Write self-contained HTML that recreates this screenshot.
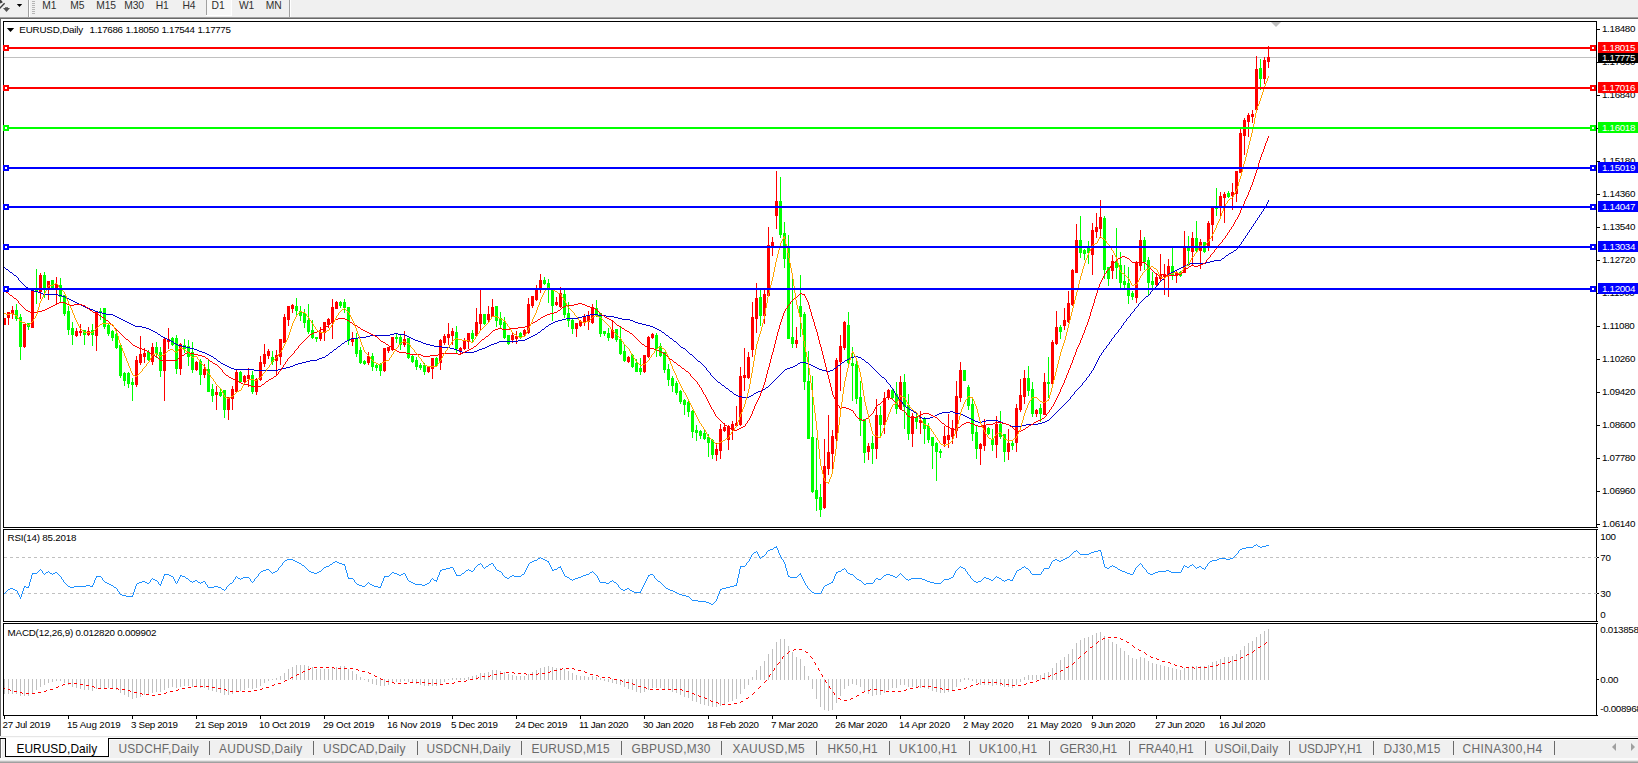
<!DOCTYPE html><html><head><meta charset="utf-8"><title>EURUSD,Daily</title><style>html,body{margin:0;padding:0;background:#f0f0f0;width:1638px;height:763px;overflow:hidden}</style></head><body><svg width="1638" height="763" viewBox="0 0 1638 763" style="position:absolute;left:0;top:0" shape-rendering="crispEdges" font-family="'Liberation Sans',sans-serif">
<rect x="0" y="0" width="1638" height="763" fill="#f0f0f0"/>
<rect x="0" y="17" width="1638" height="1" fill="#a0a0a0"/>
<rect x="0" y="18" width="1638" height="1" fill="#696969"/>
<rect x="0" y="19" width="1638" height="717" fill="#ffffff"/>
<rect x="0" y="19" width="1" height="717" fill="#696969"/>
<rect x="28" y="0" width="1" height="17" fill="#a0a0a0"/>
<rect x="29" y="0" width="1" height="17" fill="#ffffff"/>
<rect x="289" y="0" width="1" height="17" fill="#a0a0a0"/>
<rect x="290" y="0" width="1" height="17" fill="#ffffff"/>
<rect x="32" y="1" width="3" height="1" fill="#b4b4b4"/>
<rect x="32" y="3" width="3" height="1" fill="#b4b4b4"/>
<rect x="32" y="5" width="3" height="1" fill="#b4b4b4"/>
<rect x="32" y="7" width="3" height="1" fill="#b4b4b4"/>
<rect x="32" y="9" width="3" height="1" fill="#b4b4b4"/>
<rect x="32" y="11" width="3" height="1" fill="#b4b4b4"/>
<rect x="32" y="13" width="3" height="1" fill="#b4b4b4"/>
<rect x="206" y="0" width="1" height="15" fill="#a0a0a0"/>
<rect x="207" y="0" width="24" height="15" fill="#f8f8f8"/>
<rect x="206" y="15" width="26" height="1" fill="#ffffff"/>
<rect x="231" y="0" width="1" height="15" fill="#ffffff"/>
<path d="M-1 9 L4.6 3.2" stroke="#404040" stroke-width="1.4" fill="none" shape-rendering="auto"/><path d="M0 0 L1 0 L2.8 2.2 L1.5 3 L0 3.5 Z" fill="#404040" shape-rendering="auto"/>
<path d="M3 8 L5 8 L5 7.3 L8 7.3 L8 8 L10 8 L6.5 12 Z" fill="#505050" shape-rendering="auto"/>
<path d="M16.8 4 L22.2 4 L19.5 7 Z" fill="#000" shape-rendering="auto"/>
<text x="42.3" y="9" font-size="10.3" letter-spacing="-0.15" fill="#303030">M1</text>
<text x="70.3" y="9" font-size="10.3" letter-spacing="-0.15" fill="#303030">M5</text>
<text x="96.3" y="9" font-size="10.3" letter-spacing="-0.15" fill="#303030">M15</text>
<text x="124.3" y="9" font-size="10.3" letter-spacing="-0.15" fill="#303030">M30</text>
<text x="155.70000000000002" y="9" font-size="10.3" letter-spacing="-0.15" fill="#303030">H1</text>
<text x="182.5" y="9" font-size="10.3" letter-spacing="-0.15" fill="#303030">H4</text>
<text x="211.60000000000002" y="9" font-size="10.3" letter-spacing="-0.15" fill="#303030">D1</text>
<text x="239.0" y="9" font-size="10.3" letter-spacing="-0.15" fill="#303030">W1</text>
<text x="265.8" y="9" font-size="10.3" letter-spacing="-0.15" fill="#303030">MN</text>
<rect x="4" y="57" width="1592" height="1" fill="#c0c0c0"/>
<rect x="4" y="318" width="1" height="7" fill="#ff0000"/>
<rect x="3" y="318" width="3" height="7" fill="#ff0000"/>
<rect x="8" y="312" width="1" height="13" fill="#ff0000"/>
<rect x="7" y="312" width="3" height="6" fill="#ff0000"/>
<rect x="12" y="306" width="1" height="13" fill="#ff0000"/>
<rect x="11" y="310" width="3" height="4" fill="#ff0000"/>
<rect x="16" y="304" width="1" height="17" fill="#00ff00"/>
<rect x="15" y="310" width="3" height="9" fill="#00ff00"/>
<rect x="20" y="314" width="1" height="46" fill="#00ff00"/>
<rect x="19" y="317" width="3" height="30" fill="#00ff00"/>
<rect x="24" y="324" width="1" height="24" fill="#ff0000"/>
<rect x="23" y="324" width="3" height="23" fill="#ff0000"/>
<rect x="28" y="323" width="1" height="7" fill="#00ff00"/>
<rect x="27" y="323" width="3" height="4" fill="#00ff00"/>
<rect x="32" y="290" width="1" height="38" fill="#ff0000"/>
<rect x="31" y="290" width="3" height="38" fill="#ff0000"/>
<rect x="36" y="269" width="1" height="35" fill="#00ff00"/>
<rect x="35" y="288" width="3" height="3" fill="#00ff00"/>
<rect x="40" y="273" width="1" height="26" fill="#ff0000"/>
<rect x="39" y="275" width="3" height="17" fill="#ff0000"/>
<rect x="44" y="272" width="1" height="26" fill="#00ff00"/>
<rect x="43" y="275" width="3" height="15" fill="#00ff00"/>
<rect x="48" y="281" width="1" height="19" fill="#ff0000"/>
<rect x="47" y="281" width="3" height="9" fill="#ff0000"/>
<rect x="52" y="280" width="1" height="9" fill="#00ff00"/>
<rect x="51" y="280" width="3" height="9" fill="#00ff00"/>
<rect x="56" y="277" width="1" height="27" fill="#ff0000"/>
<rect x="55" y="284" width="3" height="5" fill="#ff0000"/>
<rect x="60" y="278" width="1" height="24" fill="#00ff00"/>
<rect x="59" y="285" width="3" height="12" fill="#00ff00"/>
<rect x="64" y="295" width="1" height="21" fill="#00ff00"/>
<rect x="63" y="295" width="3" height="19" fill="#00ff00"/>
<rect x="68" y="306" width="1" height="29" fill="#00ff00"/>
<rect x="67" y="311" width="3" height="19" fill="#00ff00"/>
<rect x="72" y="322" width="1" height="23" fill="#00ff00"/>
<rect x="71" y="328" width="3" height="7" fill="#00ff00"/>
<rect x="76" y="328" width="1" height="9" fill="#ff0000"/>
<rect x="75" y="331" width="3" height="5" fill="#ff0000"/>
<rect x="80" y="324" width="1" height="12" fill="#ff0000"/>
<rect x="79" y="331" width="3" height="2" fill="#ff0000"/>
<rect x="84" y="330" width="1" height="15" fill="#00ff00"/>
<rect x="83" y="330" width="3" height="5" fill="#00ff00"/>
<rect x="88" y="327" width="1" height="9" fill="#ff0000"/>
<rect x="87" y="331" width="3" height="4" fill="#ff0000"/>
<rect x="92" y="324" width="1" height="22" fill="#00ff00"/>
<rect x="91" y="330" width="3" height="5" fill="#00ff00"/>
<rect x="96" y="311" width="1" height="40" fill="#ff0000"/>
<rect x="95" y="311" width="3" height="25" fill="#ff0000"/>
<rect x="100" y="308" width="1" height="12" fill="#00ff00"/>
<rect x="99" y="311" width="3" height="2" fill="#00ff00"/>
<rect x="104" y="308" width="1" height="21" fill="#00ff00"/>
<rect x="103" y="308" width="3" height="19" fill="#00ff00"/>
<rect x="108" y="323" width="1" height="13" fill="#00ff00"/>
<rect x="107" y="325" width="3" height="9" fill="#00ff00"/>
<rect x="112" y="330" width="1" height="11" fill="#00ff00"/>
<rect x="111" y="331" width="3" height="7" fill="#00ff00"/>
<rect x="116" y="330" width="1" height="19" fill="#00ff00"/>
<rect x="115" y="334" width="3" height="14" fill="#00ff00"/>
<rect x="120" y="345" width="1" height="33" fill="#00ff00"/>
<rect x="119" y="345" width="3" height="31" fill="#00ff00"/>
<rect x="124" y="372" width="1" height="14" fill="#00ff00"/>
<rect x="123" y="373" width="3" height="8" fill="#00ff00"/>
<rect x="128" y="372" width="1" height="16" fill="#00ff00"/>
<rect x="127" y="373" width="3" height="11" fill="#00ff00"/>
<rect x="132" y="378" width="1" height="23" fill="#00ff00"/>
<rect x="131" y="382" width="3" height="3" fill="#00ff00"/>
<rect x="136" y="356" width="1" height="31" fill="#ff0000"/>
<rect x="135" y="360" width="3" height="25" fill="#ff0000"/>
<rect x="140" y="336" width="1" height="29" fill="#ff0000"/>
<rect x="139" y="354" width="3" height="9" fill="#ff0000"/>
<rect x="144" y="348" width="1" height="15" fill="#ff0000"/>
<rect x="143" y="353" width="3" height="4" fill="#ff0000"/>
<rect x="148" y="350" width="1" height="11" fill="#00ff00"/>
<rect x="147" y="352" width="3" height="8" fill="#00ff00"/>
<rect x="152" y="343" width="1" height="22" fill="#ff0000"/>
<rect x="151" y="347" width="3" height="15" fill="#ff0000"/>
<rect x="156" y="342" width="1" height="16" fill="#00ff00"/>
<rect x="155" y="347" width="3" height="7" fill="#00ff00"/>
<rect x="160" y="347" width="1" height="30" fill="#00ff00"/>
<rect x="159" y="352" width="3" height="19" fill="#00ff00"/>
<rect x="164" y="338" width="1" height="63" fill="#ff0000"/>
<rect x="163" y="339" width="3" height="32" fill="#ff0000"/>
<rect x="168" y="328" width="1" height="21" fill="#ff0000"/>
<rect x="167" y="339" width="3" height="3" fill="#ff0000"/>
<rect x="172" y="337" width="1" height="9" fill="#00ff00"/>
<rect x="171" y="338" width="3" height="7" fill="#00ff00"/>
<rect x="176" y="335" width="1" height="39" fill="#00ff00"/>
<rect x="175" y="338" width="3" height="31" fill="#00ff00"/>
<rect x="180" y="343" width="1" height="32" fill="#ff0000"/>
<rect x="179" y="344" width="3" height="25" fill="#ff0000"/>
<rect x="184" y="339" width="1" height="14" fill="#00ff00"/>
<rect x="183" y="345" width="3" height="4" fill="#00ff00"/>
<rect x="188" y="340" width="1" height="26" fill="#00ff00"/>
<rect x="187" y="346" width="3" height="11" fill="#00ff00"/>
<rect x="192" y="342" width="1" height="31" fill="#00ff00"/>
<rect x="191" y="352" width="3" height="18" fill="#00ff00"/>
<rect x="196" y="361" width="1" height="10" fill="#ff0000"/>
<rect x="195" y="362" width="3" height="8" fill="#ff0000"/>
<rect x="200" y="359" width="1" height="26" fill="#00ff00"/>
<rect x="199" y="361" width="3" height="14" fill="#00ff00"/>
<rect x="204" y="364" width="1" height="14" fill="#ff0000"/>
<rect x="203" y="369" width="3" height="6" fill="#ff0000"/>
<rect x="208" y="360" width="1" height="32" fill="#00ff00"/>
<rect x="207" y="369" width="3" height="23" fill="#00ff00"/>
<rect x="212" y="384" width="1" height="18" fill="#00ff00"/>
<rect x="211" y="389" width="3" height="7" fill="#00ff00"/>
<rect x="216" y="386" width="1" height="24" fill="#ff0000"/>
<rect x="215" y="392" width="3" height="3" fill="#ff0000"/>
<rect x="220" y="389" width="1" height="8" fill="#00ff00"/>
<rect x="219" y="392" width="3" height="4" fill="#00ff00"/>
<rect x="224" y="390" width="1" height="28" fill="#00ff00"/>
<rect x="223" y="390" width="3" height="20" fill="#00ff00"/>
<rect x="228" y="397" width="1" height="23" fill="#ff0000"/>
<rect x="227" y="397" width="3" height="13" fill="#ff0000"/>
<rect x="232" y="386" width="1" height="24" fill="#ff0000"/>
<rect x="231" y="389" width="3" height="10" fill="#ff0000"/>
<rect x="236" y="370" width="1" height="23" fill="#ff0000"/>
<rect x="235" y="372" width="3" height="20" fill="#ff0000"/>
<rect x="240" y="371" width="1" height="12" fill="#00ff00"/>
<rect x="239" y="372" width="3" height="10" fill="#00ff00"/>
<rect x="244" y="375" width="1" height="8" fill="#ff0000"/>
<rect x="243" y="376" width="3" height="6" fill="#ff0000"/>
<rect x="248" y="368" width="1" height="19" fill="#ff0000"/>
<rect x="247" y="375" width="3" height="4" fill="#ff0000"/>
<rect x="252" y="371" width="1" height="23" fill="#00ff00"/>
<rect x="251" y="375" width="3" height="17" fill="#00ff00"/>
<rect x="256" y="378" width="1" height="17" fill="#ff0000"/>
<rect x="255" y="379" width="3" height="13" fill="#ff0000"/>
<rect x="260" y="356" width="1" height="25" fill="#ff0000"/>
<rect x="259" y="362" width="3" height="18" fill="#ff0000"/>
<rect x="264" y="344" width="1" height="23" fill="#ff0000"/>
<rect x="263" y="354" width="3" height="10" fill="#ff0000"/>
<rect x="268" y="349" width="1" height="10" fill="#ff0000"/>
<rect x="267" y="351" width="3" height="5" fill="#ff0000"/>
<rect x="272" y="351" width="1" height="14" fill="#00ff00"/>
<rect x="271" y="357" width="3" height="5" fill="#00ff00"/>
<rect x="276" y="350" width="1" height="25" fill="#ff0000"/>
<rect x="275" y="355" width="3" height="6" fill="#ff0000"/>
<rect x="280" y="339" width="1" height="26" fill="#ff0000"/>
<rect x="279" y="339" width="3" height="18" fill="#ff0000"/>
<rect x="284" y="314" width="1" height="29" fill="#ff0000"/>
<rect x="283" y="317" width="3" height="26" fill="#ff0000"/>
<rect x="288" y="306" width="1" height="20" fill="#ff0000"/>
<rect x="287" y="306" width="3" height="14" fill="#ff0000"/>
<rect x="292" y="304" width="1" height="9" fill="#ff0000"/>
<rect x="291" y="305" width="3" height="4" fill="#ff0000"/>
<rect x="296" y="298" width="1" height="17" fill="#00ff00"/>
<rect x="295" y="306" width="3" height="5" fill="#00ff00"/>
<rect x="300" y="306" width="1" height="15" fill="#00ff00"/>
<rect x="299" y="311" width="3" height="5" fill="#00ff00"/>
<rect x="304" y="309" width="1" height="19" fill="#00ff00"/>
<rect x="303" y="313" width="3" height="10" fill="#00ff00"/>
<rect x="308" y="304" width="1" height="30" fill="#00ff00"/>
<rect x="307" y="320" width="3" height="12" fill="#00ff00"/>
<rect x="312" y="320" width="1" height="19" fill="#00ff00"/>
<rect x="311" y="330" width="3" height="8" fill="#00ff00"/>
<rect x="316" y="337" width="1" height="5" fill="#00ff00"/>
<rect x="315" y="337" width="3" height="2" fill="#00ff00"/>
<rect x="320" y="327" width="1" height="14" fill="#ff0000"/>
<rect x="319" y="332" width="3" height="7" fill="#ff0000"/>
<rect x="324" y="322" width="1" height="19" fill="#ff0000"/>
<rect x="323" y="322" width="3" height="11" fill="#ff0000"/>
<rect x="328" y="318" width="1" height="10" fill="#ff0000"/>
<rect x="327" y="319" width="3" height="6" fill="#ff0000"/>
<rect x="332" y="299" width="1" height="40" fill="#ff0000"/>
<rect x="331" y="307" width="3" height="15" fill="#ff0000"/>
<rect x="336" y="301" width="1" height="8" fill="#ff0000"/>
<rect x="335" y="302" width="3" height="7" fill="#ff0000"/>
<rect x="340" y="301" width="1" height="7" fill="#00ff00"/>
<rect x="339" y="302" width="3" height="4" fill="#00ff00"/>
<rect x="344" y="299" width="1" height="14" fill="#00ff00"/>
<rect x="343" y="302" width="3" height="6" fill="#00ff00"/>
<rect x="348" y="307" width="1" height="38" fill="#00ff00"/>
<rect x="347" y="307" width="3" height="34" fill="#00ff00"/>
<rect x="352" y="332" width="1" height="14" fill="#ff0000"/>
<rect x="351" y="339" width="3" height="3" fill="#ff0000"/>
<rect x="356" y="333" width="1" height="24" fill="#00ff00"/>
<rect x="355" y="339" width="3" height="15" fill="#00ff00"/>
<rect x="360" y="347" width="1" height="17" fill="#00ff00"/>
<rect x="359" y="350" width="3" height="13" fill="#00ff00"/>
<rect x="364" y="360" width="1" height="5" fill="#00ff00"/>
<rect x="363" y="361" width="3" height="3" fill="#00ff00"/>
<rect x="368" y="352" width="1" height="13" fill="#ff0000"/>
<rect x="367" y="356" width="3" height="7" fill="#ff0000"/>
<rect x="372" y="353" width="1" height="18" fill="#00ff00"/>
<rect x="371" y="356" width="3" height="11" fill="#00ff00"/>
<rect x="376" y="363" width="1" height="8" fill="#00ff00"/>
<rect x="375" y="365" width="3" height="3" fill="#00ff00"/>
<rect x="380" y="363" width="1" height="13" fill="#00ff00"/>
<rect x="379" y="364" width="3" height="7" fill="#00ff00"/>
<rect x="384" y="348" width="1" height="24" fill="#ff0000"/>
<rect x="383" y="348" width="3" height="23" fill="#ff0000"/>
<rect x="388" y="347" width="1" height="6" fill="#ff0000"/>
<rect x="387" y="347" width="3" height="4" fill="#ff0000"/>
<rect x="392" y="337" width="1" height="14" fill="#ff0000"/>
<rect x="391" y="337" width="3" height="13" fill="#ff0000"/>
<rect x="396" y="333" width="1" height="10" fill="#00ff00"/>
<rect x="395" y="337" width="3" height="2" fill="#00ff00"/>
<rect x="400" y="335" width="1" height="15" fill="#00ff00"/>
<rect x="399" y="337" width="3" height="8" fill="#00ff00"/>
<rect x="404" y="331" width="1" height="16" fill="#ff0000"/>
<rect x="403" y="339" width="3" height="6" fill="#ff0000"/>
<rect x="408" y="338" width="1" height="21" fill="#00ff00"/>
<rect x="407" y="338" width="3" height="20" fill="#00ff00"/>
<rect x="412" y="355" width="1" height="8" fill="#00ff00"/>
<rect x="411" y="356" width="3" height="6" fill="#00ff00"/>
<rect x="416" y="357" width="1" height="13" fill="#00ff00"/>
<rect x="415" y="360" width="3" height="7" fill="#00ff00"/>
<rect x="420" y="363" width="1" height="7" fill="#00ff00"/>
<rect x="419" y="365" width="3" height="3" fill="#00ff00"/>
<rect x="424" y="363" width="1" height="12" fill="#00ff00"/>
<rect x="423" y="365" width="3" height="7" fill="#00ff00"/>
<rect x="428" y="366" width="1" height="7" fill="#ff0000"/>
<rect x="427" y="367" width="3" height="5" fill="#ff0000"/>
<rect x="432" y="358" width="1" height="21" fill="#ff0000"/>
<rect x="431" y="358" width="3" height="11" fill="#ff0000"/>
<rect x="436" y="357" width="1" height="10" fill="#00ff00"/>
<rect x="435" y="358" width="3" height="8" fill="#00ff00"/>
<rect x="440" y="339" width="1" height="31" fill="#ff0000"/>
<rect x="439" y="340" width="3" height="23" fill="#ff0000"/>
<rect x="444" y="334" width="1" height="11" fill="#ff0000"/>
<rect x="443" y="336" width="3" height="7" fill="#ff0000"/>
<rect x="448" y="323" width="1" height="22" fill="#ff0000"/>
<rect x="447" y="334" width="3" height="4" fill="#ff0000"/>
<rect x="452" y="328" width="1" height="17" fill="#ff0000"/>
<rect x="451" y="331" width="3" height="5" fill="#ff0000"/>
<rect x="456" y="326" width="1" height="28" fill="#00ff00"/>
<rect x="455" y="332" width="3" height="17" fill="#00ff00"/>
<rect x="460" y="347" width="1" height="7" fill="#ff0000"/>
<rect x="459" y="348" width="3" height="4" fill="#ff0000"/>
<rect x="464" y="338" width="1" height="12" fill="#ff0000"/>
<rect x="463" y="341" width="3" height="8" fill="#ff0000"/>
<rect x="468" y="333" width="1" height="16" fill="#ff0000"/>
<rect x="467" y="333" width="3" height="9" fill="#ff0000"/>
<rect x="472" y="330" width="1" height="13" fill="#00ff00"/>
<rect x="471" y="333" width="3" height="6" fill="#00ff00"/>
<rect x="476" y="308" width="1" height="29" fill="#ff0000"/>
<rect x="475" y="322" width="3" height="14" fill="#ff0000"/>
<rect x="480" y="290" width="1" height="40" fill="#ff0000"/>
<rect x="479" y="314" width="3" height="10" fill="#ff0000"/>
<rect x="484" y="314" width="1" height="11" fill="#00ff00"/>
<rect x="483" y="314" width="3" height="10" fill="#00ff00"/>
<rect x="488" y="306" width="1" height="16" fill="#ff0000"/>
<rect x="487" y="314" width="3" height="6" fill="#ff0000"/>
<rect x="492" y="299" width="1" height="18" fill="#ff0000"/>
<rect x="491" y="307" width="3" height="10" fill="#ff0000"/>
<rect x="496" y="306" width="1" height="21" fill="#00ff00"/>
<rect x="495" y="306" width="3" height="15" fill="#00ff00"/>
<rect x="500" y="312" width="1" height="16" fill="#00ff00"/>
<rect x="499" y="318" width="3" height="7" fill="#00ff00"/>
<rect x="504" y="317" width="1" height="22" fill="#00ff00"/>
<rect x="503" y="322" width="3" height="16" fill="#00ff00"/>
<rect x="508" y="335" width="1" height="10" fill="#00ff00"/>
<rect x="507" y="335" width="3" height="9" fill="#00ff00"/>
<rect x="512" y="332" width="1" height="11" fill="#ff0000"/>
<rect x="511" y="335" width="3" height="5" fill="#ff0000"/>
<rect x="516" y="331" width="1" height="13" fill="#ff0000"/>
<rect x="515" y="336" width="3" height="3" fill="#ff0000"/>
<rect x="520" y="332" width="1" height="7" fill="#00ff00"/>
<rect x="519" y="333" width="3" height="4" fill="#00ff00"/>
<rect x="524" y="329" width="1" height="7" fill="#ff0000"/>
<rect x="523" y="330" width="3" height="5" fill="#ff0000"/>
<rect x="528" y="298" width="1" height="36" fill="#ff0000"/>
<rect x="527" y="304" width="3" height="29" fill="#ff0000"/>
<rect x="532" y="296" width="1" height="12" fill="#ff0000"/>
<rect x="531" y="296" width="3" height="10" fill="#ff0000"/>
<rect x="536" y="285" width="1" height="16" fill="#ff0000"/>
<rect x="535" y="290" width="3" height="10" fill="#ff0000"/>
<rect x="540" y="274" width="1" height="19" fill="#ff0000"/>
<rect x="539" y="280" width="3" height="9" fill="#ff0000"/>
<rect x="544" y="277" width="1" height="8" fill="#00ff00"/>
<rect x="543" y="280" width="3" height="4" fill="#00ff00"/>
<rect x="548" y="279" width="1" height="24" fill="#00ff00"/>
<rect x="547" y="283" width="3" height="5" fill="#00ff00"/>
<rect x="552" y="290" width="1" height="31" fill="#00ff00"/>
<rect x="551" y="290" width="3" height="16" fill="#00ff00"/>
<rect x="556" y="297" width="1" height="9" fill="#ff0000"/>
<rect x="555" y="302" width="3" height="3" fill="#ff0000"/>
<rect x="560" y="287" width="1" height="21" fill="#ff0000"/>
<rect x="559" y="293" width="3" height="14" fill="#ff0000"/>
<rect x="564" y="290" width="1" height="28" fill="#00ff00"/>
<rect x="563" y="294" width="3" height="21" fill="#00ff00"/>
<rect x="568" y="302" width="1" height="25" fill="#00ff00"/>
<rect x="567" y="313" width="3" height="8" fill="#00ff00"/>
<rect x="572" y="318" width="1" height="16" fill="#00ff00"/>
<rect x="571" y="320" width="3" height="9" fill="#00ff00"/>
<rect x="576" y="323" width="1" height="14" fill="#ff0000"/>
<rect x="575" y="323" width="3" height="6" fill="#ff0000"/>
<rect x="580" y="320" width="1" height="7" fill="#ff0000"/>
<rect x="579" y="321" width="3" height="5" fill="#ff0000"/>
<rect x="584" y="314" width="1" height="12" fill="#ff0000"/>
<rect x="583" y="317" width="3" height="6" fill="#ff0000"/>
<rect x="588" y="311" width="1" height="19" fill="#ff0000"/>
<rect x="587" y="315" width="3" height="7" fill="#ff0000"/>
<rect x="592" y="304" width="1" height="20" fill="#ff0000"/>
<rect x="591" y="307" width="3" height="16" fill="#ff0000"/>
<rect x="596" y="300" width="1" height="17" fill="#00ff00"/>
<rect x="595" y="308" width="3" height="8" fill="#00ff00"/>
<rect x="600" y="313" width="1" height="24" fill="#00ff00"/>
<rect x="599" y="313" width="3" height="21" fill="#00ff00"/>
<rect x="604" y="331" width="1" height="5" fill="#00ff00"/>
<rect x="603" y="331" width="3" height="3" fill="#00ff00"/>
<rect x="608" y="328" width="1" height="13" fill="#00ff00"/>
<rect x="607" y="333" width="3" height="5" fill="#00ff00"/>
<rect x="612" y="321" width="1" height="18" fill="#ff0000"/>
<rect x="611" y="330" width="3" height="8" fill="#ff0000"/>
<rect x="616" y="329" width="1" height="13" fill="#00ff00"/>
<rect x="615" y="329" width="3" height="11" fill="#00ff00"/>
<rect x="620" y="327" width="1" height="28" fill="#00ff00"/>
<rect x="619" y="339" width="3" height="15" fill="#00ff00"/>
<rect x="624" y="345" width="1" height="17" fill="#00ff00"/>
<rect x="623" y="351" width="3" height="10" fill="#00ff00"/>
<rect x="628" y="356" width="1" height="7" fill="#ff0000"/>
<rect x="627" y="357" width="3" height="5" fill="#ff0000"/>
<rect x="632" y="354" width="1" height="14" fill="#00ff00"/>
<rect x="631" y="355" width="3" height="12" fill="#00ff00"/>
<rect x="636" y="359" width="1" height="13" fill="#00ff00"/>
<rect x="635" y="363" width="3" height="9" fill="#00ff00"/>
<rect x="640" y="358" width="1" height="17" fill="#00ff00"/>
<rect x="639" y="368" width="3" height="4" fill="#00ff00"/>
<rect x="644" y="355" width="1" height="18" fill="#ff0000"/>
<rect x="643" y="355" width="3" height="17" fill="#ff0000"/>
<rect x="648" y="336" width="1" height="22" fill="#ff0000"/>
<rect x="647" y="337" width="3" height="20" fill="#ff0000"/>
<rect x="652" y="333" width="1" height="6" fill="#ff0000"/>
<rect x="651" y="334" width="3" height="4" fill="#ff0000"/>
<rect x="656" y="333" width="1" height="24" fill="#00ff00"/>
<rect x="655" y="335" width="3" height="14" fill="#00ff00"/>
<rect x="660" y="343" width="1" height="14" fill="#00ff00"/>
<rect x="659" y="346" width="3" height="10" fill="#00ff00"/>
<rect x="664" y="352" width="1" height="21" fill="#00ff00"/>
<rect x="663" y="352" width="3" height="18" fill="#00ff00"/>
<rect x="668" y="364" width="1" height="22" fill="#00ff00"/>
<rect x="667" y="369" width="3" height="11" fill="#00ff00"/>
<rect x="672" y="376" width="1" height="16" fill="#00ff00"/>
<rect x="671" y="378" width="3" height="8" fill="#00ff00"/>
<rect x="676" y="381" width="1" height="14" fill="#00ff00"/>
<rect x="675" y="383" width="3" height="10" fill="#00ff00"/>
<rect x="680" y="390" width="1" height="14" fill="#00ff00"/>
<rect x="679" y="391" width="3" height="11" fill="#00ff00"/>
<rect x="684" y="399" width="1" height="16" fill="#00ff00"/>
<rect x="683" y="400" width="3" height="5" fill="#00ff00"/>
<rect x="688" y="399" width="1" height="18" fill="#00ff00"/>
<rect x="687" y="402" width="3" height="10" fill="#00ff00"/>
<rect x="692" y="410" width="1" height="28" fill="#00ff00"/>
<rect x="691" y="411" width="3" height="21" fill="#00ff00"/>
<rect x="696" y="425" width="1" height="16" fill="#00ff00"/>
<rect x="695" y="430" width="3" height="3" fill="#00ff00"/>
<rect x="700" y="430" width="1" height="9" fill="#00ff00"/>
<rect x="699" y="431" width="3" height="5" fill="#00ff00"/>
<rect x="704" y="429" width="1" height="11" fill="#00ff00"/>
<rect x="703" y="433" width="3" height="6" fill="#00ff00"/>
<rect x="708" y="434" width="1" height="23" fill="#00ff00"/>
<rect x="707" y="437" width="3" height="6" fill="#00ff00"/>
<rect x="712" y="439" width="1" height="20" fill="#00ff00"/>
<rect x="711" y="440" width="3" height="15" fill="#00ff00"/>
<rect x="716" y="443" width="1" height="18" fill="#ff0000"/>
<rect x="715" y="449" width="3" height="6" fill="#ff0000"/>
<rect x="720" y="424" width="1" height="35" fill="#ff0000"/>
<rect x="719" y="429" width="3" height="22" fill="#ff0000"/>
<rect x="724" y="423" width="1" height="9" fill="#ff0000"/>
<rect x="723" y="427" width="3" height="4" fill="#ff0000"/>
<rect x="728" y="425" width="1" height="25" fill="#ff0000"/>
<rect x="727" y="426" width="3" height="14" fill="#ff0000"/>
<rect x="732" y="421" width="1" height="19" fill="#ff0000"/>
<rect x="731" y="424" width="3" height="6" fill="#ff0000"/>
<rect x="736" y="406" width="1" height="21" fill="#ff0000"/>
<rect x="735" y="423" width="3" height="3" fill="#ff0000"/>
<rect x="740" y="367" width="1" height="59" fill="#ff0000"/>
<rect x="739" y="376" width="3" height="49" fill="#ff0000"/>
<rect x="744" y="348" width="1" height="43" fill="#ff0000"/>
<rect x="743" y="375" width="3" height="3" fill="#ff0000"/>
<rect x="748" y="352" width="1" height="27" fill="#ff0000"/>
<rect x="747" y="357" width="3" height="21" fill="#ff0000"/>
<rect x="752" y="302" width="1" height="55" fill="#ff0000"/>
<rect x="751" y="317" width="3" height="33" fill="#ff0000"/>
<rect x="756" y="283" width="1" height="50" fill="#ff0000"/>
<rect x="755" y="298" width="3" height="21" fill="#ff0000"/>
<rect x="760" y="290" width="1" height="36" fill="#00ff00"/>
<rect x="759" y="297" width="3" height="19" fill="#00ff00"/>
<rect x="764" y="289" width="1" height="35" fill="#ff0000"/>
<rect x="763" y="294" width="3" height="22" fill="#ff0000"/>
<rect x="768" y="227" width="1" height="70" fill="#ff0000"/>
<rect x="767" y="245" width="3" height="51" fill="#ff0000"/>
<rect x="772" y="237" width="1" height="19" fill="#ff0000"/>
<rect x="771" y="242" width="3" height="6" fill="#ff0000"/>
<rect x="776" y="171" width="1" height="58" fill="#ff0000"/>
<rect x="775" y="201" width="3" height="15" fill="#ff0000"/>
<rect x="780" y="177" width="1" height="61" fill="#00ff00"/>
<rect x="779" y="201" width="3" height="34" fill="#00ff00"/>
<rect x="784" y="222" width="1" height="46" fill="#00ff00"/>
<rect x="783" y="233" width="3" height="26" fill="#00ff00"/>
<rect x="788" y="235" width="1" height="104" fill="#00ff00"/>
<rect x="787" y="246" width="3" height="93" fill="#00ff00"/>
<rect x="792" y="279" width="1" height="69" fill="#00ff00"/>
<rect x="791" y="337" width="3" height="7" fill="#00ff00"/>
<rect x="796" y="327" width="1" height="21" fill="#ff0000"/>
<rect x="795" y="340" width="3" height="4" fill="#ff0000"/>
<rect x="800" y="275" width="1" height="62" fill="#00ff00"/>
<rect x="799" y="306" width="3" height="11" fill="#00ff00"/>
<rect x="804" y="312" width="1" height="78" fill="#00ff00"/>
<rect x="803" y="314" width="3" height="68" fill="#00ff00"/>
<rect x="808" y="351" width="1" height="88" fill="#00ff00"/>
<rect x="807" y="381" width="3" height="58" fill="#00ff00"/>
<rect x="812" y="376" width="1" height="117" fill="#00ff00"/>
<rect x="811" y="437" width="3" height="55" fill="#00ff00"/>
<rect x="816" y="438" width="1" height="73" fill="#00ff00"/>
<rect x="815" y="490" width="3" height="9" fill="#00ff00"/>
<rect x="820" y="484" width="1" height="33" fill="#00ff00"/>
<rect x="819" y="497" width="3" height="13" fill="#00ff00"/>
<rect x="824" y="439" width="1" height="70" fill="#ff0000"/>
<rect x="823" y="466" width="3" height="42" fill="#ff0000"/>
<rect x="828" y="415" width="1" height="60" fill="#ff0000"/>
<rect x="827" y="452" width="3" height="17" fill="#ff0000"/>
<rect x="832" y="430" width="1" height="39" fill="#ff0000"/>
<rect x="831" y="436" width="3" height="18" fill="#ff0000"/>
<rect x="836" y="358" width="1" height="83" fill="#ff0000"/>
<rect x="835" y="360" width="3" height="79" fill="#ff0000"/>
<rect x="840" y="335" width="1" height="56" fill="#ff0000"/>
<rect x="839" y="346" width="3" height="16" fill="#ff0000"/>
<rect x="844" y="321" width="1" height="29" fill="#ff0000"/>
<rect x="843" y="322" width="3" height="26" fill="#ff0000"/>
<rect x="848" y="312" width="1" height="54" fill="#00ff00"/>
<rect x="847" y="325" width="3" height="38" fill="#00ff00"/>
<rect x="852" y="347" width="1" height="54" fill="#00ff00"/>
<rect x="851" y="363" width="3" height="3" fill="#00ff00"/>
<rect x="856" y="359" width="1" height="45" fill="#00ff00"/>
<rect x="855" y="364" width="3" height="35" fill="#00ff00"/>
<rect x="860" y="381" width="1" height="55" fill="#00ff00"/>
<rect x="859" y="397" width="3" height="24" fill="#00ff00"/>
<rect x="864" y="419" width="1" height="44" fill="#00ff00"/>
<rect x="863" y="419" width="3" height="34" fill="#00ff00"/>
<rect x="868" y="443" width="1" height="17" fill="#ff0000"/>
<rect x="867" y="446" width="3" height="6" fill="#ff0000"/>
<rect x="872" y="436" width="1" height="28" fill="#00ff00"/>
<rect x="871" y="443" width="3" height="6" fill="#00ff00"/>
<rect x="876" y="399" width="1" height="60" fill="#ff0000"/>
<rect x="875" y="415" width="3" height="34" fill="#ff0000"/>
<rect x="880" y="406" width="1" height="31" fill="#00ff00"/>
<rect x="879" y="415" width="3" height="10" fill="#00ff00"/>
<rect x="884" y="392" width="1" height="42" fill="#ff0000"/>
<rect x="883" y="398" width="3" height="27" fill="#ff0000"/>
<rect x="888" y="389" width="1" height="11" fill="#ff0000"/>
<rect x="887" y="390" width="3" height="8" fill="#ff0000"/>
<rect x="892" y="389" width="1" height="10" fill="#00ff00"/>
<rect x="891" y="390" width="3" height="8" fill="#00ff00"/>
<rect x="896" y="382" width="1" height="32" fill="#00ff00"/>
<rect x="895" y="394" width="3" height="15" fill="#00ff00"/>
<rect x="900" y="376" width="1" height="34" fill="#ff0000"/>
<rect x="899" y="382" width="3" height="27" fill="#ff0000"/>
<rect x="904" y="374" width="1" height="55" fill="#00ff00"/>
<rect x="903" y="382" width="3" height="25" fill="#00ff00"/>
<rect x="908" y="394" width="1" height="46" fill="#00ff00"/>
<rect x="907" y="405" width="3" height="29" fill="#00ff00"/>
<rect x="912" y="413" width="1" height="34" fill="#ff0000"/>
<rect x="911" y="416" width="3" height="18" fill="#ff0000"/>
<rect x="916" y="414" width="1" height="15" fill="#00ff00"/>
<rect x="915" y="417" width="3" height="5" fill="#00ff00"/>
<rect x="920" y="411" width="1" height="23" fill="#ff0000"/>
<rect x="919" y="420" width="3" height="3" fill="#ff0000"/>
<rect x="924" y="417" width="1" height="27" fill="#00ff00"/>
<rect x="923" y="419" width="3" height="10" fill="#00ff00"/>
<rect x="928" y="423" width="1" height="20" fill="#00ff00"/>
<rect x="927" y="426" width="3" height="14" fill="#00ff00"/>
<rect x="932" y="437" width="1" height="32" fill="#00ff00"/>
<rect x="931" y="437" width="3" height="9" fill="#00ff00"/>
<rect x="936" y="442" width="1" height="39" fill="#00ff00"/>
<rect x="935" y="443" width="3" height="9" fill="#00ff00"/>
<rect x="940" y="449" width="1" height="9" fill="#00ff00"/>
<rect x="939" y="451" width="3" height="2" fill="#00ff00"/>
<rect x="944" y="426" width="1" height="21" fill="#ff0000"/>
<rect x="943" y="436" width="3" height="8" fill="#ff0000"/>
<rect x="948" y="414" width="1" height="34" fill="#ff0000"/>
<rect x="947" y="435" width="3" height="5" fill="#ff0000"/>
<rect x="952" y="420" width="1" height="24" fill="#ff0000"/>
<rect x="951" y="428" width="3" height="9" fill="#ff0000"/>
<rect x="956" y="381" width="1" height="57" fill="#ff0000"/>
<rect x="955" y="396" width="3" height="35" fill="#ff0000"/>
<rect x="960" y="362" width="1" height="40" fill="#ff0000"/>
<rect x="959" y="370" width="3" height="28" fill="#ff0000"/>
<rect x="964" y="370" width="1" height="11" fill="#00ff00"/>
<rect x="963" y="370" width="3" height="11" fill="#00ff00"/>
<rect x="968" y="385" width="1" height="25" fill="#00ff00"/>
<rect x="967" y="387" width="3" height="19" fill="#00ff00"/>
<rect x="972" y="398" width="1" height="43" fill="#00ff00"/>
<rect x="971" y="404" width="3" height="30" fill="#00ff00"/>
<rect x="976" y="426" width="1" height="33" fill="#00ff00"/>
<rect x="975" y="432" width="3" height="17" fill="#00ff00"/>
<rect x="980" y="443" width="1" height="22" fill="#ff0000"/>
<rect x="979" y="444" width="3" height="5" fill="#ff0000"/>
<rect x="984" y="419" width="1" height="32" fill="#ff0000"/>
<rect x="983" y="425" width="3" height="21" fill="#ff0000"/>
<rect x="988" y="427" width="1" height="8" fill="#00ff00"/>
<rect x="987" y="428" width="3" height="6" fill="#00ff00"/>
<rect x="992" y="429" width="1" height="22" fill="#00ff00"/>
<rect x="991" y="439" width="3" height="6" fill="#00ff00"/>
<rect x="996" y="416" width="1" height="42" fill="#ff0000"/>
<rect x="995" y="424" width="3" height="21" fill="#ff0000"/>
<rect x="1000" y="411" width="1" height="28" fill="#00ff00"/>
<rect x="999" y="424" width="3" height="13" fill="#00ff00"/>
<rect x="1004" y="434" width="1" height="28" fill="#00ff00"/>
<rect x="1003" y="434" width="3" height="18" fill="#00ff00"/>
<rect x="1008" y="429" width="1" height="31" fill="#ff0000"/>
<rect x="1007" y="443" width="3" height="9" fill="#ff0000"/>
<rect x="1012" y="441" width="1" height="9" fill="#00ff00"/>
<rect x="1011" y="443" width="3" height="3" fill="#00ff00"/>
<rect x="1016" y="404" width="1" height="48" fill="#ff0000"/>
<rect x="1015" y="408" width="3" height="35" fill="#ff0000"/>
<rect x="1020" y="379" width="1" height="33" fill="#ff0000"/>
<rect x="1019" y="395" width="3" height="15" fill="#ff0000"/>
<rect x="1024" y="370" width="1" height="34" fill="#ff0000"/>
<rect x="1023" y="378" width="3" height="19" fill="#ff0000"/>
<rect x="1028" y="366" width="1" height="30" fill="#00ff00"/>
<rect x="1027" y="378" width="3" height="13" fill="#00ff00"/>
<rect x="1032" y="382" width="1" height="35" fill="#00ff00"/>
<rect x="1031" y="389" width="3" height="25" fill="#00ff00"/>
<rect x="1036" y="409" width="1" height="8" fill="#ff0000"/>
<rect x="1035" y="410" width="3" height="4" fill="#ff0000"/>
<rect x="1040" y="404" width="1" height="18" fill="#00ff00"/>
<rect x="1039" y="408" width="3" height="6" fill="#00ff00"/>
<rect x="1044" y="373" width="1" height="42" fill="#ff0000"/>
<rect x="1043" y="382" width="3" height="33" fill="#ff0000"/>
<rect x="1048" y="357" width="1" height="41" fill="#00ff00"/>
<rect x="1047" y="382" width="3" height="2" fill="#00ff00"/>
<rect x="1052" y="340" width="1" height="45" fill="#ff0000"/>
<rect x="1051" y="342" width="3" height="42" fill="#ff0000"/>
<rect x="1056" y="311" width="1" height="34" fill="#ff0000"/>
<rect x="1055" y="327" width="3" height="17" fill="#ff0000"/>
<rect x="1060" y="325" width="1" height="14" fill="#00ff00"/>
<rect x="1059" y="327" width="3" height="5" fill="#00ff00"/>
<rect x="1064" y="308" width="1" height="22" fill="#ff0000"/>
<rect x="1063" y="320" width="3" height="6" fill="#ff0000"/>
<rect x="1068" y="291" width="1" height="32" fill="#ff0000"/>
<rect x="1067" y="303" width="3" height="19" fill="#ff0000"/>
<rect x="1072" y="269" width="1" height="37" fill="#ff0000"/>
<rect x="1071" y="270" width="3" height="35" fill="#ff0000"/>
<rect x="1076" y="224" width="1" height="49" fill="#ff0000"/>
<rect x="1075" y="240" width="3" height="33" fill="#ff0000"/>
<rect x="1080" y="216" width="1" height="42" fill="#00ff00"/>
<rect x="1079" y="240" width="3" height="13" fill="#00ff00"/>
<rect x="1084" y="249" width="1" height="11" fill="#00ff00"/>
<rect x="1083" y="250" width="3" height="4" fill="#00ff00"/>
<rect x="1088" y="241" width="1" height="23" fill="#00ff00"/>
<rect x="1087" y="248" width="3" height="5" fill="#00ff00"/>
<rect x="1092" y="223" width="1" height="52" fill="#ff0000"/>
<rect x="1091" y="230" width="3" height="25" fill="#ff0000"/>
<rect x="1096" y="213" width="1" height="25" fill="#ff0000"/>
<rect x="1095" y="227" width="3" height="5" fill="#ff0000"/>
<rect x="1100" y="200" width="1" height="38" fill="#ff0000"/>
<rect x="1099" y="217" width="3" height="12" fill="#ff0000"/>
<rect x="1104" y="216" width="1" height="63" fill="#00ff00"/>
<rect x="1103" y="218" width="3" height="52" fill="#00ff00"/>
<rect x="1108" y="267" width="1" height="19" fill="#00ff00"/>
<rect x="1107" y="267" width="3" height="12" fill="#00ff00"/>
<rect x="1112" y="255" width="1" height="24" fill="#ff0000"/>
<rect x="1111" y="261" width="3" height="10" fill="#ff0000"/>
<rect x="1116" y="228" width="1" height="51" fill="#00ff00"/>
<rect x="1115" y="261" width="3" height="7" fill="#00ff00"/>
<rect x="1120" y="252" width="1" height="36" fill="#00ff00"/>
<rect x="1119" y="265" width="3" height="18" fill="#00ff00"/>
<rect x="1124" y="265" width="1" height="23" fill="#00ff00"/>
<rect x="1123" y="281" width="3" height="4" fill="#00ff00"/>
<rect x="1128" y="267" width="1" height="37" fill="#00ff00"/>
<rect x="1127" y="283" width="3" height="13" fill="#00ff00"/>
<rect x="1132" y="291" width="1" height="9" fill="#00ff00"/>
<rect x="1131" y="293" width="3" height="4" fill="#00ff00"/>
<rect x="1136" y="261" width="1" height="42" fill="#ff0000"/>
<rect x="1135" y="263" width="3" height="35" fill="#ff0000"/>
<rect x="1140" y="230" width="1" height="41" fill="#ff0000"/>
<rect x="1139" y="240" width="3" height="26" fill="#ff0000"/>
<rect x="1144" y="237" width="1" height="33" fill="#00ff00"/>
<rect x="1143" y="240" width="3" height="22" fill="#00ff00"/>
<rect x="1148" y="257" width="1" height="38" fill="#00ff00"/>
<rect x="1147" y="260" width="3" height="23" fill="#00ff00"/>
<rect x="1152" y="272" width="1" height="19" fill="#00ff00"/>
<rect x="1151" y="281" width="3" height="4" fill="#00ff00"/>
<rect x="1156" y="273" width="1" height="13" fill="#ff0000"/>
<rect x="1155" y="277" width="3" height="8" fill="#ff0000"/>
<rect x="1160" y="254" width="1" height="27" fill="#ff0000"/>
<rect x="1159" y="274" width="3" height="5" fill="#ff0000"/>
<rect x="1164" y="264" width="1" height="31" fill="#ff0000"/>
<rect x="1163" y="274" width="3" height="3" fill="#ff0000"/>
<rect x="1168" y="259" width="1" height="38" fill="#ff0000"/>
<rect x="1167" y="266" width="3" height="10" fill="#ff0000"/>
<rect x="1172" y="248" width="1" height="32" fill="#00ff00"/>
<rect x="1171" y="266" width="3" height="10" fill="#00ff00"/>
<rect x="1176" y="270" width="1" height="13" fill="#ff0000"/>
<rect x="1175" y="273" width="3" height="3" fill="#ff0000"/>
<rect x="1180" y="271" width="1" height="6" fill="#00ff00"/>
<rect x="1179" y="272" width="3" height="4" fill="#00ff00"/>
<rect x="1184" y="231" width="1" height="42" fill="#ff0000"/>
<rect x="1183" y="247" width="3" height="26" fill="#ff0000"/>
<rect x="1188" y="236" width="1" height="30" fill="#00ff00"/>
<rect x="1187" y="247" width="3" height="4" fill="#00ff00"/>
<rect x="1192" y="232" width="1" height="34" fill="#ff0000"/>
<rect x="1191" y="238" width="3" height="14" fill="#ff0000"/>
<rect x="1196" y="221" width="1" height="31" fill="#00ff00"/>
<rect x="1195" y="238" width="3" height="13" fill="#00ff00"/>
<rect x="1200" y="239" width="1" height="30" fill="#ff0000"/>
<rect x="1199" y="242" width="3" height="9" fill="#ff0000"/>
<rect x="1204" y="242" width="1" height="11" fill="#00ff00"/>
<rect x="1203" y="242" width="3" height="10" fill="#00ff00"/>
<rect x="1208" y="221" width="1" height="30" fill="#ff0000"/>
<rect x="1207" y="223" width="3" height="23" fill="#ff0000"/>
<rect x="1212" y="207" width="1" height="34" fill="#ff0000"/>
<rect x="1211" y="207" width="3" height="18" fill="#ff0000"/>
<rect x="1216" y="188" width="1" height="28" fill="#00ff00"/>
<rect x="1215" y="206" width="3" height="3" fill="#00ff00"/>
<rect x="1220" y="192" width="1" height="25" fill="#ff0000"/>
<rect x="1219" y="196" width="3" height="12" fill="#ff0000"/>
<rect x="1224" y="192" width="1" height="31" fill="#ff0000"/>
<rect x="1223" y="194" width="3" height="4" fill="#ff0000"/>
<rect x="1228" y="191" width="1" height="7" fill="#00ff00"/>
<rect x="1227" y="193" width="3" height="4" fill="#00ff00"/>
<rect x="1232" y="183" width="1" height="27" fill="#ff0000"/>
<rect x="1231" y="192" width="3" height="4" fill="#ff0000"/>
<rect x="1236" y="171" width="1" height="31" fill="#ff0000"/>
<rect x="1235" y="171" width="3" height="23" fill="#ff0000"/>
<rect x="1240" y="128" width="1" height="45" fill="#ff0000"/>
<rect x="1239" y="133" width="3" height="40" fill="#ff0000"/>
<rect x="1244" y="118" width="1" height="37" fill="#ff0000"/>
<rect x="1243" y="120" width="3" height="16" fill="#ff0000"/>
<rect x="1248" y="113" width="1" height="24" fill="#ff0000"/>
<rect x="1247" y="115" width="3" height="7" fill="#ff0000"/>
<rect x="1252" y="110" width="1" height="13" fill="#ff0000"/>
<rect x="1251" y="114" width="3" height="3" fill="#ff0000"/>
<rect x="1256" y="56" width="1" height="54" fill="#ff0000"/>
<rect x="1255" y="69" width="3" height="41" fill="#ff0000"/>
<rect x="1260" y="59" width="1" height="31" fill="#00ff00"/>
<rect x="1259" y="68" width="3" height="11" fill="#00ff00"/>
<rect x="1264" y="57" width="1" height="27" fill="#ff0000"/>
<rect x="1263" y="60" width="3" height="19" fill="#ff0000"/>
<rect x="1268" y="46" width="1" height="22" fill="#ff0000"/>
<rect x="1267" y="57" width="3" height="5" fill="#ff0000"/>
<path d="M169 340h2v1h-2zM347 340h2v1h-2zM415 340h3v1h-3zM518 340h7v1h-7zM87 308h3v1h-3zM234 369h20v1h-20zM278 369h4v1h-4zM785 369h2v1h-2zM819 369h3v1h-3zM182 346h4v1h-4zM338 346h2v1h-2zM434 346h8v1h-8zM487 346h2v1h-2zM370 335h20v1h-20zM405 335h2v1h-2zM533 335h2v1h-2zM666 335h2v1h-2zM914 412h2v1h-2zM942 412h8v1h-8zM953 412h2v1h-2zM194 349h3v1h-3zM334 349h2v1h-2zM454 349h3v1h-3zM479 349h3v1h-3zM718 382h2v1h-2zM106 314h7v1h-7zM590 314h8v1h-8zM1190 263h16v1h-16zM38 292h3v1h-3zM119 318h2v1h-2zM566 318h12v1h-12zM618 318h4v1h-4zM973 420h2v1h-2zM986 420h12v1h-12zM1047 420h2v1h-2zM231 368h3v1h-3zM282 368h4v1h-4zM787 368h3v1h-3zM817 368h2v1h-2zM834 368h2v1h-2zM223 364h2v1h-2zM295 364h3v1h-3zM809 364h2v1h-2zM202 352h3v1h-3zM330 352h2v1h-2zM462 352h12v1h-12zM317 359h2v1h-2zM847 359h2v1h-2zM862 359h2v1h-2zM736 395h2v1h-2zM751 395h2v1h-2zM225 365h2v1h-2zM293 365h2v1h-2zM795 365h2v1h-2zM811 365h2v1h-2zM838 365h2v1h-2zM933 416h2v1h-2zM965 416h2v1h-2zM229 367h2v1h-2zM286 367h4v1h-4zM790 367h3v1h-3zM815 367h2v1h-2zM125 321h2v1h-2zM555 321h3v1h-3zM633 321h2v1h-2zM1006 424h3v1h-3zM1026 424h12v1h-12zM730 391h2v1h-2zM758 391h3v1h-3zM302 362h4v1h-4zM800 362h6v1h-6zM842 362h2v1h-2zM866 362h2v1h-2zM971 419h2v1h-2zM935 415h2v1h-2zM963 415h2v1h-2zM190 348h4v1h-4zM450 348h4v1h-4zM482 348h3v1h-3zM683 348h2v1h-2zM131 324h2v1h-2zM549 324h2v1h-2zM642 324h4v1h-4zM742 397h7v1h-7zM1011 426h11v1h-11zM165 338h2v1h-2zM351 338h7v1h-7zM411 338h2v1h-2zM527 338h2v1h-2zM670 338h2v1h-2zM207 354h2v1h-2zM690 354h2v1h-2zM151 330h2v1h-2zM659 330h2v1h-2zM93 310h2v1h-2zM1003 423h3v1h-3zM1038 423h4v1h-4zM115 316h2v1h-2zM582 316h4v1h-4zM606 316h8v1h-8zM186 347h4v1h-4zM442 347h8v1h-8zM485 347h2v1h-2zM681 347h2v1h-2zM738 396h4v1h-4zM749 396h2v1h-2zM756 392h2v1h-2zM133 325h2v1h-2zM646 325h4v1h-4zM754 393h2v1h-2zM113 315h2v1h-2zM586 315h4v1h-4zM598 315h8v1h-8zM939 413h3v1h-3zM955 413h6v1h-6zM155 332h2v1h-2zM538 332h2v1h-2zM662 332h2v1h-2zM1206 262h4v1h-4zM121 319h2v1h-2zM562 319h4v1h-4zM622 319h8v1h-8zM421 342h2v1h-2zM497 342h2v1h-2zM149 329h2v1h-2zM542 329h2v1h-2zM657 329h2v1h-2zM763 389h2v1h-2zM163 337h2v1h-2zM358 337h8v1h-8zM409 337h2v1h-2zM529 337h2v1h-2zM158 334h2v1h-2zM390 334h4v1h-4zM398 334h7v1h-7zM535 334h2v1h-2zM199 351h3v1h-3zM459 351h3v1h-3zM474 351h3v1h-3zM135 326h7v1h-7zM546 326h2v1h-2zM650 326h3v1h-3zM102 313h4v1h-4zM31 290h3v1h-3zM95 311h3v1h-3zM178 345h4v1h-4zM430 345h4v1h-4zM489 345h2v1h-2zM117 317h2v1h-2zM578 317h4v1h-4zM614 317h4v1h-4zM950 411h3v1h-3zM221 363h2v1h-2zM298 363h4v1h-4zM798 363h2v1h-2zM806 363h3v1h-3zM826 371h4v1h-4zM1210 261h4v1h-4zM214 358h2v1h-2zM319 358h3v1h-3zM849 358h2v1h-2zM1173 271h2v1h-2zM310 360h7v1h-7zM845 360h2v1h-2zM174 343h2v1h-2zM342 343h2v1h-2zM423 343h3v1h-3zM494 343h3v1h-3zM127 322h2v1h-2zM553 322h2v1h-2zM635 322h3v1h-3zM920 417h2v1h-2zM930 417h3v1h-3zM967 417h2v1h-2zM129 323h2v1h-2zM551 323h2v1h-2zM638 323h4v1h-4zM1009 425h2v1h-2zM1022 425h4v1h-4zM77 303h2v1h-2zM882 377h2v1h-2zM90 309h3v1h-3zM176 344h2v1h-2zM426 344h4v1h-4zM491 344h3v1h-3zM81 305h2v1h-2zM167 339h2v1h-2zM349 339h2v1h-2zM413 339h2v1h-2zM525 339h2v1h-2zM209 355h2v1h-2zM326 355h2v1h-2zM62 296h3v1h-3zM1146 296h2v1h-2zM322 357h3v1h-3zM851 357h3v1h-3zM858 357h3v1h-3zM205 353h2v1h-2zM171 341h2v1h-2zM345 341h2v1h-2zM418 341h3v1h-3zM499 341h19v1h-19zM674 341h2v1h-2zM254 370h24v1h-24zM822 370h4v1h-4zM830 370h3v1h-3zM123 320h2v1h-2zM558 320h4v1h-4zM630 320h3v1h-3zM1185 265h2v1h-2zM1181 267h2v1h-2zM29 289h2v1h-2zM978 422h4v1h-4zM1001 422h2v1h-2zM1042 422h3v1h-3zM227 366h2v1h-2zM290 366h3v1h-3zM793 366h2v1h-2zM813 366h2v1h-2zM975 421h3v1h-3zM982 421h4v1h-4zM998 421h3v1h-3zM1045 421h2v1h-2zM218 361h2v1h-2zM306 361h4v1h-4zM698 361h2v1h-2zM1222 258h2v1h-2zM211 356h2v1h-2zM854 356h4v1h-4zM922 418h8v1h-8zM969 418h2v1h-2zM937 414h2v1h-2zM961 414h2v1h-2zM1175 270h2v1h-2zM79 304h2v1h-2zM761 390h2v1h-2zM43 294h15v1h-15zM394 333h4v1h-4zM26 287h2v1h-2zM98 312h4v1h-4zM726 388h2v1h-2zM153 331h2v1h-2zM146 328h3v1h-3zM655 328h2v1h-2zM161 336h2v1h-2zM366 336h4v1h-4zM407 336h2v1h-2zM531 336h2v1h-2zM766 387h2v1h-2zM1183 266h2v1h-2zM1214 260h7v1h-7zM85 307h2v1h-2zM10 272h2v1h-2zM1171 272h2v1h-2zM1229 253h2v1h-2zM75 302h2v1h-2zM67 298h2v1h-2zM41 293h2v1h-2zM34 291h4v1h-4zM197 350h2v1h-2zM457 350h2v1h-2zM477 350h2v1h-2zM142 327h4v1h-4zM653 327h2v1h-2zM69 299h2v1h-2zM71 300h2v1h-2zM734 394h2v1h-2zM1226 255h2v1h-2zM906 407h2v1h-2zM722 385h2v1h-2zM65 297h2v1h-2zM83 306h2v1h-2zM58 295h4v1h-4zM1162 279h2v1h-2zM911 410h2v1h-2zM1169 273h2v1h-2zM1187 264h3v1h-3zM73 301h2v1h-2zM909 409h2v1h-2zM6 269h2v1h-2zM1177 269h2v1h-2zM1234 250h2v1h-2zM1179 268h2v1h-2zM14 275h2v1h-2zM1231 252h2v1h-2zM1263 209h1v2h-1zM1088 376h1v1h-1zM1135 308h1v1h-1zM1091 371h1v2h-1zM833 369h1v1h-1zM1238 246h1v2h-1zM1060 408h1v1h-1zM1083 382h1v1h-1zM1247 233h1v2h-1zM1130 314h1v2h-1zM1150 292h1v2h-1zM1095 364h1v2h-1zM886 380h1v2h-1zM899 399h1v1h-1zM1103 350h1v2h-1zM711 375h1v1h-1zM900 400h1v1h-1zM1115 334h1v1h-1zM1267 202h1v2h-1zM696 359h1v1h-1zM779 375h1v1h-1zM844 361h1v1h-1zM1138 304h1v2h-1zM544 328h1v1h-1zM1075 391h1v1h-1zM220 362h1v1h-1zM157 333h1v1h-1zM1099 356h1v2h-1zM1123 323h1v2h-1zM1243 239h1v2h-1zM1166 276h1v1h-1zM1067 401h1v1h-1zM1070 397h1v2h-1zM885 379h1v1h-1zM1106 346h1v2h-1zM328 354h1v1h-1zM874 369h1v1h-1zM1118 330h1v2h-1zM710 373h1v2h-1zM1250 229h1v1h-1zM1078 388h1v1h-1zM22 283h1v1h-1zM1134 309h1v2h-1zM1154 288h1v1h-1zM1055 413h1v1h-1zM665 334h1v1h-1zM685 349h1v1h-1zM548 325h1v1h-1zM717 381h1v1h-1zM1266 204h1v2h-1zM1126 319h1v2h-1zM1129 316h1v1h-1zM680 346h1v1h-1zM1086 378h1v2h-1zM1142 300h1v1h-1zM774 380h1v1h-1zM873 368h1v1h-1zM732 392h1v1h-1zM1157 285h1v1h-1zM733 393h1v1h-1zM1137 306h1v1h-1zM21 282h1v1h-1zM216 359h1v1h-1zM903 404h1v1h-1zM1062 406h1v1h-1zM881 376h1v1h-1zM1233 251h1v1h-1zM1257 218h1v2h-1zM797 364h1v1h-1zM1082 383h1v2h-1zM1149 294h1v1h-1zM1114 335h1v2h-1zM1094 366h1v2h-1zM1117 332h1v1h-1zM1246 235h1v1h-1zM1050 418h1v1h-1zM709 372h1v1h-1zM1164 278h1v1h-1zM1109 342h1v2h-1zM888 383h1v1h-1zM1253 224h1v2h-1zM1074 392h1v2h-1zM661 331h1v1h-1zM902 402h1v2h-1zM765 388h1v1h-1zM9 271h1v1h-1zM880 375h1v1h-1zM341 344h1v1h-1zM1225 256h1v1h-1zM916 413h1v1h-1zM1085 380h1v1h-1zM1132 312h1v1h-1zM1152 290h1v1h-1zM1237 248h1v1h-1zM1120 328h1v1h-1zM728 389h1v1h-1zM917 414h1v1h-1zM887 382h1v1h-1zM702 364h1v1h-1zM5 268h1v1h-1zM28 288h1v1h-1zM781 373h1v1h-1zM1140 302h1v1h-1zM778 376h1v1h-1zM1077 389h1v1h-1zM712 376h1v1h-1zM1265 206h1v2h-1zM713 377h1v1h-1zM1168 274h1v1h-1zM1069 399h1v1h-1zM769 385h1v1h-1zM1072 395h1v1h-1zM686 350h1v1h-1zM676 342h1v1h-1zM687 351h1v1h-1zM1105 348h1v1h-1zM4 267h1v1h-1zM1249 230h1v2h-1zM1108 344h1v1h-1zM1156 286h1v1h-1zM1057 411h1v1h-1zM901 401h1v1h-1zM1256 220h1v1h-1zM891 387h1v1h-1zM1259 215h1v2h-1zM697 360h1v1h-1zM1093 368h1v2h-1zM913 411h1v1h-1zM876 371h1v1h-1zM23 284h1v1h-1zM1144 298h1v1h-1zM1240 244h1v1h-1zM868 363h1v1h-1zM776 378h1v1h-1zM908 408h1v1h-1zM837 366h1v1h-1zM753 394h1v1h-1zM841 363h1v1h-1zM1159 282h1v1h-1zM1049 419h1v1h-1zM332 351h1v1h-1zM875 370h1v1h-1zM1252 226h1v1h-1zM1064 404h1v1h-1zM890 385h1v2h-1zM336 348h1v1h-1zM340 345h1v1h-1zM864 360h1v1h-1zM217 360h1v1h-1zM904 405h1v1h-1zM1128 317h1v1h-1zM1151 291h1v1h-1zM1116 333h1v1h-1zM783 371h1v1h-1zM1052 416h1v1h-1zM1111 339h1v2h-1zM537 333h1v1h-1zM1079 387h1v1h-1zM703 365h1v1h-1zM1255 221h1v2h-1zM704 366h1v1h-1zM1139 303h1v1h-1zM894 391h1v2h-1zM1262 211h1v1h-1zM1131 313h1v1h-1zM1087 377h1v1h-1zM344 342h1v1h-1zM1224 257h1v1h-1zM1158 283h1v2h-1zM1059 409h1v1h-1zM541 330h1v1h-1zM918 415h1v1h-1zM729 390h1v1h-1zM780 374h1v1h-1zM678 344h1v1h-1zM771 383h1v1h-1zM919 416h1v1h-1zM545 327h1v1h-1zM889 384h1v1h-1zM692 355h1v1h-1zM213 357h1v1h-1zM18 278h1v2h-1zM893 389h1v2h-1zM768 386h1v1h-1zM1071 396h1v1h-1zM1098 358h1v2h-1zM1119 329h1v1h-1zM1239 245h1v1h-1zM1122 325h1v1h-1zM836 367h1v1h-1zM1251 227h1v2h-1zM1066 402h1v1h-1zM1102 352h1v1h-1zM870 365h1v1h-1zM677 343h1v1h-1zM895 393h1v2h-1zM1258 217h1v1h-1zM1063 405h1v1h-1zM707 370h1v1h-1zM896 395h1v1h-1zM1054 414h1v1h-1zM160 335h1v1h-1zM1090 373h1v1h-1zM724 386h1v1h-1zM892 388h1v1h-1zM775 379h1v1h-1zM1242 241h1v1h-1zM1125 321h1v1h-1zM714 378h1v1h-1zM673 340h1v1h-1zM725 387h1v1h-1zM1161 280h1v1h-1zM1051 417h1v1h-1zM1141 301h1v1h-1zM1165 277h1v1h-1zM1110 341h1v1h-1zM869 364h1v1h-1zM688 352h1v1h-1zM25 286h1v1h-1zM1133 311h1v1h-1zM706 368h1v2h-1zM1153 289h1v1h-1zM877 372h1v1h-1zM672 339h1v1h-1zM782 372h1v1h-1zM24 285h1v1h-1zM1101 353h1v2h-1zM1245 236h1v2h-1zM1148 295h1v1h-1zM1113 337h1v1h-1zM1058 410h1v1h-1zM1254 223h1v1h-1zM540 331h1v1h-1zM770 384h1v1h-1zM1097 360h1v2h-1zM1261 212h1v2h-1zM720 383h1v1h-1zM1089 374h1v2h-1zM16 276h1v1h-1zM1136 307h1v1h-1zM1121 326h1v2h-1zM669 337h1v1h-1zM1241 242h1v2h-1zM721 384h1v1h-1zM705 367h1v1h-1zM17 277h1v1h-1zM694 357h1v1h-1zM1061 407h1v1h-1zM1081 385h1v1h-1zM1084 381h1v1h-1zM865 361h1v1h-1zM905 406h1v1h-1zM695 358h1v1h-1zM773 381h1v1h-1zM1145 297h1v1h-1zM861 358h1v1h-1zM1073 394h1v1h-1zM668 336h1v1h-1zM884 378h1v1h-1zM679 345h1v1h-1zM693 356h1v1h-1zM898 397h1v2h-1zM1264 208h1v1h-1zM1167 275h1v1h-1zM325 356h1v1h-1zM1068 400h1v1h-1zM329 353h1v1h-1zM1160 281h1v1h-1zM715 379h1v1h-1zM1236 249h1v1h-1zM1104 349h1v1h-1zM1268 200h1v2h-1zM1248 232h1v1h-1zM333 350h1v1h-1zM1096 362h1v2h-1zM716 380h1v1h-1zM12 273h1v1h-1zM1065 403h1v1h-1zM1155 287h1v1h-1zM1056 412h1v1h-1zM1076 390h1v1h-1zM13 274h1v1h-1zM871 366h1v1h-1zM777 377h1v1h-1zM872 367h1v1h-1zM1092 370h1v1h-1zM19 280h1v1h-1zM1053 415h1v1h-1zM708 371h1v1h-1zM897 396h1v1h-1zM1143 299h1v1h-1zM20 281h1v1h-1zM1228 254h1v1h-1zM878 373h1v1h-1zM1124 322h1v1h-1zM879 374h1v1h-1zM337 347h1v1h-1zM664 333h1v1h-1zM1221 259h1v1h-1zM173 342h1v1h-1zM689 353h1v1h-1zM1260 214h1v1h-1zM784 370h1v1h-1zM701 363h1v1h-1zM1100 355h1v1h-1zM1080 386h1v1h-1zM1244 238h1v1h-1zM1127 318h1v1h-1zM1112 338h1v1h-1zM8 270h1v1h-1zM1107 345h1v1h-1zM772 382h1v1h-1zM840 364h1v1h-1zM700 362h1v1h-1z" fill="#0000cd"/>
<path d="M353 324h2v1h-2zM529 324h2v1h-2zM1120 257h2v1h-2zM1125 257h2v1h-2zM53 305h2v1h-2zM70 305h4v1h-4zM82 305h3v1h-3zM566 305h8v1h-8zM585 305h2v1h-2zM237 381h2v1h-2zM266 381h2v1h-2zM543 316h2v1h-2zM153 355h2v1h-2zM182 355h2v1h-2zM198 355h4v1h-4zM421 355h2v1h-2zM430 355h8v1h-8zM890 398h2v1h-2zM1203 263h2v1h-2zM682 368h2v1h-2zM251 386h10v1h-10zM1191 265h3v1h-3zM1198 265h3v1h-3zM383 342h2v1h-2zM800 293h2v1h-2zM842 407h4v1h-4zM312 333h2v1h-2zM369 333h2v1h-2zM630 333h2v1h-2zM923 413h6v1h-6zM1156 274h2v1h-2zM1162 274h4v1h-4zM1178 274h3v1h-3zM908 416h2v1h-2zM917 416h2v1h-2zM933 416h2v1h-2zM1186 268h2v1h-2zM194 354h4v1h-4zM410 354h11v1h-11zM438 354h4v1h-4zM458 354h3v1h-3zM725 425h2v1h-2zM975 425h3v1h-3zM982 425h4v1h-4zM1029 425h2v1h-2zM239 382h2v1h-2zM1132 262h13v1h-13zM678 365h2v1h-2zM160 360h17v1h-17zM314 332h3v1h-3zM367 332h2v1h-2zM139 348h3v1h-3zM471 348h2v1h-2zM650 348h4v1h-4zM886 397h2v1h-2zM106 320h2v1h-2zM333 320h2v1h-2zM347 320h2v1h-2zM611 320h2v1h-2zM249 385h2v1h-2zM126 339h2v1h-2zM482 339h2v1h-2zM45 309h2v1h-2zM595 309h2v1h-2zM732 429h2v1h-2zM737 429h2v1h-2zM954 429h3v1h-3zM1014 429h2v1h-2zM1023 429h2v1h-2zM321 329h2v1h-2zM361 329h2v1h-2zM495 329h3v1h-3zM502 329h8v1h-8zM730 428h2v1h-2zM739 428h2v1h-2zM950 428h4v1h-4zM57 303h2v1h-2zM65 303h2v1h-2zM578 303h4v1h-4zM55 304h2v1h-2zM67 304h3v1h-3zM74 304h8v1h-8zM574 304h4v1h-4zM582 304h3v1h-3zM966 422h4v1h-4zM995 422h7v1h-7zM1034 422h2v1h-2zM30 312h8v1h-8zM93 312h2v1h-2zM554 312h3v1h-3zM243 384h6v1h-6zM262 384h2v1h-2zM381 341h2v1h-2zM942 423h2v1h-2zM964 423h2v1h-2zM970 423h3v1h-3zM993 423h2v1h-2zM1002 423h4v1h-4zM1158 275h4v1h-4zM1166 275h12v1h-12zM338 318h7v1h-7zM607 318h2v1h-2zM921 414h2v1h-2zM929 414h2v1h-2zM350 322h2v1h-2zM533 322h2v1h-2zM97 314h2v1h-2zM547 314h3v1h-3zM840 408h2v1h-2zM846 408h3v1h-3zM727 426h2v1h-2zM743 426h2v1h-2zM946 426h2v1h-2zM978 426h4v1h-4zM1010 426h2v1h-2zM358 327h2v1h-2zM518 327h7v1h-7zM670 359h2v1h-2zM231 378h2v1h-2zM271 378h2v1h-2zM878 404h2v1h-2zM910 417h7v1h-7zM935 417h2v1h-2zM226 375h2v1h-2zM851 410h2v1h-2zM902 410h2v1h-2zM862 420h3v1h-3zM1038 420h3v1h-3zM10 295h2v1h-2zM135 346h2v1h-2zM389 346h2v1h-2zM474 346h2v1h-2zM645 346h2v1h-2zM142 349h3v1h-3zM394 349h2v1h-2zM469 349h2v1h-2zM654 349h3v1h-3zM919 415h2v1h-2zM931 415h2v1h-2zM1189 266h2v1h-2zM1194 266h4v1h-4zM147 351h2v1h-2zM397 351h2v1h-2zM465 351h2v1h-2zM659 351h2v1h-2zM59 302h6v1h-6zM150 353h2v1h-2zM185 353h2v1h-2zM190 353h4v1h-4zM406 353h4v1h-4zM442 353h16v1h-16zM461 353h2v1h-2zM663 353h2v1h-2zM734 430h3v1h-3zM1016 430h2v1h-2zM1021 430h2v1h-2zM210 361h2v1h-2zM235 380h2v1h-2zM326 326h2v1h-2zM525 326h2v1h-2zM619 326h2v1h-2zM51 306h2v1h-2zM564 306h2v1h-2zM587 306h3v1h-3zM95 313h2v1h-2zM550 313h4v1h-4zM102 317h2v1h-2zM541 317h2v1h-2zM605 317h2v1h-2zM858 418h2v1h-2zM866 418h2v1h-2zM1042 418h2v1h-2zM741 427h2v1h-2zM948 427h2v1h-2zM958 427h2v1h-2zM1026 427h2v1h-2zM317 331h2v1h-2zM365 331h2v1h-2zM627 331h2v1h-2zM155 356h2v1h-2zM202 356h3v1h-3zM423 356h7v1h-7zM178 358h2v1h-2zM206 358h2v1h-2zM1018 431h3v1h-3zM375 336h2v1h-2zM486 336h2v1h-2zM1118 258h2v1h-2zM1127 258h2v1h-2zM133 345h2v1h-2zM323 328h2v1h-2zM498 328h4v1h-4zM510 328h8v1h-8zM622 328h2v1h-2zM335 319h3v1h-3zM345 319h2v1h-2zM538 319h2v1h-2zM609 319h2v1h-2zM355 325h2v1h-2zM527 325h2v1h-2zM617 325h2v1h-2zM28 311h2v1h-2zM38 311h4v1h-4zM6 292h2v1h-2zM241 383h2v1h-2zM215 364h2v1h-2zM962 424h2v1h-2zM973 424h2v1h-2zM986 424h7v1h-7zM1006 424h3v1h-3zM1031 424h2v1h-2zM386 344h2v1h-2zM642 344h2v1h-2zM849 409h2v1h-2zM860 419h2v1h-2zM47 308h2v1h-2zM593 308h2v1h-2zM187 352h3v1h-3zM399 352h7v1h-7zM463 352h2v1h-2zM661 352h2v1h-2zM49 307h2v1h-2zM86 307h2v1h-2zM562 307h2v1h-2zM590 307h3v1h-3zM99 315h2v1h-2zM545 315h2v1h-2zM602 315h2v1h-2zM802 294h3v1h-3zM531 323h2v1h-2zM1036 421h2v1h-2zM137 347h2v1h-2zM391 347h2v1h-2zM647 347h3v1h-3zM145 350h2v1h-2zM467 350h2v1h-2zM657 350h2v1h-2zM26 310h2v1h-2zM42 310h3v1h-3zM90 310h2v1h-2zM558 310h2v1h-2zM310 334h2v1h-2zM371 334h2v1h-2zM373 335h2v1h-2zM535 321h2v1h-2zM233 379h2v1h-2zM269 379h2v1h-2zM319 330h2v1h-2zM363 330h2v1h-2zM493 330h2v1h-2zM625 330h2v1h-2zM1201 264h2v1h-2zM274 376h2v1h-2zM674 362h2v1h-2zM686 371h2v1h-2zM229 377h2v1h-2zM213 363h2v1h-2zM1122 256h3v1h-3zM14 298h2v1h-2zM794 298h2v1h-2zM681 367h1v1h-1zM755 404h1v2h-1zM484 338h1v1h-1zM836 401h1v2h-1zM821 347h1v4h-1zM329 324h1v1h-1zM1209 257h1v1h-1zM632 334h1v1h-1zM1106 271h1v2h-1zM721 421h1v1h-1zM1212 253h1v1h-1zM613 321h1v1h-1zM829 379h1v4h-1zM1248 192h1v3h-1zM1260 157h1v3h-1zM822 351h1v4h-1zM101 316h1v1h-1zM614 322h1v1h-1zM488 335h1v1h-1zM1060 389h1v3h-1zM885 398h1v1h-1zM633 335h1v1h-1zM904 411h1v1h-1zM1097 290h1v3h-1zM748 420h1v1h-1zM1252 182h1v3h-1zM1264 146h1v3h-1zM104 318h1v1h-1zM760 393h1v3h-1zM278 372h1v2h-1zM281 368h1v2h-1zM832 391h1v4h-1zM776 336h1v4h-1zM773 348h1v4h-1zM764 382h1v3h-1zM105 319h1v1h-1zM896 403h1v1h-1zM1102 278h1v2h-1zM1080 340h1v3h-1zM828 375h1v4h-1zM789 304h1v1h-1zM1244 201h1v3h-1zM752 411h1v3h-1zM149 352h1v1h-1zM294 351h1v2h-1zM640 342h1v1h-1zM1096 293h1v3h-1zM224 373h1v1h-1zM814 322h1v4h-1zM1257 167h1v3h-1zM1051 407h1v2h-1zM1085 327h1v3h-1zM677 364h1v1h-1zM714 412h1v2h-1zM225 374h1v1h-1zM1109 268h1v1h-1zM1261 154h1v3h-1zM772 352h1v3h-1zM945 425h1v1h-1zM1064 380h1v3h-1zM396 350h1v1h-1zM1079 343h1v2h-1zM1265 143h1v3h-1zM305 339h1v1h-1zM710 405h1v2h-1zM1088 319h1v3h-1zM1243 204h1v2h-1zM825 363h1v4h-1zM1068 370h1v3h-1zM808 302h1v3h-1zM777 332h1v4h-1zM302 342h1v1h-1zM1256 170h1v3h-1zM1084 330h1v3h-1zM831 387h1v4h-1zM1236 219h1v1h-1zM673 361h1v1h-1zM792 300h1v1h-1zM811 312h1v4h-1zM1207 259h1v1h-1zM217 365h1v1h-1zM824 359h1v4h-1zM1251 185h1v2h-1zM876 406h1v1h-1zM796 297h1v1h-1zM759 396h1v2h-1zM639 341h1v1h-1zM1076 349h1v3h-1zM1240 210h1v3h-1zM1220 243h1v1h-1zM1255 173h1v3h-1zM601 314h1v1h-1zM1112 264h1v1h-1zM899 407h1v1h-1zM763 385h1v3h-1zM537 320h1v1h-1zM1232 226h1v1h-1zM261 385h1v1h-1zM818 336h1v4h-1zM944 424h1v1h-1zM1259 160h1v3h-1zM89 309h1v1h-1zM767 370h1v4h-1zM560 309h1v1h-1zM273 377h1v1h-1zM713 410h1v2h-1zM1093 303h1v3h-1zM1059 392h1v2h-1zM92 311h1v1h-1zM111 324h1v1h-1zM839 406h1v2h-1zM265 382h1v1h-1zM694 379h1v1h-1zM1215 249h1v1h-1zM872 413h1v1h-1zM277 374h1v1h-1zM1075 352h1v3h-1zM21 305h1v1h-1zM1150 268h1v1h-1zM624 329h1v1h-1zM695 380h1v1h-1zM112 325h1v1h-1zM289 357h1v1h-1zM1184 270h1v1h-1zM771 355h1v4h-1zM762 388h1v2h-1zM807 300h1v2h-1zM817 332h1v4h-1zM865 419h1v1h-1zM388 345h1v1h-1zM785 309h1v2h-1zM1188 267h1v1h-1zM284 364h1v1h-1zM751 414h1v2h-1zM672 360h1v1h-1zM13 297h1v1h-1zM1058 394h1v2h-1zM1092 306h1v3h-1zM1067 373h1v2h-1zM118 331h1v1h-1zM130 342h1v1h-1zM1047 413h1v1h-1zM754 406h1v3h-1zM1223 239h1v1h-1zM297 348h1v1h-1zM941 422h1v1h-1zM300 344h1v1h-1zM119 332h1v1h-1zM880 403h1v1h-1zM331 322h1v1h-1zM1226 235h1v1h-1zM1247 195h1v2h-1zM1063 383h1v2h-1zM490 333h1v1h-1zM1087 322h1v3h-1zM479 342h1v1h-1zM20 304h1v1h-1zM747 421h1v2h-1zM716 416h1v1h-1zM1263 149h1v3h-1zM853 411h1v2h-1zM292 354h1v1h-1zM1054 402h1v2h-1zM1091 309h1v3h-1zM1066 375h1v3h-1zM775 340h1v4h-1zM709 403h1v2h-1zM835 399h1v2h-1zM712 409h1v1h-1zM838 405h1v1h-1zM669 358h1v1h-1zM779 325h1v4h-1zM129 341h1v1h-1zM1116 260h1v1h-1zM9 294h1v1h-1zM766 374h1v4h-1zM615 323h1v1h-1zM1250 187h1v3h-1zM758 398h1v2h-1zM1050 409h1v1h-1zM616 324h1v1h-1zM1239 213h1v2h-1zM208 359h1v1h-1zM158 358h1v1h-1zM898 405h1v2h-1zM940 421h1v1h-1zM827 371h1v4h-1zM209 360h1v1h-1zM810 309h1v3h-1zM307 337h1v1h-1zM1242 206h1v2h-1zM88 308h1v1h-1zM159 359h1v1h-1zM1012 427h1v1h-1zM598 311h1v1h-1zM1214 250h1v2h-1zM5 291h1v1h-1zM667 356h1v1h-1zM1235 220h1v2h-1zM1083 333h1v2h-1zM813 319h1v3h-1zM715 414h1v2h-1zM770 359h1v4h-1zM125 338h1v1h-1zM1103 276h1v2h-1zM668 357h1v1h-1zM1206 260h1v2h-1zM280 370h1v1h-1zM809 305h1v4h-1zM708 401h1v2h-1zM750 416h1v2h-1zM774 344h1v4h-1zM834 397h1v2h-1zM906 413h1v2h-1zM875 407h1v2h-1zM379 339h1v1h-1zM722 422h1v1h-1zM1046 414h1v2h-1zM753 409h1v2h-1zM1222 240h1v2h-1zM634 336h1v1h-1zM380 340h1v1h-1zM723 423h1v1h-1zM791 301h1v1h-1zM1246 197h1v2h-1zM1258 163h1v4h-1zM287 359h1v2h-1zM820 344h1v3h-1zM1053 404h1v2h-1zM783 313h1v3h-1zM1065 378h1v2h-1zM1217 247h1v1h-1zM897 404h1v1h-1zM597 310h1v1h-1zM1078 345h1v2h-1zM1229 230h1v2h-1zM1074 355h1v2h-1zM4 290h1v1h-1zM761 390h1v3h-1zM641 343h1v1h-1zM304 340h1v1h-1zM283 365h1v2h-1zM1145 263h1v1h-1zM690 374h1v2h-1zM765 378h1v4h-1zM711 407h1v2h-1zM1070 365h1v3h-1zM837 403h1v2h-1zM871 414h1v1h-1zM757 400h1v2h-1zM1049 410h1v2h-1zM1225 236h1v2h-1zM1095 296h1v3h-1zM1077 347h1v2h-1zM882 401h1v1h-1zM1086 325h1v2h-1zM833 395h1v2h-1zM905 412h1v1h-1zM697 382h1v2h-1zM806 298h1v2h-1zM798 295h1v1h-1zM1099 284h1v3h-1zM1062 385h1v2h-1zM1090 312h1v4h-1zM1241 208h1v2h-1zM23 307h1v1h-1zM218 366h1v1h-1zM481 340h1v1h-1zM1114 262h1v1h-1zM816 329h1v3h-1zM701 388h1v2h-1zM1082 335h1v3h-1zM1094 299h1v4h-1zM219 367h1v1h-1zM1129 259h1v1h-1zM778 329h1v3h-1zM132 344h1v1h-1zM1249 190h1v2h-1zM830 383h1v4h-1zM1130 260h1v1h-1zM264 383h1v1h-1zM1111 265h1v1h-1zM782 316h1v3h-1zM1089 316h1v3h-1zM823 355h1v4h-1zM291 355h1v1h-1zM629 332h1v1h-1zM874 409h1v2h-1zM826 367h1v4h-1zM855 414h1v2h-1zM1183 271h1v1h-1zM819 340h1v4h-1zM707 399h1v2h-1zM22 306h1v1h-1zM1057 396h1v2h-1zM856 416h1v1h-1zM769 363h1v4h-1zM286 361h1v1h-1zM1254 176h1v3h-1zM703 392h1v2h-1zM812 316h1v3h-1zM360 328h1v1h-1zM1073 357h1v3h-1zM113 326h1v1h-1zM1151 269h1v1h-1zM696 381h1v1h-1zM805 296h1v2h-1zM704 394h1v1h-1zM131 343h1v1h-1zM299 345h1v1h-1zM492 331h1v1h-1zM1152 270h1v1h-1zM1044 417h1v1h-1zM815 326h1v3h-1zM749 418h1v2h-1zM485 337h1v1h-1zM180 357h1v1h-1zM900 408h1v1h-1zM1072 360h1v3h-1zM120 333h1v1h-1zM393 348h1v1h-1zM184 354h1v1h-1zM1098 287h1v3h-1zM901 409h1v1h-1zM790 302h1v2h-1zM717 417h1v1h-1zM1205 262h1v1h-1zM385 343h1v1h-1zM854 413h1v1h-1zM1101 280h1v2h-1zM689 373h1v1h-1zM718 418h1v1h-1zM729 427h1v1h-1zM907 415h1v1h-1zM699 385h1v2h-1zM869 416h1v1h-1zM557 311h1v1h-1zM892 399h1v1h-1zM700 387h1v1h-1zM1181 273h1v1h-1zM781 319h1v3h-1zM1266 141h1v2h-1zM306 338h1v1h-1zM724 424h1v1h-1zM561 308h1v1h-1zM768 367h1v3h-1zM893 400h1v1h-1zM1213 252h1v1h-1zM1028 426h1v1h-1zM489 334h1v1h-1zM1253 179h1v3h-1zM688 372h1v1h-1zM1056 398h1v2h-1zM1013 428h1v1h-1zM1208 258h1v1h-1zM1041 419h1v1h-1zM282 367h1v1h-1zM599 312h1v1h-1zM621 327h1v1h-1zM1081 338h1v2h-1zM476 345h1v1h-1zM793 299h1v1h-1zM1221 242h1v1h-1zM309 335h1v1h-1zM706 397h1v2h-1zM804 295h1v1h-1zM1052 406h1v1h-1zM1228 232h1v1h-1zM1231 227h1v2h-1zM788 305h1v1h-1zM85 306h1v1h-1zM1113 263h1v1h-1zM1216 248h1v1h-1zM636 338h1v1h-1zM293 353h1v1h-1zM960 426h1v1h-1zM684 369h1v1h-1zM328 325h1v1h-1zM1105 273h1v1h-1zM780 322h1v3h-1zM873 411h1v2h-1zM1108 269h1v1h-1zM756 402h1v2h-1zM285 362h1v2h-1zM784 311h1v2h-1zM884 399h1v1h-1zM888 396h1v1h-1zM108 321h1v1h-1zM877 405h1v1h-1zM1146 264h1v1h-1zM797 296h1v1h-1zM691 376h1v1h-1zM857 417h1v1h-1zM702 390h1v2h-1zM889 397h1v1h-1zM1147 265h1v1h-1zM1268 136h1v2h-1zM705 395h1v2h-1zM205 357h1v1h-1zM881 402h1v1h-1zM692 377h1v1h-1zM1071 363h1v2h-1zM635 337h1v1h-1zM698 384h1v1h-1zM1009 425h1v1h-1zM937 418h1v1h-1zM115 328h1v1h-1zM1219 244h1v1h-1zM1185 269h1v1h-1zM1100 282h1v2h-1zM220 368h1v1h-1zM1154 272h1v1h-1zM1267 138h1v3h-1zM1211 254h1v1h-1zM1048 412h1v1h-1zM1238 215h1v2h-1zM665 354h1v1h-1zM1227 233h1v2h-1zM152 354h1v1h-1zM301 343h1v1h-1zM332 321h1v1h-1zM114 327h1v1h-1zM719 419h1v1h-1zM491 332h1v1h-1zM680 366h1v1h-1zM228 376h1v1h-1zM24 308h1v1h-1zM377 337h1v1h-1zM1055 400h1v2h-1zM720 420h1v1h-1zM296 349h1v1h-1zM1104 274h1v2h-1zM1234 222h1v2h-1zM540 318h1v1h-1zM746 423h1v1h-1zM478 343h1v1h-1zM1153 271h1v1h-1zM1131 261h1v1h-1zM895 402h1v1h-1zM268 380h1v1h-1zM122 335h1v1h-1zM787 306h1v2h-1zM16 299h1v1h-1zM868 417h1v1h-1zM288 358h1v1h-1zM308 336h1v1h-1zM17 300h1v1h-1zM604 316h1v1h-1zM1210 255h1v2h-1zM799 294h1v1h-1zM222 370h1v2h-1zM121 334h1v1h-1zM276 375h1v1h-1zM223 372h1v1h-1zM883 400h1v1h-1zM279 371h1v1h-1zM676 363h1v1h-1zM177 359h1v1h-1zM1115 261h1v1h-1zM1245 199h1v2h-1zM357 326h1v1h-1zM1218 245h1v2h-1zM1230 229h1v1h-1zM1233 224h1v2h-1zM330 323h1v1h-1zM352 323h1v1h-1zM1110 266h1v2h-1zM894 401h1v1h-1zM1262 152h1v2h-1zM1237 217h1v2h-1zM637 339h1v1h-1zM12 296h1v1h-1zM303 341h1v1h-1zM638 340h1v1h-1zM600 313h1v1h-1zM1045 416h1v1h-1zM1061 387h1v2h-1zM18 301h1v2h-1zM298 346h1v2h-1zM212 362h1v1h-1zM181 356h1v1h-1zM19 303h1v1h-1zM110 323h1v1h-1zM745 424h1v2h-1zM295 350h1v1h-1zM1148 266h1v1h-1zM693 378h1v1h-1zM473 347h1v1h-1zM1069 368h1v2h-1zM128 340h1v1h-1zM1149 267h1v1h-1zM1107 270h1v1h-1zM685 370h1v1h-1zM870 415h1v1h-1zM1155 273h1v1h-1zM957 428h1v1h-1zM786 308h1v1h-1zM1033 423h1v1h-1zM1224 238h1v1h-1zM109 322h1v1h-1zM1025 428h1v1h-1zM349 321h1v1h-1zM480 341h1v1h-1zM644 345h1v1h-1zM8 293h1v1h-1zM477 344h1v1h-1zM290 356h1v1h-1zM938 419h1v1h-1zM25 309h1v1h-1zM116 329h1v1h-1zM378 338h1v1h-1zM157 357h1v1h-1zM1117 259h1v1h-1zM939 420h1v1h-1zM117 330h1v1h-1zM221 369h1v1h-1zM1182 272h1v1h-1zM123 336h1v1h-1zM666 355h1v1h-1zM124 337h1v1h-1zM961 425h1v1h-1zM325 327h1v1h-1z" fill="#ff0000"/>
<path d="M499 318h2v1h-2zM514 334h2v1h-2zM1163 278h2v1h-2zM231 396h2v1h-2zM900 396h3v1h-3zM968 396h2v1h-2zM1174 272h4v1h-4zM168 350h2v1h-2zM1151 266h2v1h-2zM999 432h2v1h-2zM852 352h2v1h-2zM427 366h10v1h-10zM318 331h2v1h-2zM325 331h2v1h-2zM376 363h2v1h-2zM991 439h2v1h-2zM1005 439h2v1h-2zM227 398h2v1h-2zM895 403h2v1h-2zM4 313h2v1h-2zM10 313h3v1h-3zM924 424h2v1h-2zM239 390h2v1h-2zM1047 400h2v1h-2zM153 354h2v1h-2zM163 354h2v1h-2zM497 317h2v1h-2zM599 317h2v1h-2zM503 320h2v1h-2zM170 349h3v1h-3zM183 349h2v1h-2zM194 356h3v1h-3zM48 285h5v1h-5zM1132 285h2v1h-2zM1200 245h2v1h-2zM237 391h2v1h-2zM914 411h2v1h-2zM26 324h2v1h-2zM100 324h2v1h-2zM110 324h3v1h-3zM1040 401h2v1h-2zM1045 401h2v1h-2zM926 425h3v1h-3zM174 351h2v1h-2zM186 351h2v1h-2zM384 361h2v1h-2zM15 315h2v1h-2zM595 315h2v1h-2zM551 289h2v1h-2zM225 397h2v1h-2zM229 397h2v1h-2zM903 397h2v1h-2zM970 397h3v1h-3zM1032 397h5v1h-5zM327 330h2v1h-2zM517 336h2v1h-2zM522 336h3v1h-3zM878 437h3v1h-3zM102 323h8v1h-8zM1154 268h2v1h-2zM135 376h2v1h-2zM501 319h2v1h-2zM22 322h3v1h-3zM582 322h4v1h-4zM155 353h2v1h-2zM158 355h2v1h-2zM161 355h2v1h-2zM425 365h2v1h-2zM640 365h2v1h-2zM378 364h3v1h-3zM642 364h3v1h-3zM1166 276h2v1h-2zM943 445h3v1h-3zM401 342h2v1h-2zM405 342h2v1h-2zM471 342h2v1h-2zM783 237h2v1h-2zM55 283h2v1h-2zM723 440h2v1h-2zM1007 440h6v1h-6zM254 380h3v1h-3zM386 360h3v1h-3zM133 375h2v1h-2zM1186 265h2v1h-2zM403 341h2v1h-2zM469 341h2v1h-2zM1202 246h3v1h-3zM181 348h2v1h-2zM662 348h2v1h-2zM555 291h2v1h-2zM719 442h2v1h-2zM258 378h2v1h-2zM553 290h2v1h-2zM374 362h2v1h-2zM382 362h2v1h-2zM874 435h2v1h-2zM20 321h2v1h-2zM580 321h2v1h-2zM586 321h3v1h-3zM726 438h2v1h-2zM989 438h2v1h-2zM1014 438h2v1h-2zM192 357h2v1h-2zM6 314h4v1h-4zM13 314h2v1h-2zM454 339h2v1h-2zM458 339h4v1h-4zM462 340h7v1h-7zM492 316h5v1h-5zM593 316h2v1h-2zM597 316h2v1h-2zM658 347h2v1h-2zM721 441h2v1h-2zM1149 267h2v1h-2zM941 444h2v1h-2zM946 444h3v1h-3zM893 404h2v1h-2zM84 332h9v1h-9zM320 332h5v1h-5zM876 436h2v1h-2zM342 309h2v1h-2zM407 343h2v1h-2zM300 311h2v1h-2zM456 338h2v1h-2zM558 293h2v1h-2zM1093 244h2v1h-2zM997 433h2v1h-2zM1161 277h2v1h-2zM53 284h2v1h-2zM1134 284h3v1h-3zM519 337h3v1h-3zM1122 273h2v1h-2zM1171 273h3v1h-3zM1178 273h3v1h-3zM1042 402h3v1h-3zM248 379h6v1h-6zM302 312h3v1h-3zM1146 269h2v1h-2zM549 288h2v1h-2zM826 482h3v1h-3zM717 443h2v1h-2zM783 238h2v1h-2zM1102 238h2v1h-2zM1230 198h2v1h-2zM1169 274h2v1h-2zM1095 243h2v1h-2zM834 456h1v6h-1zM800 317h1v6h-1zM740 414h1v3h-1zM793 279h1v7h-1zM838 425h1v8h-1zM1139 278h1v2h-1zM702 426h1v1h-1zM150 358h1v2h-1zM705 430h1v2h-1zM819 449h1v10h-1zM655 350h1v1h-1zM775 262h1v5h-1zM706 432h1v2h-1zM847 368h1v4h-1zM344 308h1v1h-1zM176 352h1v1h-1zM1254 118h1v6h-1zM1057 364h1v4h-1zM753 361h1v6h-1zM1013 439h1v1h-1zM964 402h1v2h-1zM70 306h1v2h-1zM298 313h1v1h-1zM810 375h1v8h-1zM816 421h1v9h-1zM1237 186h1v3h-1zM812 390h1v7h-1zM745 400h1v4h-1zM141 371h1v1h-1zM829 479h1v3h-1zM863 390h1v6h-1zM796 300h1v5h-1zM336 316h1v2h-1zM779 246h1v4h-1zM537 307h1v3h-1zM806 352h1v5h-1zM74 315h1v3h-1zM294 319h1v2h-1zM900 395h1v1h-1zM1061 349h1v3h-1zM160 356h1v1h-1zM770 285h1v4h-1zM983 428h1v2h-1zM790 263h1v5h-1zM839 417h1v8h-1zM1109 245h1v2h-1zM1052 384h1v4h-1zM843 387h1v7h-1zM694 411h1v2h-1zM332 324h1v1h-1zM1029 401h1v2h-1zM739 417h1v3h-1zM1216 225h1v3h-1zM1113 251h1v2h-1zM373 361h1v1h-1zM534 315h1v2h-1zM833 462h1v7h-1zM1197 250h1v2h-1zM546 289h1v1h-1zM59 287h1v1h-1zM809 368h1v7h-1zM869 419h1v4h-1zM118 336h1v4h-1zM802 329h1v6h-1zM669 359h1v2h-1zM815 413h1v8h-1zM871 427h1v4h-1zM309 318h1v2h-1zM891 407h1v2h-1zM837 433h1v8h-1zM312 323h1v1h-1zM654 351h1v2h-1zM774 267h1v5h-1zM223 393h1v2h-1zM872 431h1v3h-1zM1074 300h1v4h-1zM676 375h1v3h-1zM313 324h1v2h-1zM354 323h1v3h-1zM1056 368h1v4h-1zM752 367h1v6h-1zM649 358h1v2h-1zM963 404h1v3h-1zM601 318h1v1h-1zM1039 400h1v1h-1zM602 319h1v1h-1zM854 354h1v2h-1zM764 314h1v5h-1zM266 369h1v2h-1zM1257 106h1v3h-1zM865 402h1v4h-1zM293 321h1v2h-1zM31 322h1v1h-1zM755 349h1v6h-1zM43 295h1v2h-1zM1069 320h1v4h-1zM899 397h1v2h-1zM960 412h1v4h-1zM858 365h1v3h-1zM808 362h1v6h-1zM868 414h1v5h-1zM799 313h1v4h-1zM234 394h1v1h-1zM1249 141h1v4h-1zM792 273h1v6h-1zM331 325h1v2h-1zM1028 403h1v2h-1zM738 420h1v2h-1zM490 319h1v1h-1zM883 428h1v3h-1zM39 303h1v4h-1zM533 317h1v2h-1zM842 394h1v8h-1zM1196 252h1v1h-1zM890 409h1v3h-1zM1211 236h1v2h-1zM832 469h1v5h-1zM1168 275h1v1h-1zM734 428h1v2h-1zM782 239h1v2h-1zM1191 258h1v2h-1zM773 272h1v5h-1zM246 381h1v1h-1zM795 293h1v7h-1zM541 297h1v2h-1zM955 431h1v3h-1zM788 253h1v5h-1zM845 377h1v4h-1zM409 344h1v1h-1zM978 413h1v4h-1zM751 373h1v5h-1zM811 383h1v7h-1zM125 356h1v2h-1zM648 360h1v1h-1zM357 331h1v3h-1zM1244 161h1v3h-1zM1055 372h1v4h-1zM756 344h1v5h-1zM742 409h1v3h-1zM452 341h1v1h-1zM887 417h1v3h-1zM824 478h1v3h-1zM985 432h1v2h-1zM817 430h1v10h-1zM447 348h1v2h-1zM776 258h1v4h-1zM1111 248h1v2h-1zM424 364h1v1h-1zM818 440h1v9h-1zM1019 430h1v2h-1zM361 342h1v3h-1zM814 405h1v8h-1zM566 303h1v2h-1zM260 377h1v1h-1zM207 371h1v2h-1zM210 375h1v2h-1zM567 305h1v2h-1zM768 293h1v4h-1zM117 333h1v3h-1zM189 353h1v1h-1zM1027 405h1v3h-1zM443 354h1v2h-1zM939 441h1v2h-1zM1059 356h1v4h-1zM211 377h1v1h-1zM1097 241h1v2h-1zM1118 263h1v4h-1zM1247 149h1v4h-1zM801 323h1v6h-1zM61 289h1v1h-1zM173 350h1v1h-1zM785 239h1v5h-1zM1239 179h1v3h-1zM1050 392h1v3h-1zM977 409h1v4h-1zM861 377h1v6h-1zM62 290h1v1h-1zM781 241h1v2h-1zM820 459h1v7h-1zM439 361h1v2h-1zM840 409h1v8h-1zM772 277h1v4h-1zM603 320h1v1h-1zM836 441h1v8h-1zM540 299h1v3h-1zM527 330h1v2h-1zM995 435h1v1h-1zM604 321h1v1h-1zM953 436h1v3h-1zM1088 253h1v2h-1zM905 398h1v2h-1zM1144 271h1v1h-1zM866 406h1v4h-1zM1054 376h1v4h-1zM919 417h1v2h-1zM629 349h1v2h-1zM1242 168h1v4h-1zM1268 76h1v2h-1zM791 268h1v5h-1zM664 349h1v1h-1zM1018 432h1v2h-1zM113 325h1v2h-1zM762 323h1v4h-1zM667 354h1v2h-1zM1255 113h1v5h-1zM767 297h1v6h-1zM442 356h1v2h-1zM1067 328h1v4h-1zM1058 360h1v4h-1zM1025 410h1v3h-1zM958 420h1v4h-1zM349 313h1v2h-1zM341 310h1v1h-1zM287 338h1v2h-1zM352 319h1v2h-1zM1049 395h1v4h-1zM794 286h1v7h-1zM759 334h1v3h-1zM803 335h1v6h-1zM123 351h1v2h-1zM787 248h1v5h-1zM610 327h1v2h-1zM804 341h1v6h-1zM359 336h1v3h-1zM526 332h1v2h-1zM1022 420h1v3h-1zM356 328h1v3h-1zM283 346h1v2h-1zM823 474h1v4h-1zM130 368h1v3h-1zM835 449h1v7h-1zM1053 380h1v4h-1zM362 345h1v2h-1zM1087 255h1v3h-1zM591 318h1v1h-1zM1062 346h1v3h-1zM363 347h1v3h-1zM884 425h1v3h-1zM198 359h1v1h-1zM568 307h1v1h-1zM1267 78h1v3h-1zM813 397h1v8h-1zM859 368h1v4h-1zM209 374h1v1h-1zM180 347h1v1h-1zM636 361h1v1h-1zM199 360h1v2h-1zM191 356h1v1h-1zM213 379h1v2h-1zM489 320h1v2h-1zM145 366h1v1h-1zM271 362h1v2h-1zM766 303h1v5h-1zM484 326h1v1h-1zM1236 189h1v2h-1zM286 340h1v2h-1zM36 314h1v2h-1zM140 372h1v1h-1zM683 390h1v2h-1zM71 308h1v2h-1zM627 347h1v1h-1zM686 395h1v2h-1zM844 381h1v6h-1zM647 361h1v1h-1zM687 397h1v2h-1zM1232 197h1v1h-1zM525 334h1v2h-1zM282 348h1v2h-1zM797 305h1v4h-1zM137 375h1v1h-1zM921 420h1v1h-1zM1258 104h1v2h-1zM922 421h1v2h-1zM665 350h1v2h-1zM1240 176h1v3h-1zM278 354h1v2h-1zM545 290h1v1h-1zM235 393h1v1h-1zM290 329h1v3h-1zM347 311h1v1h-1zM1224 206h1v2h-1zM672 366h1v3h-1zM350 315h1v2h-1zM99 325h1v1h-1zM975 404h1v2h-1zM653 353h1v1h-1zM351 317h1v2h-1zM488 322h1v1h-1zM1153 267h1v1h-1zM862 383h1v7h-1zM1253 124h1v5h-1zM392 354h1v1h-1zM786 244h1v4h-1zM821 466h1v4h-1zM1165 277h1v1h-1zM1001 433h1v2h-1zM1131 283h1v2h-1zM270 364h1v1h-1zM679 382h1v2h-1zM122 348h1v3h-1zM35 316h1v2h-1zM128 363h1v3h-1zM242 386h1v2h-1zM414 350h1v2h-1zM129 366h1v2h-1zM623 342h1v2h-1zM828 483h1v1h-1zM30 323h1v1h-1zM855 356h1v2h-1zM1184 267h1v1h-1zM281 350h1v2h-1zM448 347h1v1h-1zM769 289h1v4h-1zM398 345h1v2h-1zM201 363h1v1h-1zM570 309h1v1h-1zM475 337h1v2h-1zM661 347h1v1h-1zM929 426h1v2h-1zM1264 86h1v3h-1zM571 310h1v1h-1zM1051 388h1v4h-1zM215 382h1v2h-1zM544 291h1v2h-1zM395 349h1v2h-1zM1081 273h1v3h-1zM1261 95h1v3h-1zM391 355h1v2h-1zM69 304h1v2h-1zM864 396h1v6h-1zM1064 340h1v3h-1zM729 435h1v2h-1zM789 258h1v5h-1zM241 388h1v2h-1zM1145 270h1v1h-1zM76 320h1v2h-1zM410 345h1v2h-1zM951 441h1v1h-1zM1076 292h1v4h-1zM696 415h1v2h-1zM1115 255h1v2h-1zM1112 250h1v1h-1zM671 364h1v2h-1zM38 307h1v3h-1zM58 285h1v2h-1zM1238 182h1v4h-1zM974 401h1v3h-1zM1119 267h1v3h-1zM1091 247h1v2h-1zM841 402h1v7h-1zM311 321h1v2h-1zM831 474h1v3h-1zM539 302h1v3h-1zM296 315h1v2h-1zM678 380h1v2h-1zM315 327h1v2h-1zM46 289h1v2h-1zM1260 98h1v3h-1zM1038 399h1v1h-1zM1251 133h1v4h-1zM853 353h1v1h-1zM885 422h1v3h-1zM1218 221h1v2h-1zM25 323h1v1h-1zM741 412h1v2h-1zM807 357h1v5h-1zM505 321h1v2h-1zM931 429h1v2h-1zM849 360h1v4h-1zM203 365h1v1h-1zM217 385h1v1h-1zM573 312h1v1h-1zM340 311h1v1h-1zM37 310h1v4h-1zM1246 153h1v4h-1zM652 354h1v1h-1zM606 323h1v1h-1zM295 317h1v2h-1zM93 331h1v1h-1zM45 291h1v2h-1zM78 324h1v2h-1zM1217 223h1v2h-1zM29 324h1v1h-1zM698 419h1v2h-1zM477 334h1v2h-1zM1241 172h1v4h-1zM179 348h1v1h-1zM749 384h1v5h-1zM695 413h1v2h-1zM1114 253h1v2h-1zM972 398h1v1h-1zM754 355h1v6h-1zM149 360h1v2h-1zM892 405h1v2h-1zM1225 204h1v2h-1zM880 436h1v1h-1zM60 288h1v1h-1zM247 380h1v1h-1zM144 367h1v1h-1zM1158 272h1v2h-1zM453 340h1v1h-1zM480 330h1v1h-1zM1078 284h1v4h-1zM646 362h1v1h-1zM44 293h1v2h-1zM1021 423h1v4h-1zM907 402h1v2h-1zM638 363h1v1h-1zM506 323h1v1h-1zM205 367h1v2h-1zM507 324h1v2h-1zM17 316h1v2h-1zM277 356h1v1h-1zM933 432h1v2h-1zM575 315h1v1h-1zM115 329h1v2h-1zM1073 304h1v4h-1zM487 323h1v1h-1zM1090 249h1v2h-1zM269 365h1v2h-1zM608 325h1v1h-1zM731 432h1v2h-1zM765 308h1v6h-1zM979 417h1v4h-1zM609 326h1v1h-1zM358 334h1v2h-1zM851 353h1v4h-1zM986 434h1v1h-1zM132 373h1v2h-1zM364 350h1v2h-1zM959 416h1v4h-1zM197 357h1v2h-1zM1248 145h1v4h-1zM190 354h1v2h-1zM532 319h1v3h-1zM747 393h1v4h-1zM289 332h1v3h-1zM967 397h1v2h-1zM1156 269h1v1h-1zM846 372h1v5h-1zM390 357h1v1h-1zM1157 270h1v2h-1zM1252 129h1v4h-1zM954 434h1v2h-1zM1089 251h1v2h-1zM626 346h1v1h-1zM1243 164h1v4h-1zM805 347h1v5h-1zM906 400h1v2h-1zM798 309h1v4h-1zM689 401h1v2h-1zM886 420h1v2h-1zM630 351h1v2h-1zM335 318h1v2h-1zM950 442h1v1h-1zM920 419h1v1h-1zM563 298h1v2h-1zM509 327h1v2h-1zM18 318h1v1h-1zM935 435h1v2h-1zM19 319h1v2h-1zM577 317h1v1h-1zM710 438h1v1h-1zM288 335h1v3h-1zM120 343h1v3h-1zM674 371h1v2h-1zM966 399h1v1h-1zM353 321h1v2h-1zM1080 276h1v4h-1zM338 313h1v2h-1zM124 353h1v3h-1zM1148 268h1v1h-1zM1071 312h1v4h-1zM138 374h1v1h-1zM412 348h1v1h-1zM984 430h1v2h-1zM413 349h1v1h-1zM987 435h1v2h-1zM334 320h1v2h-1zM1031 398h1v2h-1zM292 323h1v3h-1zM188 352h1v1h-1zM367 354h1v1h-1zM860 372h1v5h-1zM569 308h1v1h-1zM1075 296h1v4h-1zM276 357h1v1h-1zM233 395h1v1h-1zM1124 274h1v1h-1zM214 381h1v1h-1zM737 422h1v3h-1zM1066 332h1v4h-1zM957 424h1v4h-1zM64 292h1v2h-1zM317 330h1v1h-1zM651 355h1v2h-1zM889 412h1v2h-1zM1190 260h1v2h-1zM758 337h1v4h-1zM142 369h1v2h-1zM1185 266h1v1h-1zM961 409h1v3h-1zM33 319h1v2h-1zM911 408h1v1h-1zM481 329h1v1h-1zM628 348h1v1h-1zM688 399h1v2h-1zM157 354h1v1h-1zM476 336h1v1h-1zM1250 137h1v4h-1zM28 325h1v1h-1zM381 363h1v1h-1zM291 326h1v3h-1zM666 352h1v2h-1zM41 299h1v2h-1zM396 348h1v1h-1zM848 364h1v4h-1zM1117 260h1v3h-1zM1083 266h1v3h-1zM712 440h1v1h-1zM119 340h1v3h-1zM956 428h1v3h-1zM1213 232h1v2h-1zM976 406h1v3h-1zM713 441h1v1h-1zM1120 270h1v2h-1zM1245 157h1v4h-1zM888 414h1v3h-1zM680 384h1v2h-1zM1189 262h1v2h-1zM1209 239h1v2h-1zM1221 213h1v3h-1zM265 371h1v1h-1zM613 331h1v1h-1zM732 431h1v1h-1zM744 404h1v3h-1zM262 374h1v2h-1zM369 356h1v1h-1zM748 389h1v4h-1zM212 378h1v1h-1zM445 351h1v2h-1zM40 301h1v2h-1zM305 313h1v1h-1zM761 327h1v4h-1zM1082 269h1v4h-1zM216 384h1v1h-1zM66 296h1v3h-1zM297 314h1v1h-1zM1127 277h1v1h-1zM441 358h1v2h-1zM1024 413h1v3h-1zM1207 242h1v1h-1zM529 326h1v2h-1zM605 322h1v1h-1zM1220 216h1v3h-1zM437 364h1v2h-1zM743 407h1v2h-1zM1086 258h1v2h-1zM1077 288h1v4h-1zM77 322h1v2h-1zM1101 237h1v1h-1zM80 328h1v1h-1zM185 350h1v1h-1zM1068 324h1v4h-1zM1142 273h1v2h-1zM697 417h1v2h-1zM1138 280h1v2h-1zM715 443h1v1h-1zM1023 416h1v4h-1zM1072 308h1v4h-1zM167 351h1v1h-1zM1235 191h1v2h-1zM528 328h1v2h-1zM1063 343h1v3h-1zM416 353h1v1h-1zM750 378h1v6h-1zM615 333h1v1h-1zM417 354h1v1h-1zM949 443h1v1h-1zM1199 246h1v2h-1zM867 410h1v4h-1zM850 357h1v3h-1zM536 310h1v3h-1zM371 359h1v1h-1zM330 327h1v1h-1zM574 313h1v2h-1zM218 386h1v1h-1zM707 434h1v2h-1zM98 326h1v1h-1zM1129 279h1v2h-1zM746 397h1v3h-1zM980 421h1v3h-1zM1259 101h1v3h-1zM607 324h1v1h-1zM127 361h1v2h-1zM451 342h1v2h-1zM1234 193h1v2h-1zM962 407h1v2h-1zM592 317h1v1h-1zM333 322h1v2h-1zM79 326h1v2h-1zM1229 199h1v1h-1zM535 313h1v2h-1zM763 319h1v4h-1zM131 371h1v2h-1zM1198 248h1v2h-1zM329 328h1v2h-1zM275 358h1v1h-1zM881 433h1v3h-1zM1263 89h1v3h-1zM1194 254h1v2h-1zM543 293h1v2h-1zM870 423h1v4h-1zM1002 435h1v1h-1zM485 325h1v1h-1zM1159 274h1v2h-1zM244 383h1v1h-1zM624 344h1v1h-1zM856 358h1v3h-1zM450 344h1v1h-1zM1233 195h1v2h-1zM1070 316h1v4h-1zM400 343h1v1h-1zM728 437h1v1h-1zM908 404h1v2h-1zM691 405h1v2h-1zM561 295h1v2h-1zM572 311h1v1h-1zM708 436h1v1h-1zM709 437h1v1h-1zM1212 234h1v2h-1zM542 295h1v2h-1zM1065 336h1v4h-1zM673 369h1v2h-1zM355 326h1v2h-1zM1208 241h1v1h-1zM822 470h1v4h-1zM757 341h1v3h-1zM993 438h1v1h-1zM126 358h1v3h-1zM411 347h1v1h-1zM825 481h1v1h-1zM1020 427h1v3h-1zM918 415h1v2h-1zM365 352h1v1h-1zM316 329h1v1h-1zM1160 276h1v1h-1zM339 312h1v1h-1zM73 313h1v2h-1zM909 406h1v1h-1zM421 359h1v2h-1zM778 250h1v4h-1zM910 407h1v1h-1zM693 409h1v2h-1zM560 294h1v1h-1zM631 353h1v2h-1zM690 403h1v2h-1zM204 366h1v1h-1zM1141 275h1v1h-1zM510 329h1v1h-1zM1228 200h1v1h-1zM936 437h1v1h-1zM668 356h1v3h-1zM114 327h1v2h-1zM178 349h1v2h-1zM578 318h1v2h-1zM1137 282h1v2h-1zM760 331h1v3h-1zM222 391h1v2h-1zM711 439h1v1h-1zM675 373h1v2h-1zM166 352h1v1h-1zM284 344h1v2h-1zM143 368h1v1h-1zM34 318h1v1h-1zM482 328h1v1h-1zM611 329h1v1h-1zM682 388h1v2h-1zM82 330h1v1h-1zM777 254h1v4h-1zM916 412h1v1h-1zM83 331h1v1h-1zM988 437h1v1h-1zM645 363h1v1h-1zM898 399h1v2h-1zM857 361h1v4h-1zM917 413h1v2h-1zM1104 239h1v1h-1zM146 364h1v2h-1zM882 431h1v2h-1zM177 351h1v1h-1zM1125 275h1v1h-1zM65 294h1v2h-1zM97 327h1v1h-1zM733 430h1v1h-1zM1079 280h1v4h-1zM94 330h1v1h-1zM618 336h1v1h-1zM72 310h1v3h-1zM263 373h1v1h-1zM632 355h1v1h-1zM1182 270h1v1h-1zM912 409h1v1h-1zM279 353h1v1h-1zM446 350h1v1h-1zM565 301h1v2h-1zM511 330h1v2h-1zM725 439h1v1h-1zM937 438h1v2h-1zM897 401h1v2h-1zM1100 236h1v1h-1zM576 316h1v1h-1zM116 331h1v2h-1zM274 359h1v1h-1zM220 388h1v1h-1zM699 421h1v2h-1zM1026 408h1v2h-1zM221 389h1v2h-1zM1193 256h1v1h-1zM393 352h1v2h-1zM531 322h1v2h-1zM736 425h1v2h-1zM1121 272h1v1h-1zM780 243h1v3h-1zM389 358h1v2h-1zM681 386h1v2h-1zM243 384h1v2h-1zM684 392h1v1h-1zM449 345h1v2h-1zM415 352h1v1h-1zM557 292h1v1h-1zM1106 241h1v2h-1zM1181 271h1v2h-1zM1017 434h1v2h-1zM306 314h1v2h-1zM1048 399h1v1h-1zM1262 92h1v3h-1zM965 400h1v2h-1zM982 426h1v2h-1zM620 338h1v1h-1zM538 305h1v2h-1zM634 358h1v1h-1zM635 359h1v2h-1zM513 333h1v1h-1zM1266 81h1v2h-1zM701 424h1v2h-1zM1116 257h1v3h-1zM1016 436h1v2h-1zM96 328h1v1h-1zM285 342h1v2h-1zM1219 219h1v2h-1zM418 355h1v2h-1zM368 355h1v1h-1zM200 362h1v1h-1zM1085 260h1v3h-1zM1108 244h1v1h-1zM1060 352h1v4h-1zM656 349h1v1h-1zM151 356h1v2h-1zM1227 201h1v2h-1zM1265 83h1v3h-1zM257 379h1v1h-1zM491 317h1v2h-1zM1195 253h1v1h-1zM307 316h1v1h-1zM1223 208h1v3h-1zM147 363h1v1h-1zM308 317h1v1h-1zM121 346h1v2h-1zM165 353h1v1h-1zM245 382h1v1h-1zM1130 281h1v2h-1zM622 341h1v1h-1zM360 339h1v3h-1zM1030 400h1v1h-1zM264 372h1v1h-1zM547 288h1v1h-1zM1183 268h1v2h-1zM1256 109h1v4h-1zM1084 263h1v3h-1zM784 236h1v1h-1zM474 339h1v1h-1zM1226 203h1v1h-1zM703 427h1v2h-1zM714 442h1v1h-1zM394 351h1v1h-1zM68 301h1v3h-1zM267 368h1v1h-1zM1003 436h1v2h-1zM614 332h1v1h-1zM1206 243h1v2h-1zM75 318h1v2h-1zM419 357h1v1h-1zM420 358h1v1h-1zM1110 247h1v1h-1zM423 362h1v2h-1zM692 407h1v2h-1zM370 357h1v2h-1zM202 364h1v1h-1zM1099 237h1v2h-1zM397 347h1v1h-1zM206 369h1v2h-1zM973 399h1v2h-1zM670 361h1v3h-1zM473 340h1v2h-1zM1128 278h1v1h-1zM224 395h1v2h-1zM677 378h1v2h-1zM1188 264h1v1h-1zM852 351h1v1h-1zM771 281h1v4h-1zM1205 245h1v1h-1zM81 329h1v1h-1zM639 364h1v1h-1zM1098 239h1v2h-1zM716 444h1v1h-1zM440 360h1v1h-1zM67 299h1v2h-1zM1004 438h1v1h-1zM48 286h1v1h-1zM616 334h1v1h-1zM617 335h1v1h-1zM422 361h1v1h-1zM372 360h1v1h-1zM932 431h1v1h-1zM208 373h1v1h-1zM657 348h1v1h-1zM219 387h1v1h-1zM95 329h1v1h-1zM47 287h1v2h-1zM280 352h1v1h-1zM479 331h1v2h-1zM589 320h1v1h-1zM516 335h1v1h-1zM548 287h1v1h-1zM399 344h1v1h-1zM1215 228h1v2h-1zM345 309h1v1h-1zM272 361h1v1h-1zM346 310h1v1h-1zM268 367h1v1h-1zM981 424h1v2h-1zM730 434h1v1h-1zM619 337h1v1h-1zM562 297h1v1h-1zM508 326h1v1h-1zM236 392h1v1h-1zM42 297h1v2h-1zM633 356h1v2h-1zM934 434h1v1h-1zM512 332h1v1h-1zM938 440h1v1h-1zM1214 230h1v2h-1zM1092 245h1v2h-1zM1210 238h1v1h-1zM1222 211h1v2h-1zM685 393h1v2h-1zM366 353h1v1h-1zM923 423h1v1h-1zM1140 276h1v2h-1zM348 312h1v1h-1zM530 324h1v2h-1zM299 312h1v1h-1zM438 363h1v1h-1zM830 477h1v2h-1zM994 436h1v2h-1zM952 439h1v2h-1zM1037 398h1v1h-1zM621 339h1v2h-1zM564 300h1v1h-1zM152 355h1v1h-1zM1143 272h1v1h-1zM940 443h1v1h-1zM579 320h1v1h-1zM148 362h1v1h-1zM63 291h1v1h-1zM650 357h1v1h-1zM612 330h1v1h-1zM32 321h1v1h-1zM1105 240h1v1h-1zM590 319h1v1h-1zM273 360h1v1h-1zM1126 276h1v1h-1zM486 324h1v1h-1zM735 427h1v1h-1zM1192 257h1v1h-1zM483 327h1v1h-1zM139 373h1v1h-1zM478 333h1v1h-1zM913 410h1v1h-1zM660 346h1v1h-1zM637 362h1v1h-1zM261 376h1v1h-1zM700 423h1v1h-1zM444 353h1v1h-1zM704 429h1v1h-1zM996 434h1v1h-1zM1107 243h1v1h-1zM57 284h1v1h-1zM873 434h1v1h-1zM310 320h1v1h-1zM314 326h1v1h-1zM337 315h1v1h-1zM625 345h1v1h-1zM930 428h1v1h-1z" fill="#ffa500"/>
<rect x="3" y="21" width="1594" height="1" fill="#000"/>
<rect x="3" y="527" width="1594" height="1" fill="#000"/>
<rect x="3" y="21" width="1" height="507" fill="#000"/>
<rect x="1596" y="21" width="1" height="507" fill="#000"/>
<rect x="3" y="529" width="1594" height="1" fill="#000"/>
<rect x="3" y="621" width="1594" height="1" fill="#000"/>
<rect x="3" y="529" width="1" height="93" fill="#000"/>
<rect x="1596" y="529" width="1" height="93" fill="#000"/>
<rect x="3" y="623" width="1594" height="1" fill="#000"/>
<rect x="3" y="715" width="1594" height="1" fill="#000"/>
<rect x="3" y="623" width="1" height="93" fill="#000"/>
<rect x="1596" y="623" width="1" height="93" fill="#000"/>
<rect x="1597" y="527" width="1" height="1" fill="#000"/>
<rect x="1597" y="529" width="1" height="1" fill="#000"/>
<rect x="1597" y="621" width="1" height="1" fill="#000"/>
<rect x="1597" y="623" width="1" height="1" fill="#000"/>
<rect x="1597" y="715" width="1" height="1" fill="#000"/>
<rect x="3" y="47" width="1593" height="2" fill="#ff0000"/>
<rect x="3" y="45" width="6" height="6" fill="#ff0000"/>
<rect x="5" y="47" width="2" height="2" fill="#fff"/>
<rect x="1590" y="45" width="6" height="6" fill="#ff0000"/>
<rect x="1592" y="47" width="2" height="2" fill="#fff"/>
<rect x="3" y="87" width="1593" height="2" fill="#ff0000"/>
<rect x="3" y="85" width="6" height="6" fill="#ff0000"/>
<rect x="5" y="87" width="2" height="2" fill="#fff"/>
<rect x="1590" y="85" width="6" height="6" fill="#ff0000"/>
<rect x="1592" y="87" width="2" height="2" fill="#fff"/>
<rect x="3" y="127" width="1593" height="2" fill="#00ff00"/>
<rect x="3" y="125" width="6" height="6" fill="#00ff00"/>
<rect x="5" y="127" width="2" height="2" fill="#fff"/>
<rect x="1590" y="125" width="6" height="6" fill="#00ff00"/>
<rect x="1592" y="127" width="2" height="2" fill="#fff"/>
<rect x="3" y="167" width="1593" height="2" fill="#0000ff"/>
<rect x="3" y="165" width="6" height="6" fill="#0000ff"/>
<rect x="5" y="167" width="2" height="2" fill="#fff"/>
<rect x="1590" y="165" width="6" height="6" fill="#0000ff"/>
<rect x="1592" y="167" width="2" height="2" fill="#fff"/>
<rect x="3" y="206" width="1593" height="2" fill="#0000ff"/>
<rect x="3" y="204" width="6" height="6" fill="#0000ff"/>
<rect x="5" y="206" width="2" height="2" fill="#fff"/>
<rect x="1590" y="204" width="6" height="6" fill="#0000ff"/>
<rect x="1592" y="206" width="2" height="2" fill="#fff"/>
<rect x="3" y="246" width="1593" height="2" fill="#0000ff"/>
<rect x="3" y="244" width="6" height="6" fill="#0000ff"/>
<rect x="5" y="246" width="2" height="2" fill="#fff"/>
<rect x="1590" y="244" width="6" height="6" fill="#0000ff"/>
<rect x="1592" y="246" width="2" height="2" fill="#fff"/>
<rect x="3" y="288" width="1593" height="2" fill="#0000ff"/>
<rect x="3" y="286" width="6" height="6" fill="#0000ff"/>
<rect x="5" y="288" width="2" height="2" fill="#fff"/>
<rect x="1590" y="286" width="6" height="6" fill="#0000ff"/>
<rect x="1592" y="288" width="2" height="2" fill="#fff"/>
<rect x="1597" y="29" width="3" height="1" fill="#000"/>
<text x="1602" y="32.2" font-size="9.8" letter-spacing="-0.33" fill="#000" text-anchor="start" >1.18480</text>
<rect x="1597" y="62" width="3" height="1" fill="#000"/>
<text x="1602" y="65.2" font-size="9.8" letter-spacing="-0.33" fill="#000" text-anchor="start" >1.17660</text>
<rect x="1597" y="95" width="3" height="1" fill="#000"/>
<text x="1602" y="98.2" font-size="9.8" letter-spacing="-0.33" fill="#000" text-anchor="start" >1.16840</text>
<rect x="1597" y="128" width="3" height="1" fill="#000"/>
<text x="1602" y="131.2" font-size="9.8" letter-spacing="-0.33" fill="#000" text-anchor="start" >1.16020</text>
<rect x="1597" y="161" width="3" height="1" fill="#000"/>
<text x="1602" y="164.2" font-size="9.8" letter-spacing="-0.33" fill="#000" text-anchor="start" >1.15180</text>
<rect x="1597" y="194" width="3" height="1" fill="#000"/>
<text x="1602" y="197.2" font-size="9.8" letter-spacing="-0.33" fill="#000" text-anchor="start" >1.14360</text>
<rect x="1597" y="227" width="3" height="1" fill="#000"/>
<text x="1602" y="230.2" font-size="9.8" letter-spacing="-0.33" fill="#000" text-anchor="start" >1.13540</text>
<rect x="1597" y="260" width="3" height="1" fill="#000"/>
<text x="1602" y="263.2" font-size="9.8" letter-spacing="-0.33" fill="#000" text-anchor="start" >1.12720</text>
<rect x="1597" y="293" width="3" height="1" fill="#000"/>
<text x="1602" y="296.2" font-size="9.8" letter-spacing="-0.33" fill="#000" text-anchor="start" >1.11900</text>
<rect x="1597" y="326" width="3" height="1" fill="#000"/>
<text x="1602" y="329.2" font-size="9.8" letter-spacing="-0.33" fill="#000" text-anchor="start" >1.11080</text>
<rect x="1597" y="359" width="3" height="1" fill="#000"/>
<text x="1602" y="362.2" font-size="9.8" letter-spacing="-0.33" fill="#000" text-anchor="start" >1.10260</text>
<rect x="1597" y="392" width="3" height="1" fill="#000"/>
<text x="1602" y="395.2" font-size="9.8" letter-spacing="-0.33" fill="#000" text-anchor="start" >1.09420</text>
<rect x="1597" y="425" width="3" height="1" fill="#000"/>
<text x="1602" y="428.2" font-size="9.8" letter-spacing="-0.33" fill="#000" text-anchor="start" >1.08600</text>
<rect x="1597" y="458" width="3" height="1" fill="#000"/>
<text x="1602" y="461.2" font-size="9.8" letter-spacing="-0.33" fill="#000" text-anchor="start" >1.07780</text>
<rect x="1597" y="491" width="3" height="1" fill="#000"/>
<text x="1602" y="494.2" font-size="9.8" letter-spacing="-0.33" fill="#000" text-anchor="start" >1.06960</text>
<rect x="1597" y="524" width="3" height="1" fill="#000"/>
<text x="1602" y="527.2" font-size="9.8" letter-spacing="-0.33" fill="#000" text-anchor="start" >1.06140</text>
<rect x="1598" y="42" width="40" height="11" fill="#ff0000"/>
<text x="1602" y="51" font-size="9.8" letter-spacing="-0.33" fill="#fff" text-anchor="start" >1.18015</text>
<rect x="1598" y="82" width="40" height="11" fill="#ff0000"/>
<text x="1602" y="91" font-size="9.8" letter-spacing="-0.33" fill="#fff" text-anchor="start" >1.17016</text>
<rect x="1598" y="122" width="40" height="11" fill="#00ff00"/>
<text x="1602" y="131" font-size="9.8" letter-spacing="-0.33" fill="#fff" text-anchor="start" >1.16018</text>
<rect x="1598" y="162" width="40" height="11" fill="#0000ff"/>
<text x="1602" y="171" font-size="9.8" letter-spacing="-0.33" fill="#fff" text-anchor="start" >1.15019</text>
<rect x="1598" y="201" width="40" height="11" fill="#0000ff"/>
<text x="1602" y="210" font-size="9.8" letter-spacing="-0.33" fill="#fff" text-anchor="start" >1.14047</text>
<rect x="1598" y="241" width="40" height="11" fill="#0000ff"/>
<text x="1602" y="250" font-size="9.8" letter-spacing="-0.33" fill="#fff" text-anchor="start" >1.13034</text>
<rect x="1598" y="283" width="40" height="11" fill="#0000ff"/>
<text x="1602" y="292" font-size="9.8" letter-spacing="-0.33" fill="#fff" text-anchor="start" >1.12004</text>
<rect x="1598" y="53" width="40" height="10" fill="#000"/>
<text x="1602" y="60.7" font-size="9.8" letter-spacing="-0.33" fill="#fff" text-anchor="start" >1.17775</text>
<path d="M1271 22 L1281 22 L1276 27 Z" fill="#c0c0c0" shape-rendering="auto"/>
<path d="M6.8 28 L14.2 28 L10.5 32 Z" fill="#000" shape-rendering="auto"/>
<text y="33" font-size="9.8" fill="#000"><tspan x="19.3" letter-spacing="-0.18">EURUSD,Daily  </tspan><tspan x="89.6" letter-spacing="-0.33">1.17686 </tspan><tspan x="125.6" letter-spacing="-0.33">1.18050 </tspan><tspan x="161.5" letter-spacing="-0.33">1.17544 </tspan><tspan x="197.5" letter-spacing="-0.33">1.17775</tspan></text>
<rect x="4" y="557" width="3" height="1" fill="#c0c0c0"/>
<rect x="10" y="557" width="3" height="1" fill="#c0c0c0"/>
<rect x="16" y="557" width="3" height="1" fill="#c0c0c0"/>
<rect x="22" y="557" width="3" height="1" fill="#c0c0c0"/>
<rect x="28" y="557" width="3" height="1" fill="#c0c0c0"/>
<rect x="34" y="557" width="3" height="1" fill="#c0c0c0"/>
<rect x="40" y="557" width="3" height="1" fill="#c0c0c0"/>
<rect x="46" y="557" width="3" height="1" fill="#c0c0c0"/>
<rect x="52" y="557" width="3" height="1" fill="#c0c0c0"/>
<rect x="58" y="557" width="3" height="1" fill="#c0c0c0"/>
<rect x="64" y="557" width="3" height="1" fill="#c0c0c0"/>
<rect x="70" y="557" width="3" height="1" fill="#c0c0c0"/>
<rect x="76" y="557" width="3" height="1" fill="#c0c0c0"/>
<rect x="82" y="557" width="3" height="1" fill="#c0c0c0"/>
<rect x="88" y="557" width="3" height="1" fill="#c0c0c0"/>
<rect x="94" y="557" width="3" height="1" fill="#c0c0c0"/>
<rect x="100" y="557" width="3" height="1" fill="#c0c0c0"/>
<rect x="106" y="557" width="3" height="1" fill="#c0c0c0"/>
<rect x="112" y="557" width="3" height="1" fill="#c0c0c0"/>
<rect x="118" y="557" width="3" height="1" fill="#c0c0c0"/>
<rect x="124" y="557" width="3" height="1" fill="#c0c0c0"/>
<rect x="130" y="557" width="3" height="1" fill="#c0c0c0"/>
<rect x="136" y="557" width="3" height="1" fill="#c0c0c0"/>
<rect x="142" y="557" width="3" height="1" fill="#c0c0c0"/>
<rect x="148" y="557" width="3" height="1" fill="#c0c0c0"/>
<rect x="154" y="557" width="3" height="1" fill="#c0c0c0"/>
<rect x="160" y="557" width="3" height="1" fill="#c0c0c0"/>
<rect x="166" y="557" width="3" height="1" fill="#c0c0c0"/>
<rect x="172" y="557" width="3" height="1" fill="#c0c0c0"/>
<rect x="178" y="557" width="3" height="1" fill="#c0c0c0"/>
<rect x="184" y="557" width="3" height="1" fill="#c0c0c0"/>
<rect x="190" y="557" width="3" height="1" fill="#c0c0c0"/>
<rect x="196" y="557" width="3" height="1" fill="#c0c0c0"/>
<rect x="202" y="557" width="3" height="1" fill="#c0c0c0"/>
<rect x="208" y="557" width="3" height="1" fill="#c0c0c0"/>
<rect x="214" y="557" width="3" height="1" fill="#c0c0c0"/>
<rect x="220" y="557" width="3" height="1" fill="#c0c0c0"/>
<rect x="226" y="557" width="3" height="1" fill="#c0c0c0"/>
<rect x="232" y="557" width="3" height="1" fill="#c0c0c0"/>
<rect x="238" y="557" width="3" height="1" fill="#c0c0c0"/>
<rect x="244" y="557" width="3" height="1" fill="#c0c0c0"/>
<rect x="250" y="557" width="3" height="1" fill="#c0c0c0"/>
<rect x="256" y="557" width="3" height="1" fill="#c0c0c0"/>
<rect x="262" y="557" width="3" height="1" fill="#c0c0c0"/>
<rect x="268" y="557" width="3" height="1" fill="#c0c0c0"/>
<rect x="274" y="557" width="3" height="1" fill="#c0c0c0"/>
<rect x="280" y="557" width="3" height="1" fill="#c0c0c0"/>
<rect x="286" y="557" width="3" height="1" fill="#c0c0c0"/>
<rect x="292" y="557" width="3" height="1" fill="#c0c0c0"/>
<rect x="298" y="557" width="3" height="1" fill="#c0c0c0"/>
<rect x="304" y="557" width="3" height="1" fill="#c0c0c0"/>
<rect x="310" y="557" width="3" height="1" fill="#c0c0c0"/>
<rect x="316" y="557" width="3" height="1" fill="#c0c0c0"/>
<rect x="322" y="557" width="3" height="1" fill="#c0c0c0"/>
<rect x="328" y="557" width="3" height="1" fill="#c0c0c0"/>
<rect x="334" y="557" width="3" height="1" fill="#c0c0c0"/>
<rect x="340" y="557" width="3" height="1" fill="#c0c0c0"/>
<rect x="346" y="557" width="3" height="1" fill="#c0c0c0"/>
<rect x="352" y="557" width="3" height="1" fill="#c0c0c0"/>
<rect x="358" y="557" width="3" height="1" fill="#c0c0c0"/>
<rect x="364" y="557" width="3" height="1" fill="#c0c0c0"/>
<rect x="370" y="557" width="3" height="1" fill="#c0c0c0"/>
<rect x="376" y="557" width="3" height="1" fill="#c0c0c0"/>
<rect x="382" y="557" width="3" height="1" fill="#c0c0c0"/>
<rect x="388" y="557" width="3" height="1" fill="#c0c0c0"/>
<rect x="394" y="557" width="3" height="1" fill="#c0c0c0"/>
<rect x="400" y="557" width="3" height="1" fill="#c0c0c0"/>
<rect x="406" y="557" width="3" height="1" fill="#c0c0c0"/>
<rect x="412" y="557" width="3" height="1" fill="#c0c0c0"/>
<rect x="418" y="557" width="3" height="1" fill="#c0c0c0"/>
<rect x="424" y="557" width="3" height="1" fill="#c0c0c0"/>
<rect x="430" y="557" width="3" height="1" fill="#c0c0c0"/>
<rect x="436" y="557" width="3" height="1" fill="#c0c0c0"/>
<rect x="442" y="557" width="3" height="1" fill="#c0c0c0"/>
<rect x="448" y="557" width="3" height="1" fill="#c0c0c0"/>
<rect x="454" y="557" width="3" height="1" fill="#c0c0c0"/>
<rect x="460" y="557" width="3" height="1" fill="#c0c0c0"/>
<rect x="466" y="557" width="3" height="1" fill="#c0c0c0"/>
<rect x="472" y="557" width="3" height="1" fill="#c0c0c0"/>
<rect x="478" y="557" width="3" height="1" fill="#c0c0c0"/>
<rect x="484" y="557" width="3" height="1" fill="#c0c0c0"/>
<rect x="490" y="557" width="3" height="1" fill="#c0c0c0"/>
<rect x="496" y="557" width="3" height="1" fill="#c0c0c0"/>
<rect x="502" y="557" width="3" height="1" fill="#c0c0c0"/>
<rect x="508" y="557" width="3" height="1" fill="#c0c0c0"/>
<rect x="514" y="557" width="3" height="1" fill="#c0c0c0"/>
<rect x="520" y="557" width="3" height="1" fill="#c0c0c0"/>
<rect x="526" y="557" width="3" height="1" fill="#c0c0c0"/>
<rect x="532" y="557" width="3" height="1" fill="#c0c0c0"/>
<rect x="538" y="557" width="3" height="1" fill="#c0c0c0"/>
<rect x="544" y="557" width="3" height="1" fill="#c0c0c0"/>
<rect x="550" y="557" width="3" height="1" fill="#c0c0c0"/>
<rect x="556" y="557" width="3" height="1" fill="#c0c0c0"/>
<rect x="562" y="557" width="3" height="1" fill="#c0c0c0"/>
<rect x="568" y="557" width="3" height="1" fill="#c0c0c0"/>
<rect x="574" y="557" width="3" height="1" fill="#c0c0c0"/>
<rect x="580" y="557" width="3" height="1" fill="#c0c0c0"/>
<rect x="586" y="557" width="3" height="1" fill="#c0c0c0"/>
<rect x="592" y="557" width="3" height="1" fill="#c0c0c0"/>
<rect x="598" y="557" width="3" height="1" fill="#c0c0c0"/>
<rect x="604" y="557" width="3" height="1" fill="#c0c0c0"/>
<rect x="610" y="557" width="3" height="1" fill="#c0c0c0"/>
<rect x="616" y="557" width="3" height="1" fill="#c0c0c0"/>
<rect x="622" y="557" width="3" height="1" fill="#c0c0c0"/>
<rect x="628" y="557" width="3" height="1" fill="#c0c0c0"/>
<rect x="634" y="557" width="3" height="1" fill="#c0c0c0"/>
<rect x="640" y="557" width="3" height="1" fill="#c0c0c0"/>
<rect x="646" y="557" width="3" height="1" fill="#c0c0c0"/>
<rect x="652" y="557" width="3" height="1" fill="#c0c0c0"/>
<rect x="658" y="557" width="3" height="1" fill="#c0c0c0"/>
<rect x="664" y="557" width="3" height="1" fill="#c0c0c0"/>
<rect x="670" y="557" width="3" height="1" fill="#c0c0c0"/>
<rect x="676" y="557" width="3" height="1" fill="#c0c0c0"/>
<rect x="682" y="557" width="3" height="1" fill="#c0c0c0"/>
<rect x="688" y="557" width="3" height="1" fill="#c0c0c0"/>
<rect x="694" y="557" width="3" height="1" fill="#c0c0c0"/>
<rect x="700" y="557" width="3" height="1" fill="#c0c0c0"/>
<rect x="706" y="557" width="3" height="1" fill="#c0c0c0"/>
<rect x="712" y="557" width="3" height="1" fill="#c0c0c0"/>
<rect x="718" y="557" width="3" height="1" fill="#c0c0c0"/>
<rect x="724" y="557" width="3" height="1" fill="#c0c0c0"/>
<rect x="730" y="557" width="3" height="1" fill="#c0c0c0"/>
<rect x="736" y="557" width="3" height="1" fill="#c0c0c0"/>
<rect x="742" y="557" width="3" height="1" fill="#c0c0c0"/>
<rect x="748" y="557" width="3" height="1" fill="#c0c0c0"/>
<rect x="754" y="557" width="3" height="1" fill="#c0c0c0"/>
<rect x="760" y="557" width="3" height="1" fill="#c0c0c0"/>
<rect x="766" y="557" width="3" height="1" fill="#c0c0c0"/>
<rect x="772" y="557" width="3" height="1" fill="#c0c0c0"/>
<rect x="778" y="557" width="3" height="1" fill="#c0c0c0"/>
<rect x="784" y="557" width="3" height="1" fill="#c0c0c0"/>
<rect x="790" y="557" width="3" height="1" fill="#c0c0c0"/>
<rect x="796" y="557" width="3" height="1" fill="#c0c0c0"/>
<rect x="802" y="557" width="3" height="1" fill="#c0c0c0"/>
<rect x="808" y="557" width="3" height="1" fill="#c0c0c0"/>
<rect x="814" y="557" width="3" height="1" fill="#c0c0c0"/>
<rect x="820" y="557" width="3" height="1" fill="#c0c0c0"/>
<rect x="826" y="557" width="3" height="1" fill="#c0c0c0"/>
<rect x="832" y="557" width="3" height="1" fill="#c0c0c0"/>
<rect x="838" y="557" width="3" height="1" fill="#c0c0c0"/>
<rect x="844" y="557" width="3" height="1" fill="#c0c0c0"/>
<rect x="850" y="557" width="3" height="1" fill="#c0c0c0"/>
<rect x="856" y="557" width="3" height="1" fill="#c0c0c0"/>
<rect x="862" y="557" width="3" height="1" fill="#c0c0c0"/>
<rect x="868" y="557" width="3" height="1" fill="#c0c0c0"/>
<rect x="874" y="557" width="3" height="1" fill="#c0c0c0"/>
<rect x="880" y="557" width="3" height="1" fill="#c0c0c0"/>
<rect x="886" y="557" width="3" height="1" fill="#c0c0c0"/>
<rect x="892" y="557" width="3" height="1" fill="#c0c0c0"/>
<rect x="898" y="557" width="3" height="1" fill="#c0c0c0"/>
<rect x="904" y="557" width="3" height="1" fill="#c0c0c0"/>
<rect x="910" y="557" width="3" height="1" fill="#c0c0c0"/>
<rect x="916" y="557" width="3" height="1" fill="#c0c0c0"/>
<rect x="922" y="557" width="3" height="1" fill="#c0c0c0"/>
<rect x="928" y="557" width="3" height="1" fill="#c0c0c0"/>
<rect x="934" y="557" width="3" height="1" fill="#c0c0c0"/>
<rect x="940" y="557" width="3" height="1" fill="#c0c0c0"/>
<rect x="946" y="557" width="3" height="1" fill="#c0c0c0"/>
<rect x="952" y="557" width="3" height="1" fill="#c0c0c0"/>
<rect x="958" y="557" width="3" height="1" fill="#c0c0c0"/>
<rect x="964" y="557" width="3" height="1" fill="#c0c0c0"/>
<rect x="970" y="557" width="3" height="1" fill="#c0c0c0"/>
<rect x="976" y="557" width="3" height="1" fill="#c0c0c0"/>
<rect x="982" y="557" width="3" height="1" fill="#c0c0c0"/>
<rect x="988" y="557" width="3" height="1" fill="#c0c0c0"/>
<rect x="994" y="557" width="3" height="1" fill="#c0c0c0"/>
<rect x="1000" y="557" width="3" height="1" fill="#c0c0c0"/>
<rect x="1006" y="557" width="3" height="1" fill="#c0c0c0"/>
<rect x="1012" y="557" width="3" height="1" fill="#c0c0c0"/>
<rect x="1018" y="557" width="3" height="1" fill="#c0c0c0"/>
<rect x="1024" y="557" width="3" height="1" fill="#c0c0c0"/>
<rect x="1030" y="557" width="3" height="1" fill="#c0c0c0"/>
<rect x="1036" y="557" width="3" height="1" fill="#c0c0c0"/>
<rect x="1042" y="557" width="3" height="1" fill="#c0c0c0"/>
<rect x="1048" y="557" width="3" height="1" fill="#c0c0c0"/>
<rect x="1054" y="557" width="3" height="1" fill="#c0c0c0"/>
<rect x="1060" y="557" width="3" height="1" fill="#c0c0c0"/>
<rect x="1066" y="557" width="3" height="1" fill="#c0c0c0"/>
<rect x="1072" y="557" width="3" height="1" fill="#c0c0c0"/>
<rect x="1078" y="557" width="3" height="1" fill="#c0c0c0"/>
<rect x="1084" y="557" width="3" height="1" fill="#c0c0c0"/>
<rect x="1090" y="557" width="3" height="1" fill="#c0c0c0"/>
<rect x="1096" y="557" width="3" height="1" fill="#c0c0c0"/>
<rect x="1102" y="557" width="3" height="1" fill="#c0c0c0"/>
<rect x="1108" y="557" width="3" height="1" fill="#c0c0c0"/>
<rect x="1114" y="557" width="3" height="1" fill="#c0c0c0"/>
<rect x="1120" y="557" width="3" height="1" fill="#c0c0c0"/>
<rect x="1126" y="557" width="3" height="1" fill="#c0c0c0"/>
<rect x="1132" y="557" width="3" height="1" fill="#c0c0c0"/>
<rect x="1138" y="557" width="3" height="1" fill="#c0c0c0"/>
<rect x="1144" y="557" width="3" height="1" fill="#c0c0c0"/>
<rect x="1150" y="557" width="3" height="1" fill="#c0c0c0"/>
<rect x="1156" y="557" width="3" height="1" fill="#c0c0c0"/>
<rect x="1162" y="557" width="3" height="1" fill="#c0c0c0"/>
<rect x="1168" y="557" width="3" height="1" fill="#c0c0c0"/>
<rect x="1174" y="557" width="3" height="1" fill="#c0c0c0"/>
<rect x="1180" y="557" width="3" height="1" fill="#c0c0c0"/>
<rect x="1186" y="557" width="3" height="1" fill="#c0c0c0"/>
<rect x="1192" y="557" width="3" height="1" fill="#c0c0c0"/>
<rect x="1198" y="557" width="3" height="1" fill="#c0c0c0"/>
<rect x="1204" y="557" width="3" height="1" fill="#c0c0c0"/>
<rect x="1210" y="557" width="3" height="1" fill="#c0c0c0"/>
<rect x="1216" y="557" width="3" height="1" fill="#c0c0c0"/>
<rect x="1222" y="557" width="3" height="1" fill="#c0c0c0"/>
<rect x="1228" y="557" width="3" height="1" fill="#c0c0c0"/>
<rect x="1234" y="557" width="3" height="1" fill="#c0c0c0"/>
<rect x="1240" y="557" width="3" height="1" fill="#c0c0c0"/>
<rect x="1246" y="557" width="3" height="1" fill="#c0c0c0"/>
<rect x="1252" y="557" width="3" height="1" fill="#c0c0c0"/>
<rect x="1258" y="557" width="3" height="1" fill="#c0c0c0"/>
<rect x="1264" y="557" width="3" height="1" fill="#c0c0c0"/>
<rect x="1270" y="557" width="3" height="1" fill="#c0c0c0"/>
<rect x="1276" y="557" width="3" height="1" fill="#c0c0c0"/>
<rect x="1282" y="557" width="3" height="1" fill="#c0c0c0"/>
<rect x="1288" y="557" width="3" height="1" fill="#c0c0c0"/>
<rect x="1294" y="557" width="3" height="1" fill="#c0c0c0"/>
<rect x="1300" y="557" width="3" height="1" fill="#c0c0c0"/>
<rect x="1306" y="557" width="3" height="1" fill="#c0c0c0"/>
<rect x="1312" y="557" width="3" height="1" fill="#c0c0c0"/>
<rect x="1318" y="557" width="3" height="1" fill="#c0c0c0"/>
<rect x="1324" y="557" width="3" height="1" fill="#c0c0c0"/>
<rect x="1330" y="557" width="3" height="1" fill="#c0c0c0"/>
<rect x="1336" y="557" width="3" height="1" fill="#c0c0c0"/>
<rect x="1342" y="557" width="3" height="1" fill="#c0c0c0"/>
<rect x="1348" y="557" width="3" height="1" fill="#c0c0c0"/>
<rect x="1354" y="557" width="3" height="1" fill="#c0c0c0"/>
<rect x="1360" y="557" width="3" height="1" fill="#c0c0c0"/>
<rect x="1366" y="557" width="3" height="1" fill="#c0c0c0"/>
<rect x="1372" y="557" width="3" height="1" fill="#c0c0c0"/>
<rect x="1378" y="557" width="3" height="1" fill="#c0c0c0"/>
<rect x="1384" y="557" width="3" height="1" fill="#c0c0c0"/>
<rect x="1390" y="557" width="3" height="1" fill="#c0c0c0"/>
<rect x="1396" y="557" width="3" height="1" fill="#c0c0c0"/>
<rect x="1402" y="557" width="3" height="1" fill="#c0c0c0"/>
<rect x="1408" y="557" width="3" height="1" fill="#c0c0c0"/>
<rect x="1414" y="557" width="3" height="1" fill="#c0c0c0"/>
<rect x="1420" y="557" width="3" height="1" fill="#c0c0c0"/>
<rect x="1426" y="557" width="3" height="1" fill="#c0c0c0"/>
<rect x="1432" y="557" width="3" height="1" fill="#c0c0c0"/>
<rect x="1438" y="557" width="3" height="1" fill="#c0c0c0"/>
<rect x="1444" y="557" width="3" height="1" fill="#c0c0c0"/>
<rect x="1450" y="557" width="3" height="1" fill="#c0c0c0"/>
<rect x="1456" y="557" width="3" height="1" fill="#c0c0c0"/>
<rect x="1462" y="557" width="3" height="1" fill="#c0c0c0"/>
<rect x="1468" y="557" width="3" height="1" fill="#c0c0c0"/>
<rect x="1474" y="557" width="3" height="1" fill="#c0c0c0"/>
<rect x="1480" y="557" width="3" height="1" fill="#c0c0c0"/>
<rect x="1486" y="557" width="3" height="1" fill="#c0c0c0"/>
<rect x="1492" y="557" width="3" height="1" fill="#c0c0c0"/>
<rect x="1498" y="557" width="3" height="1" fill="#c0c0c0"/>
<rect x="1504" y="557" width="3" height="1" fill="#c0c0c0"/>
<rect x="1510" y="557" width="3" height="1" fill="#c0c0c0"/>
<rect x="1516" y="557" width="3" height="1" fill="#c0c0c0"/>
<rect x="1522" y="557" width="3" height="1" fill="#c0c0c0"/>
<rect x="1528" y="557" width="3" height="1" fill="#c0c0c0"/>
<rect x="1534" y="557" width="3" height="1" fill="#c0c0c0"/>
<rect x="1540" y="557" width="3" height="1" fill="#c0c0c0"/>
<rect x="1546" y="557" width="3" height="1" fill="#c0c0c0"/>
<rect x="1552" y="557" width="3" height="1" fill="#c0c0c0"/>
<rect x="1558" y="557" width="3" height="1" fill="#c0c0c0"/>
<rect x="1564" y="557" width="3" height="1" fill="#c0c0c0"/>
<rect x="1570" y="557" width="3" height="1" fill="#c0c0c0"/>
<rect x="1576" y="557" width="3" height="1" fill="#c0c0c0"/>
<rect x="1582" y="557" width="3" height="1" fill="#c0c0c0"/>
<rect x="1588" y="557" width="3" height="1" fill="#c0c0c0"/>
<rect x="1594" y="557" width="3" height="1" fill="#c0c0c0"/>
<rect x="4" y="593" width="3" height="1" fill="#c0c0c0"/>
<rect x="10" y="593" width="3" height="1" fill="#c0c0c0"/>
<rect x="16" y="593" width="3" height="1" fill="#c0c0c0"/>
<rect x="22" y="593" width="3" height="1" fill="#c0c0c0"/>
<rect x="28" y="593" width="3" height="1" fill="#c0c0c0"/>
<rect x="34" y="593" width="3" height="1" fill="#c0c0c0"/>
<rect x="40" y="593" width="3" height="1" fill="#c0c0c0"/>
<rect x="46" y="593" width="3" height="1" fill="#c0c0c0"/>
<rect x="52" y="593" width="3" height="1" fill="#c0c0c0"/>
<rect x="58" y="593" width="3" height="1" fill="#c0c0c0"/>
<rect x="64" y="593" width="3" height="1" fill="#c0c0c0"/>
<rect x="70" y="593" width="3" height="1" fill="#c0c0c0"/>
<rect x="76" y="593" width="3" height="1" fill="#c0c0c0"/>
<rect x="82" y="593" width="3" height="1" fill="#c0c0c0"/>
<rect x="88" y="593" width="3" height="1" fill="#c0c0c0"/>
<rect x="94" y="593" width="3" height="1" fill="#c0c0c0"/>
<rect x="100" y="593" width="3" height="1" fill="#c0c0c0"/>
<rect x="106" y="593" width="3" height="1" fill="#c0c0c0"/>
<rect x="112" y="593" width="3" height="1" fill="#c0c0c0"/>
<rect x="118" y="593" width="3" height="1" fill="#c0c0c0"/>
<rect x="124" y="593" width="3" height="1" fill="#c0c0c0"/>
<rect x="130" y="593" width="3" height="1" fill="#c0c0c0"/>
<rect x="136" y="593" width="3" height="1" fill="#c0c0c0"/>
<rect x="142" y="593" width="3" height="1" fill="#c0c0c0"/>
<rect x="148" y="593" width="3" height="1" fill="#c0c0c0"/>
<rect x="154" y="593" width="3" height="1" fill="#c0c0c0"/>
<rect x="160" y="593" width="3" height="1" fill="#c0c0c0"/>
<rect x="166" y="593" width="3" height="1" fill="#c0c0c0"/>
<rect x="172" y="593" width="3" height="1" fill="#c0c0c0"/>
<rect x="178" y="593" width="3" height="1" fill="#c0c0c0"/>
<rect x="184" y="593" width="3" height="1" fill="#c0c0c0"/>
<rect x="190" y="593" width="3" height="1" fill="#c0c0c0"/>
<rect x="196" y="593" width="3" height="1" fill="#c0c0c0"/>
<rect x="202" y="593" width="3" height="1" fill="#c0c0c0"/>
<rect x="208" y="593" width="3" height="1" fill="#c0c0c0"/>
<rect x="214" y="593" width="3" height="1" fill="#c0c0c0"/>
<rect x="220" y="593" width="3" height="1" fill="#c0c0c0"/>
<rect x="226" y="593" width="3" height="1" fill="#c0c0c0"/>
<rect x="232" y="593" width="3" height="1" fill="#c0c0c0"/>
<rect x="238" y="593" width="3" height="1" fill="#c0c0c0"/>
<rect x="244" y="593" width="3" height="1" fill="#c0c0c0"/>
<rect x="250" y="593" width="3" height="1" fill="#c0c0c0"/>
<rect x="256" y="593" width="3" height="1" fill="#c0c0c0"/>
<rect x="262" y="593" width="3" height="1" fill="#c0c0c0"/>
<rect x="268" y="593" width="3" height="1" fill="#c0c0c0"/>
<rect x="274" y="593" width="3" height="1" fill="#c0c0c0"/>
<rect x="280" y="593" width="3" height="1" fill="#c0c0c0"/>
<rect x="286" y="593" width="3" height="1" fill="#c0c0c0"/>
<rect x="292" y="593" width="3" height="1" fill="#c0c0c0"/>
<rect x="298" y="593" width="3" height="1" fill="#c0c0c0"/>
<rect x="304" y="593" width="3" height="1" fill="#c0c0c0"/>
<rect x="310" y="593" width="3" height="1" fill="#c0c0c0"/>
<rect x="316" y="593" width="3" height="1" fill="#c0c0c0"/>
<rect x="322" y="593" width="3" height="1" fill="#c0c0c0"/>
<rect x="328" y="593" width="3" height="1" fill="#c0c0c0"/>
<rect x="334" y="593" width="3" height="1" fill="#c0c0c0"/>
<rect x="340" y="593" width="3" height="1" fill="#c0c0c0"/>
<rect x="346" y="593" width="3" height="1" fill="#c0c0c0"/>
<rect x="352" y="593" width="3" height="1" fill="#c0c0c0"/>
<rect x="358" y="593" width="3" height="1" fill="#c0c0c0"/>
<rect x="364" y="593" width="3" height="1" fill="#c0c0c0"/>
<rect x="370" y="593" width="3" height="1" fill="#c0c0c0"/>
<rect x="376" y="593" width="3" height="1" fill="#c0c0c0"/>
<rect x="382" y="593" width="3" height="1" fill="#c0c0c0"/>
<rect x="388" y="593" width="3" height="1" fill="#c0c0c0"/>
<rect x="394" y="593" width="3" height="1" fill="#c0c0c0"/>
<rect x="400" y="593" width="3" height="1" fill="#c0c0c0"/>
<rect x="406" y="593" width="3" height="1" fill="#c0c0c0"/>
<rect x="412" y="593" width="3" height="1" fill="#c0c0c0"/>
<rect x="418" y="593" width="3" height="1" fill="#c0c0c0"/>
<rect x="424" y="593" width="3" height="1" fill="#c0c0c0"/>
<rect x="430" y="593" width="3" height="1" fill="#c0c0c0"/>
<rect x="436" y="593" width="3" height="1" fill="#c0c0c0"/>
<rect x="442" y="593" width="3" height="1" fill="#c0c0c0"/>
<rect x="448" y="593" width="3" height="1" fill="#c0c0c0"/>
<rect x="454" y="593" width="3" height="1" fill="#c0c0c0"/>
<rect x="460" y="593" width="3" height="1" fill="#c0c0c0"/>
<rect x="466" y="593" width="3" height="1" fill="#c0c0c0"/>
<rect x="472" y="593" width="3" height="1" fill="#c0c0c0"/>
<rect x="478" y="593" width="3" height="1" fill="#c0c0c0"/>
<rect x="484" y="593" width="3" height="1" fill="#c0c0c0"/>
<rect x="490" y="593" width="3" height="1" fill="#c0c0c0"/>
<rect x="496" y="593" width="3" height="1" fill="#c0c0c0"/>
<rect x="502" y="593" width="3" height="1" fill="#c0c0c0"/>
<rect x="508" y="593" width="3" height="1" fill="#c0c0c0"/>
<rect x="514" y="593" width="3" height="1" fill="#c0c0c0"/>
<rect x="520" y="593" width="3" height="1" fill="#c0c0c0"/>
<rect x="526" y="593" width="3" height="1" fill="#c0c0c0"/>
<rect x="532" y="593" width="3" height="1" fill="#c0c0c0"/>
<rect x="538" y="593" width="3" height="1" fill="#c0c0c0"/>
<rect x="544" y="593" width="3" height="1" fill="#c0c0c0"/>
<rect x="550" y="593" width="3" height="1" fill="#c0c0c0"/>
<rect x="556" y="593" width="3" height="1" fill="#c0c0c0"/>
<rect x="562" y="593" width="3" height="1" fill="#c0c0c0"/>
<rect x="568" y="593" width="3" height="1" fill="#c0c0c0"/>
<rect x="574" y="593" width="3" height="1" fill="#c0c0c0"/>
<rect x="580" y="593" width="3" height="1" fill="#c0c0c0"/>
<rect x="586" y="593" width="3" height="1" fill="#c0c0c0"/>
<rect x="592" y="593" width="3" height="1" fill="#c0c0c0"/>
<rect x="598" y="593" width="3" height="1" fill="#c0c0c0"/>
<rect x="604" y="593" width="3" height="1" fill="#c0c0c0"/>
<rect x="610" y="593" width="3" height="1" fill="#c0c0c0"/>
<rect x="616" y="593" width="3" height="1" fill="#c0c0c0"/>
<rect x="622" y="593" width="3" height="1" fill="#c0c0c0"/>
<rect x="628" y="593" width="3" height="1" fill="#c0c0c0"/>
<rect x="634" y="593" width="3" height="1" fill="#c0c0c0"/>
<rect x="640" y="593" width="3" height="1" fill="#c0c0c0"/>
<rect x="646" y="593" width="3" height="1" fill="#c0c0c0"/>
<rect x="652" y="593" width="3" height="1" fill="#c0c0c0"/>
<rect x="658" y="593" width="3" height="1" fill="#c0c0c0"/>
<rect x="664" y="593" width="3" height="1" fill="#c0c0c0"/>
<rect x="670" y="593" width="3" height="1" fill="#c0c0c0"/>
<rect x="676" y="593" width="3" height="1" fill="#c0c0c0"/>
<rect x="682" y="593" width="3" height="1" fill="#c0c0c0"/>
<rect x="688" y="593" width="3" height="1" fill="#c0c0c0"/>
<rect x="694" y="593" width="3" height="1" fill="#c0c0c0"/>
<rect x="700" y="593" width="3" height="1" fill="#c0c0c0"/>
<rect x="706" y="593" width="3" height="1" fill="#c0c0c0"/>
<rect x="712" y="593" width="3" height="1" fill="#c0c0c0"/>
<rect x="718" y="593" width="3" height="1" fill="#c0c0c0"/>
<rect x="724" y="593" width="3" height="1" fill="#c0c0c0"/>
<rect x="730" y="593" width="3" height="1" fill="#c0c0c0"/>
<rect x="736" y="593" width="3" height="1" fill="#c0c0c0"/>
<rect x="742" y="593" width="3" height="1" fill="#c0c0c0"/>
<rect x="748" y="593" width="3" height="1" fill="#c0c0c0"/>
<rect x="754" y="593" width="3" height="1" fill="#c0c0c0"/>
<rect x="760" y="593" width="3" height="1" fill="#c0c0c0"/>
<rect x="766" y="593" width="3" height="1" fill="#c0c0c0"/>
<rect x="772" y="593" width="3" height="1" fill="#c0c0c0"/>
<rect x="778" y="593" width="3" height="1" fill="#c0c0c0"/>
<rect x="784" y="593" width="3" height="1" fill="#c0c0c0"/>
<rect x="790" y="593" width="3" height="1" fill="#c0c0c0"/>
<rect x="796" y="593" width="3" height="1" fill="#c0c0c0"/>
<rect x="802" y="593" width="3" height="1" fill="#c0c0c0"/>
<rect x="808" y="593" width="3" height="1" fill="#c0c0c0"/>
<rect x="814" y="593" width="3" height="1" fill="#c0c0c0"/>
<rect x="820" y="593" width="3" height="1" fill="#c0c0c0"/>
<rect x="826" y="593" width="3" height="1" fill="#c0c0c0"/>
<rect x="832" y="593" width="3" height="1" fill="#c0c0c0"/>
<rect x="838" y="593" width="3" height="1" fill="#c0c0c0"/>
<rect x="844" y="593" width="3" height="1" fill="#c0c0c0"/>
<rect x="850" y="593" width="3" height="1" fill="#c0c0c0"/>
<rect x="856" y="593" width="3" height="1" fill="#c0c0c0"/>
<rect x="862" y="593" width="3" height="1" fill="#c0c0c0"/>
<rect x="868" y="593" width="3" height="1" fill="#c0c0c0"/>
<rect x="874" y="593" width="3" height="1" fill="#c0c0c0"/>
<rect x="880" y="593" width="3" height="1" fill="#c0c0c0"/>
<rect x="886" y="593" width="3" height="1" fill="#c0c0c0"/>
<rect x="892" y="593" width="3" height="1" fill="#c0c0c0"/>
<rect x="898" y="593" width="3" height="1" fill="#c0c0c0"/>
<rect x="904" y="593" width="3" height="1" fill="#c0c0c0"/>
<rect x="910" y="593" width="3" height="1" fill="#c0c0c0"/>
<rect x="916" y="593" width="3" height="1" fill="#c0c0c0"/>
<rect x="922" y="593" width="3" height="1" fill="#c0c0c0"/>
<rect x="928" y="593" width="3" height="1" fill="#c0c0c0"/>
<rect x="934" y="593" width="3" height="1" fill="#c0c0c0"/>
<rect x="940" y="593" width="3" height="1" fill="#c0c0c0"/>
<rect x="946" y="593" width="3" height="1" fill="#c0c0c0"/>
<rect x="952" y="593" width="3" height="1" fill="#c0c0c0"/>
<rect x="958" y="593" width="3" height="1" fill="#c0c0c0"/>
<rect x="964" y="593" width="3" height="1" fill="#c0c0c0"/>
<rect x="970" y="593" width="3" height="1" fill="#c0c0c0"/>
<rect x="976" y="593" width="3" height="1" fill="#c0c0c0"/>
<rect x="982" y="593" width="3" height="1" fill="#c0c0c0"/>
<rect x="988" y="593" width="3" height="1" fill="#c0c0c0"/>
<rect x="994" y="593" width="3" height="1" fill="#c0c0c0"/>
<rect x="1000" y="593" width="3" height="1" fill="#c0c0c0"/>
<rect x="1006" y="593" width="3" height="1" fill="#c0c0c0"/>
<rect x="1012" y="593" width="3" height="1" fill="#c0c0c0"/>
<rect x="1018" y="593" width="3" height="1" fill="#c0c0c0"/>
<rect x="1024" y="593" width="3" height="1" fill="#c0c0c0"/>
<rect x="1030" y="593" width="3" height="1" fill="#c0c0c0"/>
<rect x="1036" y="593" width="3" height="1" fill="#c0c0c0"/>
<rect x="1042" y="593" width="3" height="1" fill="#c0c0c0"/>
<rect x="1048" y="593" width="3" height="1" fill="#c0c0c0"/>
<rect x="1054" y="593" width="3" height="1" fill="#c0c0c0"/>
<rect x="1060" y="593" width="3" height="1" fill="#c0c0c0"/>
<rect x="1066" y="593" width="3" height="1" fill="#c0c0c0"/>
<rect x="1072" y="593" width="3" height="1" fill="#c0c0c0"/>
<rect x="1078" y="593" width="3" height="1" fill="#c0c0c0"/>
<rect x="1084" y="593" width="3" height="1" fill="#c0c0c0"/>
<rect x="1090" y="593" width="3" height="1" fill="#c0c0c0"/>
<rect x="1096" y="593" width="3" height="1" fill="#c0c0c0"/>
<rect x="1102" y="593" width="3" height="1" fill="#c0c0c0"/>
<rect x="1108" y="593" width="3" height="1" fill="#c0c0c0"/>
<rect x="1114" y="593" width="3" height="1" fill="#c0c0c0"/>
<rect x="1120" y="593" width="3" height="1" fill="#c0c0c0"/>
<rect x="1126" y="593" width="3" height="1" fill="#c0c0c0"/>
<rect x="1132" y="593" width="3" height="1" fill="#c0c0c0"/>
<rect x="1138" y="593" width="3" height="1" fill="#c0c0c0"/>
<rect x="1144" y="593" width="3" height="1" fill="#c0c0c0"/>
<rect x="1150" y="593" width="3" height="1" fill="#c0c0c0"/>
<rect x="1156" y="593" width="3" height="1" fill="#c0c0c0"/>
<rect x="1162" y="593" width="3" height="1" fill="#c0c0c0"/>
<rect x="1168" y="593" width="3" height="1" fill="#c0c0c0"/>
<rect x="1174" y="593" width="3" height="1" fill="#c0c0c0"/>
<rect x="1180" y="593" width="3" height="1" fill="#c0c0c0"/>
<rect x="1186" y="593" width="3" height="1" fill="#c0c0c0"/>
<rect x="1192" y="593" width="3" height="1" fill="#c0c0c0"/>
<rect x="1198" y="593" width="3" height="1" fill="#c0c0c0"/>
<rect x="1204" y="593" width="3" height="1" fill="#c0c0c0"/>
<rect x="1210" y="593" width="3" height="1" fill="#c0c0c0"/>
<rect x="1216" y="593" width="3" height="1" fill="#c0c0c0"/>
<rect x="1222" y="593" width="3" height="1" fill="#c0c0c0"/>
<rect x="1228" y="593" width="3" height="1" fill="#c0c0c0"/>
<rect x="1234" y="593" width="3" height="1" fill="#c0c0c0"/>
<rect x="1240" y="593" width="3" height="1" fill="#c0c0c0"/>
<rect x="1246" y="593" width="3" height="1" fill="#c0c0c0"/>
<rect x="1252" y="593" width="3" height="1" fill="#c0c0c0"/>
<rect x="1258" y="593" width="3" height="1" fill="#c0c0c0"/>
<rect x="1264" y="593" width="3" height="1" fill="#c0c0c0"/>
<rect x="1270" y="593" width="3" height="1" fill="#c0c0c0"/>
<rect x="1276" y="593" width="3" height="1" fill="#c0c0c0"/>
<rect x="1282" y="593" width="3" height="1" fill="#c0c0c0"/>
<rect x="1288" y="593" width="3" height="1" fill="#c0c0c0"/>
<rect x="1294" y="593" width="3" height="1" fill="#c0c0c0"/>
<rect x="1300" y="593" width="3" height="1" fill="#c0c0c0"/>
<rect x="1306" y="593" width="3" height="1" fill="#c0c0c0"/>
<rect x="1312" y="593" width="3" height="1" fill="#c0c0c0"/>
<rect x="1318" y="593" width="3" height="1" fill="#c0c0c0"/>
<rect x="1324" y="593" width="3" height="1" fill="#c0c0c0"/>
<rect x="1330" y="593" width="3" height="1" fill="#c0c0c0"/>
<rect x="1336" y="593" width="3" height="1" fill="#c0c0c0"/>
<rect x="1342" y="593" width="3" height="1" fill="#c0c0c0"/>
<rect x="1348" y="593" width="3" height="1" fill="#c0c0c0"/>
<rect x="1354" y="593" width="3" height="1" fill="#c0c0c0"/>
<rect x="1360" y="593" width="3" height="1" fill="#c0c0c0"/>
<rect x="1366" y="593" width="3" height="1" fill="#c0c0c0"/>
<rect x="1372" y="593" width="3" height="1" fill="#c0c0c0"/>
<rect x="1378" y="593" width="3" height="1" fill="#c0c0c0"/>
<rect x="1384" y="593" width="3" height="1" fill="#c0c0c0"/>
<rect x="1390" y="593" width="3" height="1" fill="#c0c0c0"/>
<rect x="1396" y="593" width="3" height="1" fill="#c0c0c0"/>
<rect x="1402" y="593" width="3" height="1" fill="#c0c0c0"/>
<rect x="1408" y="593" width="3" height="1" fill="#c0c0c0"/>
<rect x="1414" y="593" width="3" height="1" fill="#c0c0c0"/>
<rect x="1420" y="593" width="3" height="1" fill="#c0c0c0"/>
<rect x="1426" y="593" width="3" height="1" fill="#c0c0c0"/>
<rect x="1432" y="593" width="3" height="1" fill="#c0c0c0"/>
<rect x="1438" y="593" width="3" height="1" fill="#c0c0c0"/>
<rect x="1444" y="593" width="3" height="1" fill="#c0c0c0"/>
<rect x="1450" y="593" width="3" height="1" fill="#c0c0c0"/>
<rect x="1456" y="593" width="3" height="1" fill="#c0c0c0"/>
<rect x="1462" y="593" width="3" height="1" fill="#c0c0c0"/>
<rect x="1468" y="593" width="3" height="1" fill="#c0c0c0"/>
<rect x="1474" y="593" width="3" height="1" fill="#c0c0c0"/>
<rect x="1480" y="593" width="3" height="1" fill="#c0c0c0"/>
<rect x="1486" y="593" width="3" height="1" fill="#c0c0c0"/>
<rect x="1492" y="593" width="3" height="1" fill="#c0c0c0"/>
<rect x="1498" y="593" width="3" height="1" fill="#c0c0c0"/>
<rect x="1504" y="593" width="3" height="1" fill="#c0c0c0"/>
<rect x="1510" y="593" width="3" height="1" fill="#c0c0c0"/>
<rect x="1516" y="593" width="3" height="1" fill="#c0c0c0"/>
<rect x="1522" y="593" width="3" height="1" fill="#c0c0c0"/>
<rect x="1528" y="593" width="3" height="1" fill="#c0c0c0"/>
<rect x="1534" y="593" width="3" height="1" fill="#c0c0c0"/>
<rect x="1540" y="593" width="3" height="1" fill="#c0c0c0"/>
<rect x="1546" y="593" width="3" height="1" fill="#c0c0c0"/>
<rect x="1552" y="593" width="3" height="1" fill="#c0c0c0"/>
<rect x="1558" y="593" width="3" height="1" fill="#c0c0c0"/>
<rect x="1564" y="593" width="3" height="1" fill="#c0c0c0"/>
<rect x="1570" y="593" width="3" height="1" fill="#c0c0c0"/>
<rect x="1576" y="593" width="3" height="1" fill="#c0c0c0"/>
<rect x="1582" y="593" width="3" height="1" fill="#c0c0c0"/>
<rect x="1588" y="593" width="3" height="1" fill="#c0c0c0"/>
<rect x="1594" y="593" width="3" height="1" fill="#c0c0c0"/>
<path d="M24 586h2v1h-2zM68 586h2v1h-2zM74 586h12v1h-12zM90 586h3v1h-3zM214 586h4v1h-4zM362 586h3v1h-3zM374 586h4v1h-4zM730 586h4v1h-4zM105 582h2v1h-2zM139 582h3v1h-3zM145 582h2v1h-2zM198 582h2v1h-2zM201 582h2v1h-2zM411 582h2v1h-2zM600 582h6v1h-6zM614 582h2v1h-2zM831 582h2v1h-2zM930 582h4v1h-4zM976 582h2v1h-2zM10 588h3v1h-3zM627 588h2v1h-2zM666 588h2v1h-2zM722 588h4v1h-4zM326 566h3v1h-3zM486 566h2v1h-2zM740 566h5v1h-5zM1110 566h2v1h-2zM1113 566h2v1h-2zM1185 566h2v1h-2zM1199 566h2v1h-2zM32 573h5v1h-5zM50 573h2v1h-2zM53 573h2v1h-2zM314 573h3v1h-3zM394 573h3v1h-3zM403 573h2v1h-2zM462 573h2v1h-2zM848 573h2v1h-2zM1127 573h3v1h-3zM1148 573h2v1h-2zM1153 573h2v1h-2zM299 563h2v1h-2zM339 563h3v1h-3zM491 563h2v1h-2zM96 576h5v1h-5zM171 576h2v1h-2zM182 576h3v1h-3zM384 576h5v1h-5zM510 576h2v1h-2zM514 576h7v1h-7zM565 576h2v1h-2zM581 576h2v1h-2zM788 576h2v1h-2zM893 576h2v1h-2zM762 556h2v1h-2zM186 578h2v1h-2zM238 578h2v1h-2zM241 578h2v1h-2zM348 578h5v1h-5zM507 578h2v1h-2zM575 578h3v1h-3zM876 578h2v1h-2zM911 578h11v1h-11zM949 578h2v1h-2zM986 578h3v1h-3zM999 578h2v1h-2zM632 591h2v1h-2zM673 591h2v1h-2zM538 558h2v1h-2zM541 558h2v1h-2zM1065 558h2v1h-2zM1219 558h7v1h-7zM1230 558h3v1h-3zM120 594h2v1h-2zM679 594h3v1h-3zM754 552h2v1h-2zM1091 552h3v1h-3zM164 574h5v1h-5zM397 574h2v1h-2zM401 574h2v1h-2zM522 574h2v1h-2zM586 574h3v1h-3zM650 574h3v1h-3zM799 574h2v1h-2zM850 574h3v1h-3zM886 574h4v1h-4zM1032 574h9v1h-9zM1130 574h3v1h-3zM1150 574h3v1h-3zM698 601h8v1h-8zM243 577h6v1h-6zM505 577h2v1h-2zM567 577h2v1h-2zM578 577h3v1h-3zM790 577h7v1h-7zM895 577h2v1h-2zM951 577h2v1h-2zM984 577h2v1h-2zM997 577h2v1h-2zM446 568h4v1h-4zM963 568h2v1h-2zM1026 568h2v1h-2zM1044 568h5v1h-5zM1107 568h2v1h-2zM1202 568h2v1h-2zM86 585h4v1h-4zM111 585h2v1h-2zM359 585h3v1h-3zM372 585h2v1h-2zM422 585h3v1h-3zM734 585h3v1h-3zM825 585h2v1h-2zM169 575h2v1h-2zM180 575h2v1h-2zM399 575h2v1h-2zM456 575h5v1h-5zM512 575h2v1h-2zM583 575h3v1h-3zM648 575h2v1h-2zM884 575h2v1h-2zM890 575h3v1h-3zM26 587h3v1h-3zM70 587h4v1h-4zM114 587h2v1h-2zM208 587h6v1h-6zM218 587h3v1h-3zM378 587h3v1h-3zM726 587h4v1h-4zM107 583h2v1h-2zM137 583h2v1h-2zM147 583h2v1h-2zM230 583h2v1h-2zM413 583h2v1h-2zM427 583h2v1h-2zM606 583h3v1h-3zM829 583h2v1h-2zM866 583h7v1h-7zM934 583h7v1h-7zM677 593h2v1h-2zM814 593h7v1h-7zM122 595h4v1h-4zM682 595h4v1h-4zM46 572h2v1h-2zM55 572h2v1h-2zM273 572h2v1h-2zM311 572h3v1h-3zM317 572h2v1h-2zM392 572h2v1h-2zM590 572h2v1h-2zM836 572h2v1h-2zM1125 572h2v1h-2zM1155 572h3v1h-3zM1171 572h10v1h-10zM153 579h2v1h-2zM570 579h2v1h-2zM573 579h2v1h-2zM857 579h2v1h-2zM878 579h3v1h-3zM906 579h2v1h-2zM909 579h2v1h-2zM922 579h3v1h-3zM944 579h5v1h-5zM989 579h2v1h-2zM1007 579h3v1h-3zM287 559h6v1h-6zM543 559h2v1h-2zM1055 559h2v1h-2zM1063 559h2v1h-2zM1217 559h2v1h-2zM1226 559h4v1h-4zM15 590h2v1h-2zM623 590h2v1h-2zM630 590h2v1h-2zM670 590h3v1h-3zM266 569h3v1h-3zM442 569h4v1h-4zM554 569h3v1h-3zM842 569h2v1h-2zM1019 569h2v1h-2zM1118 569h2v1h-2zM155 580h2v1h-2zM195 580h2v1h-2zM434 580h3v1h-3zM859 580h2v1h-2zM925 580h2v1h-2zM991 580h2v1h-2zM1002 580h2v1h-2zM1005 580h2v1h-2zM1010 580h3v1h-3zM263 570h3v1h-3zM440 570h2v1h-2zM466 570h2v1h-2zM469 570h2v1h-2zM497 570h2v1h-2zM552 570h2v1h-2zM1017 570h2v1h-2zM1120 570h2v1h-2zM1166 570h3v1h-3zM324 567h2v1h-2zM450 567h3v1h-3zM558 567h3v1h-3zM961 567h2v1h-2zM1022 567h2v1h-2zM1105 567h2v1h-2zM1115 567h2v1h-2zM1187 567h2v1h-2zM1197 567h2v1h-2zM261 571h2v1h-2zM275 571h2v1h-2zM309 571h2v1h-2zM319 571h2v1h-2zM471 571h2v1h-2zM499 571h2v1h-2zM838 571h3v1h-3zM1122 571h3v1h-3zM1158 571h8v1h-8zM1169 571h2v1h-2zM8 589h2v1h-2zM13 589h2v1h-2zM222 589h2v1h-2zM621 589h2v1h-2zM625 589h2v1h-2zM668 589h2v1h-2zM720 589h2v1h-2zM142 581h3v1h-3zM190 581h2v1h-2zM193 581h2v1h-2zM203 581h2v1h-2zM409 581h2v1h-2zM610 581h2v1h-2zM658 581h2v1h-2zM927 581h3v1h-3zM974 581h2v1h-2zM978 581h3v1h-3zM1080 554h9v1h-9zM1258 546h2v1h-2zM1262 546h4v1h-4zM302 565h2v1h-2zM1190 565h2v1h-2zM126 596h7v1h-7zM686 596h3v1h-3zM1242 548h4v1h-4zM285 560h2v1h-2zM293 560h2v1h-2zM534 560h3v1h-3zM545 560h2v1h-2zM1053 560h2v1h-2zM1057 560h2v1h-2zM1061 560h2v1h-2zM1212 560h5v1h-5zM297 562h2v1h-2zM333 562h2v1h-2zM337 562h2v1h-2zM530 562h2v1h-2zM109 584h2v1h-2zM159 584h2v1h-2zM357 584h2v1h-2zM370 584h2v1h-2zM415 584h7v1h-7zM425 584h2v1h-2zM827 584h2v1h-2zM864 584h2v1h-2zM295 561h2v1h-2zM335 561h2v1h-2zM532 561h2v1h-2zM547 561h2v1h-2zM1059 561h2v1h-2zM1210 561h2v1h-2zM706 602h3v1h-3zM330 564h2v1h-2zM342 564h3v1h-3zM478 564h2v1h-2zM489 564h2v1h-2zM774 547h3v1h-3zM1246 547h7v1h-7zM1260 547h2v1h-2zM692 600h6v1h-6zM768 550h2v1h-2zM1098 550h3v1h-3zM634 592h7v1h-7zM675 592h2v1h-2zM812 592h2v1h-2zM770 549h3v1h-3zM1240 549h2v1h-2zM1089 553h2v1h-2zM1074 551h2v1h-2zM1094 551h4v1h-4zM709 603h2v1h-2zM1254 545h2v1h-2zM1266 545h3v1h-3zM1067 557h2v1h-2zM711 604h2v1h-2zM807 586h1v2h-1zM473 570h1v1h-1zM1204 569h1v1h-1zM482 565h1v2h-1zM739 569h1v5h-1zM822 589h1v2h-1zM550 565h1v2h-1zM751 555h1v2h-1zM405 574h1v2h-1zM162 579h1v2h-1zM382 581h1v2h-1zM439 572h1v3h-1zM207 585h1v2h-1zM21 594h1v3h-1zM1101 552h1v4h-1zM135 586h1v3h-1zM956 570h1v1h-1zM526 568h1v2h-1zM485 567h1v1h-1zM1070 555h1v1h-1zM454 570h1v2h-1zM200 583h1v1h-1zM883 576h1v1h-1zM758 554h1v2h-1zM161 581h1v3h-1zM715 601h1v1h-1zM1135 568h1v2h-1zM381 583h1v3h-1zM613 581h1v1h-1zM778 550h1v3h-1zM432 578h1v1h-1zM656 579h1v1h-1zM237 577h1v1h-1zM1043 569h1v2h-1zM834 576h1v3h-1zM17 591h1v2h-1zM280 566h1v1h-1zM803 579h1v2h-1zM249 578h1v1h-1zM29 582h1v4h-1zM720 590h1v1h-1zM6 591h1v1h-1zM740 567h1v2h-1zM785 564h1v4h-1zM408 580h1v1h-1zM481 564h1v1h-1zM1142 565h1v2h-1zM116 588h1v1h-1zM620 588h1v1h-1zM160 585h1v1h-1zM1134 570h1v2h-1zM766 552h1v2h-1zM557 568h1v1h-1zM549 563h1v2h-1zM800 573h1v1h-1zM306 568h1v1h-1zM598 578h1v2h-1zM1031 573h1v1h-1zM833 579h1v2h-1zM225 589h1v1h-1zM59 575h1v1h-1zM1104 564h1v3h-1zM1253 546h1v1h-1zM173 577h1v2h-1zM853 575h1v1h-1zM655 578h1v1h-1zM719 591h1v3h-1zM206 584h1v1h-1zM572 580h1v1h-1zM355 582h1v1h-1zM777 548h1v2h-1zM1103 560h1v4h-1zM283 562h1v1h-1zM20 597h1v2h-1zM347 573h1v4h-1zM369 583h1v1h-1zM476 566h1v1h-1zM738 574h1v4h-1zM821 591h1v2h-1zM329 565h1v1h-1zM747 562h1v1h-1zM750 557h1v2h-1zM150 580h1v2h-1zM1112 565h1v1h-1zM480 563h1v1h-1zM119 592h1v2h-1zM58 574h1v1h-1zM134 589h1v3h-1zM92 585h1v1h-1zM438 575h1v2h-1zM647 577h1v2h-1zM552 569h1v1h-1zM407 578h1v2h-1zM430 580h1v2h-1zM305 567h1v1h-1zM1141 564h1v1h-1zM1205 567h1v2h-1zM525 570h1v2h-1zM902 575h1v1h-1zM389 575h1v1h-1zM232 582h1v1h-1zM23 588h1v3h-1zM1183 566h1v2h-1zM4 593h1v1h-1zM453 568h1v2h-1zM1195 567h1v1h-1zM654 576h1v2h-1zM643 585h1v2h-1zM981 580h1v1h-1zM321 570h1v1h-1zM564 574h1v2h-1zM19 595h1v2h-1zM1004 581h1v1h-1zM365 585h1v1h-1zM31 575h1v4h-1zM943 580h1v1h-1zM809 589h1v1h-1zM180 576h1v1h-1zM901 574h1v1h-1zM609 582h1v1h-1zM661 583h1v1h-1zM955 571h1v2h-1zM551 567h1v2h-1zM642 587h1v2h-1zM252 582h1v1h-1zM118 591h1v1h-1zM802 577h1v2h-1zM810 590h1v1h-1zM548 562h1v1h-1zM662 584h1v1h-1zM897 576h1v1h-1zM863 583h1v1h-1zM175 581h1v2h-1zM1137 566h1v1h-1zM61 577h1v2h-1zM133 592h1v3h-1zM973 580h1v1h-1zM1236 554h1v1h-1zM30 579h1v3h-1zM176 583h1v1h-1zM282 563h1v2h-1zM597 576h1v2h-1zM1194 566h1v1h-1zM354 580h1v2h-1zM1015 573h1v2h-1zM62 579h1v1h-1zM103 580h1v1h-1zM798 575h1v1h-1zM746 563h1v2h-1zM787 571h1v4h-1zM96 577h1v1h-1zM205 582h1v2h-1zM1133 572h1v2h-1zM49 572h1v1h-1zM737 578h1v5h-1zM1042 571h1v1h-1zM646 579h1v2h-1zM250 579h1v2h-1zM563 572h1v2h-1zM301 564h1v1h-1zM832 581h1v1h-1zM958 568h1v1h-1zM18 593h1v2h-1zM824 586h1v1h-1zM1182 568h1v2h-1zM776 546h1v1h-1zM875 579h1v1h-1zM761 557h1v1h-1zM753 553h1v1h-1zM251 581h1v1h-1zM346 570h1v3h-1zM483 567h1v1h-1zM873 582h1v1h-1zM765 554h1v1h-1zM1072 553h1v1h-1zM464 572h1v1h-1zM255 578h1v1h-1zM1239 550h1v1h-1zM224 590h1v1h-1zM528 564h1v2h-1zM468 569h1v1h-1zM882 577h1v1h-1zM269 570h1v1h-1zM540 557h1v1h-1zM235 577h1v2h-1zM749 559h1v2h-1zM270 571h1v1h-1zM102 578h1v2h-1zM437 577h1v3h-1zM908 580h1v1h-1zM836 573h1v1h-1zM657 580h1v1h-1zM429 582h1v1h-1zM954 573h1v2h-1zM524 572h1v2h-1zM475 567h1v1h-1zM136 584h1v2h-1zM1102 556h1v4h-1zM641 589h1v2h-1zM117 589h1v2h-1zM433 579h1v1h-1zM391 573h1v1h-1zM996 576h1v1h-1zM383 578h1v3h-1zM801 575h1v2h-1zM38 571h1v1h-1zM258 574h1v2h-1zM718 594h1v2h-1zM227 586h1v1h-1zM174 579h1v2h-1zM345 566h1v4h-1zM1076 550h1v1h-1zM1014 575h1v2h-1zM60 576h1v1h-1zM983 578h1v1h-1zM1143 567h1v1h-1zM197 581h1v1h-1zM323 568h1v1h-1zM494 566h1v1h-1zM95 578h1v2h-1zM307 569h1v1h-1zM1144 568h1v1h-1zM356 583h1v1h-1zM64 582h1v1h-1zM904 577h1v1h-1zM736 583h1v2h-1zM1052 561h1v1h-1zM308 570h1v1h-1zM854 576h1v1h-1zM714 602h1v1h-1zM380 586h1v1h-1zM717 596h1v3h-1zM1189 566h1v1h-1zM1117 568h1v1h-1zM1181 570h1v2h-1zM1013 577h1v2h-1zM844 568h1v1h-1zM1209 562h1v1h-1zM152 578h1v1h-1zM899 574h1v1h-1zM1201 567h1v1h-1zM562 570h1v2h-1zM94 580h1v3h-1zM1207 564h1v2h-1zM1238 551h1v2h-1zM965 569h1v2h-1zM45 573h1v1h-1zM903 576h1v1h-1zM592 571h1v1h-1zM1021 568h1v1h-1zM569 578h1v1h-1zM132 595h1v1h-1zM994 578h1v1h-1zM1041 572h1v2h-1zM63 580h1v2h-1zM645 581h1v2h-1zM367 583h1v1h-1zM690 598h1v1h-1zM1196 568h1v1h-1zM779 553h1v2h-1zM254 579h1v2h-1zM957 569h1v1h-1zM561 568h1v2h-1zM527 566h1v2h-1zM1139 564h1v1h-1zM113 586h1v1h-1zM811 591h1v1h-1zM493 564h1v2h-1zM440 571h1v1h-1zM1235 555h1v1h-1zM1051 562h1v2h-1zM234 579h1v1h-1zM797 576h1v1h-1zM192 582h1v1h-1zM953 575h1v2h-1zM663 585h1v1h-1zM968 574h1v1h-1zM474 568h1v2h-1zM1146 570h1v2h-1zM664 586h1v1h-1zM1233 557h1v1h-1zM28 586h1v1h-1zM960 566h1v1h-1zM823 587h1v2h-1zM40 569h1v1h-1zM257 576h1v1h-1zM689 597h1v1h-1zM260 572h1v1h-1zM782 559h1v1h-1zM104 581h1v1h-1zM846 570h1v2h-1zM41 570h1v1h-1zM788 575h1v1h-1zM390 574h1v1h-1zM348 577h1v1h-1zM1071 554h1v1h-1zM967 572h1v2h-1zM644 583h1v2h-1zM716 599h1v2h-1zM477 565h1v1h-1zM835 574h1v2h-1zM284 561h1v1h-1zM93 583h1v2h-1zM32 574h1v1h-1zM431 579h1v1h-1zM1028 569h1v1h-1zM781 557h1v2h-1zM640 591h1v1h-1zM1001 579h1v1h-1zM279 567h1v1h-1zM759 556h1v2h-1zM845 569h1v1h-1zM226 587h1v2h-1zM229 584h1v1h-1zM5 592h1v1h-1zM272 573h1v1h-1zM188 579h1v1h-1zM804 581h1v2h-1zM1184 565h1v1h-1zM1016 571h1v2h-1zM484 568h1v1h-1zM495 567h1v2h-1zM966 571h1v1h-1zM496 569h1v1h-1zM488 565h1v1h-1zM982 579h1v1h-1zM1145 569h1v1h-1zM1077 551h1v1h-1zM594 573h1v1h-1zM784 562h1v2h-1zM1078 552h1v1h-1zM1012 579h1v1h-1zM179 577h1v2h-1zM271 572h1v1h-1zM461 574h1v1h-1zM344 565h1v1h-1zM1206 566h1v1h-1zM149 582h1v1h-1zM43 573h1v1h-1zM1237 553h1v1h-1zM66 584h1v1h-1zM233 580h1v2h-1zM24 587h1v1h-1zM1050 564h1v2h-1zM521 575h1v1h-1zM164 575h1v1h-1zM1256 544h1v1h-1zM616 583h1v1h-1zM970 576h1v2h-1zM993 579h1v1h-1zM1069 556h1v1h-1zM1024 566h1v1h-1zM240 579h1v1h-1zM157 581h1v1h-1zM617 584h1v1h-1zM366 584h1v1h-1zM65 583h1v1h-1zM780 555h1v2h-1zM905 578h1v1h-1zM959 567h1v1h-1zM665 587h1v1h-1zM874 580h1v2h-1zM855 577h1v1h-1zM783 560h1v2h-1zM465 571h1v1h-1zM256 577h1v1h-1zM898 575h1v1h-1zM42 571h1v2h-1zM332 563h1v1h-1zM856 578h1v1h-1zM942 581h1v1h-1zM1138 565h1v1h-1zM502 573h1v2h-1zM691 599h1v1h-1zM757 552h1v2h-1zM537 559h1v1h-1zM221 588h1v1h-1zM503 575h1v1h-1zM841 570h1v1h-1zM236 576h1v1h-1zM560 566h1v1h-1zM593 572h1v1h-1zM278 568h1v2h-1zM281 565h1v1h-1zM773 548h1v1h-1zM39 570h1v1h-1zM1049 566h1v2h-1zM1100 551h1v1h-1zM1030 571h1v2h-1zM22 591h1v3h-1zM1073 552h1v1h-1zM163 576h1v3h-1zM509 577h1v1h-1zM612 580h1v1h-1zM847 572h1v1h-1zM805 583h1v2h-1zM178 579h1v2h-1zM189 580h1v1h-1zM806 585h1v1h-1zM786 568h1v3h-1zM1136 567h1v1h-1zM745 565h1v1h-1zM619 587h1v1h-1zM57 573h1v1h-1zM969 575h1v1h-1zM1147 572h1v1h-1zM384 577h1v1h-1zM7 590h1v1h-1zM259 573h1v1h-1zM1079 553h1v1h-1zM456 574h1v1h-1zM228 585h1v1h-1zM589 573h1v1h-1zM995 577h1v1h-1zM37 572h1v1h-1zM653 575h1v1h-1zM760 558h1v1h-1zM529 563h1v1h-1zM764 555h1v1h-1zM158 582h1v2h-1zM618 585h1v2h-1zM52 574h1v1h-1zM1109 567h1v1h-1zM900 573h1v1h-1zM406 576h1v2h-1zM881 578h1v1h-1zM304 566h1v1h-1zM748 561h1v1h-1zM599 580h1v2h-1zM713 603h1v1h-1zM455 572h1v2h-1zM862 582h1v1h-1zM1208 563h1v1h-1zM1029 570h1v1h-1zM151 579h1v1h-1zM752 554h1v1h-1zM185 577h1v1h-1zM596 575h1v1h-1zM648 576h1v1h-1zM353 579h1v1h-1zM1193 565h1v1h-1zM177 581h1v2h-1zM501 572h1v1h-1zM44 574h1v1h-1zM756 551h1v1h-1zM767 551h1v1h-1zM368 582h1v1h-1zM808 588h1v1h-1zM861 581h1v1h-1zM277 570h1v1h-1zM322 569h1v1h-1zM1257 545h1v1h-1zM971 578h1v1h-1zM436 581h1v1h-1zM1025 567h1v1h-1zM660 582h1v1h-1zM1140 563h1v1h-1zM595 574h1v1h-1zM1192 564h1v1h-1zM972 579h1v1h-1zM941 582h1v1h-1zM253 581h1v1h-1zM67 585h1v1h-1zM101 577h1v1h-1zM48 571h1v1h-1zM1234 556h1v1h-1zM629 589h1v1h-1zM504 576h1v1h-1z" fill="#1e90ff"/>
<text x="7.6" y="541" font-size="9.8" letter-spacing="-0.33" fill="#000" text-anchor="start" textLength="68.4">RSI(14) 85.2018</text>
<text x="1600.3" y="539.8" font-size="9.8" letter-spacing="-0.33" fill="#000" text-anchor="start" >100</text>
<text x="1600.3" y="560.6" font-size="9.8" letter-spacing="-0.33" fill="#000" text-anchor="start" >70</text>
<text x="1600.3" y="596.6" font-size="9.8" letter-spacing="-0.33" fill="#000" text-anchor="start" >30</text>
<text x="1600.3" y="617.6" font-size="9.8" letter-spacing="-0.33" fill="#000" text-anchor="start" >0</text>
<rect x="1597" y="557" width="2" height="1" fill="#000"/>
<rect x="1597" y="593" width="2" height="1" fill="#000"/>
<rect x="4" y="679" width="1" height="15" fill="#c0c0c0"/>
<rect x="8" y="679" width="1" height="15" fill="#c0c0c0"/>
<rect x="12" y="679" width="1" height="15" fill="#c0c0c0"/>
<rect x="16" y="679" width="1" height="15" fill="#c0c0c0"/>
<rect x="20" y="679" width="1" height="17" fill="#c0c0c0"/>
<rect x="24" y="679" width="1" height="17" fill="#c0c0c0"/>
<rect x="28" y="679" width="1" height="17" fill="#c0c0c0"/>
<rect x="32" y="679" width="1" height="14" fill="#c0c0c0"/>
<rect x="36" y="679" width="1" height="11" fill="#c0c0c0"/>
<rect x="40" y="679" width="1" height="8" fill="#c0c0c0"/>
<rect x="44" y="679" width="1" height="6" fill="#c0c0c0"/>
<rect x="48" y="679" width="1" height="4" fill="#c0c0c0"/>
<rect x="52" y="679" width="1" height="3" fill="#c0c0c0"/>
<rect x="56" y="679" width="1" height="2" fill="#c0c0c0"/>
<rect x="60" y="679" width="1" height="2" fill="#c0c0c0"/>
<rect x="64" y="679" width="1" height="4" fill="#c0c0c0"/>
<rect x="68" y="679" width="1" height="6" fill="#c0c0c0"/>
<rect x="72" y="679" width="1" height="8" fill="#c0c0c0"/>
<rect x="76" y="679" width="1" height="9" fill="#c0c0c0"/>
<rect x="80" y="679" width="1" height="10" fill="#c0c0c0"/>
<rect x="84" y="679" width="1" height="11" fill="#c0c0c0"/>
<rect x="88" y="679" width="1" height="11" fill="#c0c0c0"/>
<rect x="92" y="679" width="1" height="12" fill="#c0c0c0"/>
<rect x="96" y="679" width="1" height="10" fill="#c0c0c0"/>
<rect x="100" y="679" width="1" height="9" fill="#c0c0c0"/>
<rect x="104" y="679" width="1" height="9" fill="#c0c0c0"/>
<rect x="108" y="679" width="1" height="9" fill="#c0c0c0"/>
<rect x="112" y="679" width="1" height="10" fill="#c0c0c0"/>
<rect x="116" y="679" width="1" height="11" fill="#c0c0c0"/>
<rect x="120" y="679" width="1" height="14" fill="#c0c0c0"/>
<rect x="124" y="679" width="1" height="16" fill="#c0c0c0"/>
<rect x="128" y="679" width="1" height="18" fill="#c0c0c0"/>
<rect x="132" y="679" width="1" height="20" fill="#c0c0c0"/>
<rect x="136" y="679" width="1" height="19" fill="#c0c0c0"/>
<rect x="140" y="679" width="1" height="18" fill="#c0c0c0"/>
<rect x="144" y="679" width="1" height="16" fill="#c0c0c0"/>
<rect x="148" y="679" width="1" height="15" fill="#c0c0c0"/>
<rect x="152" y="679" width="1" height="14" fill="#c0c0c0"/>
<rect x="156" y="679" width="1" height="13" fill="#c0c0c0"/>
<rect x="160" y="679" width="1" height="13" fill="#c0c0c0"/>
<rect x="164" y="679" width="1" height="11" fill="#c0c0c0"/>
<rect x="168" y="679" width="1" height="9" fill="#c0c0c0"/>
<rect x="172" y="679" width="1" height="8" fill="#c0c0c0"/>
<rect x="176" y="679" width="1" height="9" fill="#c0c0c0"/>
<rect x="180" y="679" width="1" height="8" fill="#c0c0c0"/>
<rect x="184" y="679" width="1" height="7" fill="#c0c0c0"/>
<rect x="188" y="679" width="1" height="7" fill="#c0c0c0"/>
<rect x="192" y="679" width="1" height="8" fill="#c0c0c0"/>
<rect x="196" y="679" width="1" height="8" fill="#c0c0c0"/>
<rect x="200" y="679" width="1" height="9" fill="#c0c0c0"/>
<rect x="204" y="679" width="1" height="9" fill="#c0c0c0"/>
<rect x="208" y="679" width="1" height="11" fill="#c0c0c0"/>
<rect x="212" y="679" width="1" height="12" fill="#c0c0c0"/>
<rect x="216" y="679" width="1" height="13" fill="#c0c0c0"/>
<rect x="220" y="679" width="1" height="14" fill="#c0c0c0"/>
<rect x="224" y="679" width="1" height="16" fill="#c0c0c0"/>
<rect x="228" y="679" width="1" height="16" fill="#c0c0c0"/>
<rect x="232" y="679" width="1" height="15" fill="#c0c0c0"/>
<rect x="236" y="679" width="1" height="13" fill="#c0c0c0"/>
<rect x="240" y="679" width="1" height="12" fill="#c0c0c0"/>
<rect x="244" y="679" width="1" height="11" fill="#c0c0c0"/>
<rect x="248" y="679" width="1" height="9" fill="#c0c0c0"/>
<rect x="252" y="679" width="1" height="10" fill="#c0c0c0"/>
<rect x="256" y="679" width="1" height="9" fill="#c0c0c0"/>
<rect x="260" y="679" width="1" height="7" fill="#c0c0c0"/>
<rect x="264" y="679" width="1" height="4" fill="#c0c0c0"/>
<rect x="268" y="679" width="1" height="2" fill="#c0c0c0"/>
<rect x="272" y="679" width="1" height="1" fill="#c0c0c0"/>
<rect x="276" y="678" width="1" height="2" fill="#c0c0c0"/>
<rect x="280" y="676" width="1" height="4" fill="#c0c0c0"/>
<rect x="284" y="673" width="1" height="7" fill="#c0c0c0"/>
<rect x="288" y="669" width="1" height="11" fill="#c0c0c0"/>
<rect x="292" y="667" width="1" height="13" fill="#c0c0c0"/>
<rect x="296" y="665" width="1" height="15" fill="#c0c0c0"/>
<rect x="300" y="665" width="1" height="15" fill="#c0c0c0"/>
<rect x="304" y="665" width="1" height="15" fill="#c0c0c0"/>
<rect x="308" y="666" width="1" height="14" fill="#c0c0c0"/>
<rect x="312" y="667" width="1" height="13" fill="#c0c0c0"/>
<rect x="316" y="669" width="1" height="11" fill="#c0c0c0"/>
<rect x="320" y="669" width="1" height="11" fill="#c0c0c0"/>
<rect x="324" y="669" width="1" height="11" fill="#c0c0c0"/>
<rect x="328" y="669" width="1" height="11" fill="#c0c0c0"/>
<rect x="332" y="668" width="1" height="12" fill="#c0c0c0"/>
<rect x="336" y="667" width="1" height="13" fill="#c0c0c0"/>
<rect x="340" y="666" width="1" height="14" fill="#c0c0c0"/>
<rect x="344" y="666" width="1" height="14" fill="#c0c0c0"/>
<rect x="348" y="669" width="1" height="11" fill="#c0c0c0"/>
<rect x="352" y="671" width="1" height="9" fill="#c0c0c0"/>
<rect x="356" y="674" width="1" height="6" fill="#c0c0c0"/>
<rect x="360" y="677" width="1" height="3" fill="#c0c0c0"/>
<rect x="364" y="679" width="1" height="1" fill="#c0c0c0"/>
<rect x="368" y="679" width="1" height="3" fill="#c0c0c0"/>
<rect x="372" y="679" width="1" height="5" fill="#c0c0c0"/>
<rect x="376" y="679" width="1" height="6" fill="#c0c0c0"/>
<rect x="380" y="679" width="1" height="7" fill="#c0c0c0"/>
<rect x="384" y="679" width="1" height="7" fill="#c0c0c0"/>
<rect x="388" y="679" width="1" height="6" fill="#c0c0c0"/>
<rect x="392" y="679" width="1" height="4" fill="#c0c0c0"/>
<rect x="396" y="679" width="1" height="3" fill="#c0c0c0"/>
<rect x="400" y="679" width="1" height="3" fill="#c0c0c0"/>
<rect x="404" y="679" width="1" height="2" fill="#c0c0c0"/>
<rect x="408" y="679" width="1" height="3" fill="#c0c0c0"/>
<rect x="412" y="679" width="1" height="4" fill="#c0c0c0"/>
<rect x="416" y="679" width="1" height="5" fill="#c0c0c0"/>
<rect x="420" y="679" width="1" height="6" fill="#c0c0c0"/>
<rect x="424" y="679" width="1" height="7" fill="#c0c0c0"/>
<rect x="428" y="679" width="1" height="7" fill="#c0c0c0"/>
<rect x="432" y="679" width="1" height="7" fill="#c0c0c0"/>
<rect x="436" y="679" width="1" height="7" fill="#c0c0c0"/>
<rect x="440" y="679" width="1" height="5" fill="#c0c0c0"/>
<rect x="444" y="679" width="1" height="3" fill="#c0c0c0"/>
<rect x="448" y="679" width="1" height="1" fill="#c0c0c0"/>
<rect x="452" y="678" width="1" height="2" fill="#c0c0c0"/>
<rect x="456" y="678" width="1" height="2" fill="#c0c0c0"/>
<rect x="460" y="678" width="1" height="2" fill="#c0c0c0"/>
<rect x="464" y="678" width="1" height="2" fill="#c0c0c0"/>
<rect x="468" y="677" width="1" height="3" fill="#c0c0c0"/>
<rect x="472" y="676" width="1" height="4" fill="#c0c0c0"/>
<rect x="476" y="675" width="1" height="5" fill="#c0c0c0"/>
<rect x="480" y="673" width="1" height="7" fill="#c0c0c0"/>
<rect x="484" y="673" width="1" height="7" fill="#c0c0c0"/>
<rect x="488" y="672" width="1" height="8" fill="#c0c0c0"/>
<rect x="492" y="670" width="1" height="10" fill="#c0c0c0"/>
<rect x="496" y="670" width="1" height="10" fill="#c0c0c0"/>
<rect x="500" y="671" width="1" height="9" fill="#c0c0c0"/>
<rect x="504" y="672" width="1" height="8" fill="#c0c0c0"/>
<rect x="508" y="674" width="1" height="6" fill="#c0c0c0"/>
<rect x="512" y="675" width="1" height="5" fill="#c0c0c0"/>
<rect x="516" y="676" width="1" height="4" fill="#c0c0c0"/>
<rect x="520" y="676" width="1" height="4" fill="#c0c0c0"/>
<rect x="524" y="676" width="1" height="4" fill="#c0c0c0"/>
<rect x="528" y="674" width="1" height="6" fill="#c0c0c0"/>
<rect x="532" y="672" width="1" height="8" fill="#c0c0c0"/>
<rect x="536" y="670" width="1" height="10" fill="#c0c0c0"/>
<rect x="540" y="668" width="1" height="12" fill="#c0c0c0"/>
<rect x="544" y="667" width="1" height="13" fill="#c0c0c0"/>
<rect x="548" y="666" width="1" height="14" fill="#c0c0c0"/>
<rect x="552" y="667" width="1" height="13" fill="#c0c0c0"/>
<rect x="556" y="668" width="1" height="12" fill="#c0c0c0"/>
<rect x="560" y="668" width="1" height="12" fill="#c0c0c0"/>
<rect x="564" y="669" width="1" height="11" fill="#c0c0c0"/>
<rect x="568" y="671" width="1" height="9" fill="#c0c0c0"/>
<rect x="572" y="673" width="1" height="7" fill="#c0c0c0"/>
<rect x="576" y="675" width="1" height="5" fill="#c0c0c0"/>
<rect x="580" y="676" width="1" height="4" fill="#c0c0c0"/>
<rect x="584" y="676" width="1" height="4" fill="#c0c0c0"/>
<rect x="588" y="677" width="1" height="3" fill="#c0c0c0"/>
<rect x="592" y="676" width="1" height="4" fill="#c0c0c0"/>
<rect x="596" y="677" width="1" height="3" fill="#c0c0c0"/>
<rect x="600" y="678" width="1" height="2" fill="#c0c0c0"/>
<rect x="604" y="679" width="1" height="2" fill="#c0c0c0"/>
<rect x="608" y="679" width="1" height="3" fill="#c0c0c0"/>
<rect x="612" y="679" width="1" height="4" fill="#c0c0c0"/>
<rect x="616" y="679" width="1" height="5" fill="#c0c0c0"/>
<rect x="620" y="679" width="1" height="6" fill="#c0c0c0"/>
<rect x="624" y="679" width="1" height="8" fill="#c0c0c0"/>
<rect x="628" y="679" width="1" height="10" fill="#c0c0c0"/>
<rect x="632" y="679" width="1" height="11" fill="#c0c0c0"/>
<rect x="636" y="679" width="1" height="13" fill="#c0c0c0"/>
<rect x="640" y="679" width="1" height="14" fill="#c0c0c0"/>
<rect x="644" y="679" width="1" height="13" fill="#c0c0c0"/>
<rect x="648" y="679" width="1" height="11" fill="#c0c0c0"/>
<rect x="652" y="679" width="1" height="9" fill="#c0c0c0"/>
<rect x="656" y="679" width="1" height="9" fill="#c0c0c0"/>
<rect x="660" y="679" width="1" height="9" fill="#c0c0c0"/>
<rect x="664" y="679" width="1" height="10" fill="#c0c0c0"/>
<rect x="668" y="679" width="1" height="11" fill="#c0c0c0"/>
<rect x="672" y="679" width="1" height="13" fill="#c0c0c0"/>
<rect x="676" y="679" width="1" height="14" fill="#c0c0c0"/>
<rect x="680" y="679" width="1" height="16" fill="#c0c0c0"/>
<rect x="684" y="679" width="1" height="18" fill="#c0c0c0"/>
<rect x="688" y="679" width="1" height="19" fill="#c0c0c0"/>
<rect x="692" y="679" width="1" height="22" fill="#c0c0c0"/>
<rect x="696" y="679" width="1" height="23" fill="#c0c0c0"/>
<rect x="700" y="679" width="1" height="25" fill="#c0c0c0"/>
<rect x="704" y="679" width="1" height="26" fill="#c0c0c0"/>
<rect x="708" y="679" width="1" height="27" fill="#c0c0c0"/>
<rect x="712" y="679" width="1" height="28" fill="#c0c0c0"/>
<rect x="716" y="679" width="1" height="28" fill="#c0c0c0"/>
<rect x="720" y="679" width="1" height="27" fill="#c0c0c0"/>
<rect x="724" y="679" width="1" height="25" fill="#c0c0c0"/>
<rect x="728" y="679" width="1" height="23" fill="#c0c0c0"/>
<rect x="732" y="679" width="1" height="22" fill="#c0c0c0"/>
<rect x="736" y="679" width="1" height="20" fill="#c0c0c0"/>
<rect x="740" y="679" width="1" height="15" fill="#c0c0c0"/>
<rect x="744" y="679" width="1" height="10" fill="#c0c0c0"/>
<rect x="748" y="679" width="1" height="6" fill="#c0c0c0"/>
<rect x="752" y="677" width="1" height="3" fill="#c0c0c0"/>
<rect x="756" y="670" width="1" height="10" fill="#c0c0c0"/>
<rect x="760" y="666" width="1" height="14" fill="#c0c0c0"/>
<rect x="764" y="661" width="1" height="19" fill="#c0c0c0"/>
<rect x="768" y="654" width="1" height="26" fill="#c0c0c0"/>
<rect x="772" y="649" width="1" height="31" fill="#c0c0c0"/>
<rect x="776" y="642" width="1" height="38" fill="#c0c0c0"/>
<rect x="780" y="639" width="1" height="41" fill="#c0c0c0"/>
<rect x="784" y="639" width="1" height="41" fill="#c0c0c0"/>
<rect x="788" y="646" width="1" height="34" fill="#c0c0c0"/>
<rect x="792" y="652" width="1" height="28" fill="#c0c0c0"/>
<rect x="796" y="657" width="1" height="23" fill="#c0c0c0"/>
<rect x="800" y="659" width="1" height="21" fill="#c0c0c0"/>
<rect x="804" y="666" width="1" height="14" fill="#c0c0c0"/>
<rect x="808" y="676" width="1" height="4" fill="#c0c0c0"/>
<rect x="812" y="679" width="1" height="10" fill="#c0c0c0"/>
<rect x="816" y="679" width="1" height="20" fill="#c0c0c0"/>
<rect x="820" y="679" width="1" height="28" fill="#c0c0c0"/>
<rect x="824" y="679" width="1" height="31" fill="#c0c0c0"/>
<rect x="828" y="679" width="1" height="32" fill="#c0c0c0"/>
<rect x="832" y="679" width="1" height="31" fill="#c0c0c0"/>
<rect x="836" y="679" width="1" height="24" fill="#c0c0c0"/>
<rect x="840" y="679" width="1" height="17" fill="#c0c0c0"/>
<rect x="844" y="679" width="1" height="10" fill="#c0c0c0"/>
<rect x="848" y="679" width="1" height="7" fill="#c0c0c0"/>
<rect x="852" y="679" width="1" height="5" fill="#c0c0c0"/>
<rect x="856" y="679" width="1" height="6" fill="#c0c0c0"/>
<rect x="860" y="679" width="1" height="8" fill="#c0c0c0"/>
<rect x="864" y="679" width="1" height="13" fill="#c0c0c0"/>
<rect x="868" y="679" width="1" height="15" fill="#c0c0c0"/>
<rect x="872" y="679" width="1" height="17" fill="#c0c0c0"/>
<rect x="876" y="679" width="1" height="16" fill="#c0c0c0"/>
<rect x="880" y="679" width="1" height="16" fill="#c0c0c0"/>
<rect x="884" y="679" width="1" height="14" fill="#c0c0c0"/>
<rect x="888" y="679" width="1" height="11" fill="#c0c0c0"/>
<rect x="892" y="679" width="1" height="9" fill="#c0c0c0"/>
<rect x="896" y="679" width="1" height="9" fill="#c0c0c0"/>
<rect x="900" y="679" width="1" height="6" fill="#c0c0c0"/>
<rect x="904" y="679" width="1" height="6" fill="#c0c0c0"/>
<rect x="908" y="679" width="1" height="8" fill="#c0c0c0"/>
<rect x="912" y="679" width="1" height="8" fill="#c0c0c0"/>
<rect x="916" y="679" width="1" height="8" fill="#c0c0c0"/>
<rect x="920" y="679" width="1" height="9" fill="#c0c0c0"/>
<rect x="924" y="679" width="1" height="9" fill="#c0c0c0"/>
<rect x="928" y="679" width="1" height="10" fill="#c0c0c0"/>
<rect x="932" y="679" width="1" height="12" fill="#c0c0c0"/>
<rect x="936" y="679" width="1" height="13" fill="#c0c0c0"/>
<rect x="940" y="679" width="1" height="14" fill="#c0c0c0"/>
<rect x="944" y="679" width="1" height="14" fill="#c0c0c0"/>
<rect x="948" y="679" width="1" height="13" fill="#c0c0c0"/>
<rect x="952" y="679" width="1" height="12" fill="#c0c0c0"/>
<rect x="956" y="679" width="1" height="8" fill="#c0c0c0"/>
<rect x="960" y="679" width="1" height="3" fill="#c0c0c0"/>
<rect x="964" y="678" width="1" height="2" fill="#c0c0c0"/>
<rect x="968" y="678" width="1" height="2" fill="#c0c0c0"/>
<rect x="972" y="679" width="1" height="2" fill="#c0c0c0"/>
<rect x="976" y="679" width="1" height="4" fill="#c0c0c0"/>
<rect x="980" y="679" width="1" height="6" fill="#c0c0c0"/>
<rect x="984" y="679" width="1" height="6" fill="#c0c0c0"/>
<rect x="988" y="679" width="1" height="6" fill="#c0c0c0"/>
<rect x="992" y="679" width="1" height="7" fill="#c0c0c0"/>
<rect x="996" y="679" width="1" height="6" fill="#c0c0c0"/>
<rect x="1000" y="679" width="1" height="7" fill="#c0c0c0"/>
<rect x="1004" y="679" width="1" height="8" fill="#c0c0c0"/>
<rect x="1008" y="679" width="1" height="8" fill="#c0c0c0"/>
<rect x="1012" y="679" width="1" height="9" fill="#c0c0c0"/>
<rect x="1016" y="679" width="1" height="6" fill="#c0c0c0"/>
<rect x="1020" y="679" width="1" height="3" fill="#c0c0c0"/>
<rect x="1024" y="677" width="1" height="3" fill="#c0c0c0"/>
<rect x="1028" y="675" width="1" height="5" fill="#c0c0c0"/>
<rect x="1032" y="675" width="1" height="5" fill="#c0c0c0"/>
<rect x="1036" y="675" width="1" height="5" fill="#c0c0c0"/>
<rect x="1040" y="675" width="1" height="5" fill="#c0c0c0"/>
<rect x="1044" y="673" width="1" height="7" fill="#c0c0c0"/>
<rect x="1048" y="672" width="1" height="8" fill="#c0c0c0"/>
<rect x="1052" y="668" width="1" height="12" fill="#c0c0c0"/>
<rect x="1056" y="663" width="1" height="17" fill="#c0c0c0"/>
<rect x="1060" y="660" width="1" height="20" fill="#c0c0c0"/>
<rect x="1064" y="657" width="1" height="23" fill="#c0c0c0"/>
<rect x="1068" y="654" width="1" height="26" fill="#c0c0c0"/>
<rect x="1072" y="649" width="1" height="31" fill="#c0c0c0"/>
<rect x="1076" y="643" width="1" height="37" fill="#c0c0c0"/>
<rect x="1080" y="640" width="1" height="40" fill="#c0c0c0"/>
<rect x="1084" y="638" width="1" height="42" fill="#c0c0c0"/>
<rect x="1088" y="637" width="1" height="43" fill="#c0c0c0"/>
<rect x="1092" y="635" width="1" height="45" fill="#c0c0c0"/>
<rect x="1096" y="633" width="1" height="47" fill="#c0c0c0"/>
<rect x="1100" y="632" width="1" height="48" fill="#c0c0c0"/>
<rect x="1104" y="636" width="1" height="44" fill="#c0c0c0"/>
<rect x="1108" y="639" width="1" height="41" fill="#c0c0c0"/>
<rect x="1112" y="642" width="1" height="38" fill="#c0c0c0"/>
<rect x="1116" y="644" width="1" height="36" fill="#c0c0c0"/>
<rect x="1120" y="648" width="1" height="32" fill="#c0c0c0"/>
<rect x="1124" y="651" width="1" height="29" fill="#c0c0c0"/>
<rect x="1128" y="655" width="1" height="25" fill="#c0c0c0"/>
<rect x="1132" y="658" width="1" height="22" fill="#c0c0c0"/>
<rect x="1136" y="659" width="1" height="21" fill="#c0c0c0"/>
<rect x="1140" y="657" width="1" height="23" fill="#c0c0c0"/>
<rect x="1144" y="658" width="1" height="22" fill="#c0c0c0"/>
<rect x="1148" y="661" width="1" height="19" fill="#c0c0c0"/>
<rect x="1152" y="663" width="1" height="17" fill="#c0c0c0"/>
<rect x="1156" y="664" width="1" height="16" fill="#c0c0c0"/>
<rect x="1160" y="665" width="1" height="15" fill="#c0c0c0"/>
<rect x="1164" y="666" width="1" height="14" fill="#c0c0c0"/>
<rect x="1168" y="667" width="1" height="13" fill="#c0c0c0"/>
<rect x="1172" y="668" width="1" height="12" fill="#c0c0c0"/>
<rect x="1176" y="669" width="1" height="11" fill="#c0c0c0"/>
<rect x="1180" y="670" width="1" height="10" fill="#c0c0c0"/>
<rect x="1184" y="668" width="1" height="12" fill="#c0c0c0"/>
<rect x="1188" y="668" width="1" height="12" fill="#c0c0c0"/>
<rect x="1192" y="666" width="1" height="14" fill="#c0c0c0"/>
<rect x="1196" y="666" width="1" height="14" fill="#c0c0c0"/>
<rect x="1200" y="666" width="1" height="14" fill="#c0c0c0"/>
<rect x="1204" y="666" width="1" height="14" fill="#c0c0c0"/>
<rect x="1208" y="665" width="1" height="15" fill="#c0c0c0"/>
<rect x="1212" y="662" width="1" height="18" fill="#c0c0c0"/>
<rect x="1216" y="661" width="1" height="19" fill="#c0c0c0"/>
<rect x="1220" y="659" width="1" height="21" fill="#c0c0c0"/>
<rect x="1224" y="657" width="1" height="23" fill="#c0c0c0"/>
<rect x="1228" y="657" width="1" height="23" fill="#c0c0c0"/>
<rect x="1232" y="656" width="1" height="24" fill="#c0c0c0"/>
<rect x="1236" y="654" width="1" height="26" fill="#c0c0c0"/>
<rect x="1240" y="650" width="1" height="30" fill="#c0c0c0"/>
<rect x="1244" y="646" width="1" height="34" fill="#c0c0c0"/>
<rect x="1248" y="643" width="1" height="37" fill="#c0c0c0"/>
<rect x="1252" y="641" width="1" height="39" fill="#c0c0c0"/>
<rect x="1256" y="637" width="1" height="43" fill="#c0c0c0"/>
<rect x="1260" y="634" width="1" height="46" fill="#c0c0c0"/>
<rect x="1264" y="631" width="1" height="49" fill="#c0c0c0"/>
<rect x="1268" y="629" width="1" height="51" fill="#c0c0c0"/>
<path d="M386 681h3v1h-3zM458 681h3v1h-3zM464 681h2v1h-2zM338 668h3v1h-3zM344 668h3v1h-3zM350 668h3v1h-3zM566 668h3v1h-3zM572 668h2v1h-2zM314 667h3v1h-3zM320 667h3v1h-3zM326 667h3v1h-3zM332 667h2v1h-2zM1066 667h2v1h-2zM1186 667h3v1h-3zM1192 667h2v1h-2zM1198 667h3v1h-3zM1204 667h3v1h-3zM128 690h2v1h-2zM176 690h2v1h-2zM254 690h3v1h-3zM868 690h2v1h-2zM880 690h3v1h-3zM904 690h2v1h-2zM952 690h3v1h-3zM1162 661h3v1h-3zM14 691h3v1h-3zM44 691h2v1h-2zM170 691h3v1h-3zM230 691h3v1h-3zM236 691h3v1h-3zM242 691h3v1h-3zM248 691h3v1h-3zM686 691h3v1h-3zM886 691h3v1h-3zM892 691h3v1h-3zM898 691h3v1h-3zM303 671h2v1h-2zM362 671h3v1h-3zM1234 660h3v1h-3zM308 669h2v1h-2zM356 669h2v1h-2zM560 669h2v1h-2zM8 689h2v1h-2zM50 689h3v1h-3zM122 689h3v1h-3zM224 689h2v1h-2zM260 689h2v1h-2zM650 689h3v1h-3zM656 689h3v1h-3zM662 689h3v1h-3zM668 689h3v1h-3zM674 689h3v1h-3zM680 689h2v1h-2zM874 689h3v1h-3zM946 689h3v1h-3zM958 689h3v1h-3zM68 683h3v1h-3zM74 683h3v1h-3zM278 683h3v1h-3zM398 683h3v1h-3zM404 683h3v1h-3zM428 683h3v1h-3zM434 683h3v1h-3zM446 683h3v1h-3zM452 683h2v1h-2zM1000 683h2v1h-2zM392 682h2v1h-2zM410 682h3v1h-3zM416 682h3v1h-3zM422 682h3v1h-3zM626 682h3v1h-3zM982 682h3v1h-3zM988 682h3v1h-3zM994 682h3v1h-3zM1030 682h3v1h-3zM26 693h3v1h-3zM32 693h3v1h-3zM140 693h2v1h-2zM164 693h2v1h-2zM692 693h2v1h-2zM705 698h2v1h-2zM746 698h2v1h-2zM838 698h2v1h-2zM851 698h2v1h-2zM1157 659h2v1h-2zM98 688h3v1h-3zM104 688h3v1h-3zM110 688h3v1h-3zM116 688h2v1h-2zM182 688h3v1h-3zM218 688h3v1h-3zM910 688h3v1h-3zM940 688h2v1h-2zM964 688h2v1h-2zM297 674h2v1h-2zM494 674h3v1h-3zM530 674h3v1h-3zM536 674h2v1h-2zM590 674h3v1h-3zM1108 637h3v1h-3zM1114 637h3v1h-3zM506 672h3v1h-3zM512 672h2v1h-2zM548 672h2v1h-2zM585 672h2v1h-2zM1222 663h3v1h-3zM20 692h2v1h-2zM38 692h3v1h-3zM134 692h3v1h-3zM862 692h2v1h-2zM1139 650h2v1h-2zM1127 642h2v1h-2zM375 676h2v1h-2zM482 676h3v1h-3zM488 676h2v1h-2zM1048 676h2v1h-2zM1090 647h2v1h-2zM1258 647h2v1h-2zM92 686h2v1h-2zM194 686h3v1h-3zM200 686h3v1h-3zM206 686h3v1h-3zM638 686h3v1h-3zM922 686h3v1h-3zM928 686h3v1h-3zM722 704h3v1h-3zM728 704h3v1h-3zM56 687h2v1h-2zM188 687h3v1h-3zM212 687h3v1h-3zM266 687h3v1h-3zM644 687h2v1h-2zM916 687h2v1h-2zM934 687h3v1h-3zM476 678h2v1h-2zM1042 678h3v1h-3zM1180 666h2v1h-2zM1210 666h3v1h-3zM63 684h2v1h-2zM80 684h3v1h-3zM440 684h3v1h-3zM633 684h2v1h-2zM976 684h2v1h-2zM1006 684h3v1h-3zM1024 684h2v1h-2zM554 670h3v1h-3zM578 670h3v1h-3zM1061 670h2v1h-2zM369 673h2v1h-2zM500 673h3v1h-3zM518 673h3v1h-3zM524 673h2v1h-2zM542 673h3v1h-3zM1055 673h2v1h-2zM86 685h3v1h-3zM272 685h2v1h-2zM971 685h2v1h-2zM1012 685h3v1h-3zM1018 685h3v1h-3zM146 694h3v1h-3zM158 694h3v1h-3zM1151 657h2v1h-2zM1241 657h2v1h-2zM152 695h3v1h-3zM857 695h2v1h-2zM596 675h2v1h-2zM806 652h2v1h-2zM381 679h2v1h-2zM470 679h3v1h-3zM614 679h3v1h-3zM291 677h2v1h-2zM602 677h3v1h-3zM608 677h2v1h-2zM734 703h3v1h-3zM711 701h2v1h-2zM741 701h2v1h-2zM794 649h2v1h-2zM799 649h3v1h-3zM1247 654h2v1h-2zM699 696h2v1h-2zM844 700h3v1h-3zM285 680h2v1h-2zM620 680h2v1h-2zM1037 680h2v1h-2zM1168 662h2v1h-2zM1228 662h2v1h-2zM1175 665h2v1h-2zM1216 665h2v1h-2zM1103 638h2v1h-2zM716 702h2v1h-2zM1121 639h2v1h-2zM10 690h1v1h-1zM815 663h1v2h-1zM970 686h1v1h-1zM296 675h1v1h-1zM1096 643h1v1h-1zM1085 652h1v1h-1zM334 668h1v1h-1zM1182 667h1v1h-1zM1133 646h1v1h-1zM777 664h1v1h-1zM302 672h1v1h-1zM1060 671h1v1h-1zM764 682h1v1h-1zM1084 653h1v1h-1zM130 691h1v1h-1zM118 689h1v1h-1zM1002 684h1v1h-1zM704 697h1v1h-1zM562 668h1v1h-1zM1134 647h1v1h-1zM22 693h1v1h-1zM4 688h1v1h-1zM584 671h1v1h-1zM752 694h1v1h-1zM1218 664h1v1h-1zM825 680h1v2h-1zM856 696h1v1h-1zM632 683h1v1h-1zM834 693h1v2h-1zM46 690h1v1h-1zM774 668h1v2h-1zM818 668h1v2h-1zM1254 650h1v1h-1zM821 674h1v1h-1zM1246 655h1v1h-1zM829 686h1v2h-1zM1138 649h1v1h-1zM550 671h1v1h-1zM698 695h1v1h-1zM1266 642h1v1h-1zM770 674h1v1h-1zM454 682h1v1h-1zM814 662h1v1h-1zM782 657h1v2h-1zM822 675h1v2h-1zM788 652h1v1h-1zM1132 645h1v1h-1zM840 699h1v1h-1zM718 703h1v1h-1zM819 670h1v1h-1zM1230 661h1v1h-1zM262 688h1v1h-1zM368 672h1v1h-1zM598 676h1v1h-1zM1194 668h1v1h-1zM1050 675h1v1h-1zM1078 658h1v1h-1zM358 670h1v1h-1zM166 692h1v1h-1zM58 686h1v1h-1zM610 678h1v1h-1zM574 669h1v1h-1zM759 687h1v1h-1zM1240 658h1v1h-1zM760 686h1v1h-1zM514 673h1v1h-1zM1074 662h1v1h-1zM1120 638h1v1h-1zM394 683h1v1h-1zM758 688h1v1h-1zM1036 681h1v1h-1zM142 694h1v1h-1zM918 686h1v1h-1zM380 678h1v1h-1zM310 668h1v1h-1zM1073 663h1v1h-1zM789 651h1v1h-1zM942 689h1v1h-1zM178 689h1v1h-1zM274 684h1v1h-1zM830 688h1v1h-1zM1072 664h1v1h-1zM1253 651h1v1h-1zM787 653h1v1h-1zM466 680h1v1h-1zM769 675h1v2h-1zM1265 643h1v1h-1zM1252 652h1v1h-1zM1145 653h1v1h-1zM1264 644h1v1h-1zM793 650h1v1h-1zM870 689h1v1h-1zM1102 639h1v1h-1zM374 675h1v1h-1zM805 651h1v1h-1zM682 690h1v1h-1zM966 687h1v1h-1zM1026 683h1v1h-1zM478 677h1v1h-1zM1146 654h1v1h-1zM538 673h1v1h-1zM766 680h1v1h-1zM646 688h1v1h-1zM1092 646h1v1h-1zM710 700h1v1h-1zM778 663h1v1h-1zM1174 664h1v1h-1zM779 662h1v1h-1zM1156 658h1v1h-1zM526 674h1v1h-1zM765 681h1v1h-1zM94 687h1v1h-1zM226 690h1v1h-1zM1054 674h1v1h-1zM694 694h1v1h-1zM773 670h1v1h-1zM1080 656h1v1h-1zM622 681h1v1h-1zM62 685h1v1h-1zM812 658h1v1h-1zM1150 656h1v1h-1zM1079 657h1v1h-1zM1068 666h1v1h-1zM906 689h1v1h-1zM754 692h1v1h-1zM740 702h1v1h-1zM1144 652h1v1h-1zM850 699h1v1h-1zM753 693h1v1h-1zM978 683h1v1h-1zM833 692h1v1h-1zM748 697h1v1h-1zM1260 646h1v1h-1zM284 681h1v1h-1zM290 678h1v1h-1zM810 656h1v1h-1zM864 691h1v1h-1zM1170 663h1v1h-1zM811 657h1v1h-1zM490 675h1v1h-1zM1097 642h1v1h-1zM1098 641h1v1h-1zM1086 651h1v1h-1zM826 682h1v1h-1zM1126 641h1v1h-1zM783 656h1v1h-1z" fill="#ff0000"/>
<text x="7.6" y="636" font-size="9.8" letter-spacing="-0.33" fill="#000" text-anchor="start" textLength="148.6">MACD(12,26,9) 0.012820 0.009902</text>
<text x="1600.3" y="633.3" font-size="9.8" letter-spacing="-0.33" fill="#000" text-anchor="start" >0.013858</text>
<text x="1600.3" y="683" font-size="9.8" letter-spacing="-0.33" fill="#000" text-anchor="start" >0.00</text>
<text x="1600.3" y="711.8" font-size="9.8" letter-spacing="-0.33" fill="#000" text-anchor="start" >-0.008968</text>
<rect x="1597" y="679" width="2" height="1" fill="#000"/>
<rect x="4" y="716" width="1" height="3" fill="#000"/>
<text x="2.6" y="728" font-size="9.8" letter-spacing="-0.33" fill="#000" text-anchor="start" textLength="47.4">27 Jul 2019</text>
<rect x="68" y="716" width="1" height="3" fill="#000"/>
<text x="67" y="728" font-size="9.8" letter-spacing="-0.33" fill="#000" text-anchor="start" textLength="53.4">15 Aug 2019</text>
<rect x="132" y="716" width="1" height="3" fill="#000"/>
<text x="131" y="728" font-size="9.8" letter-spacing="-0.33" fill="#000" text-anchor="start" textLength="46.7">3 Sep 2019</text>
<rect x="196" y="716" width="1" height="3" fill="#000"/>
<text x="195" y="728" font-size="9.8" letter-spacing="-0.33" fill="#000" text-anchor="start" textLength="52.2">21 Sep 2019</text>
<rect x="260" y="716" width="1" height="3" fill="#000"/>
<text x="259" y="728" font-size="9.8" letter-spacing="-0.33" fill="#000" text-anchor="start" textLength="50.8">10 Oct 2019</text>
<rect x="324" y="716" width="1" height="3" fill="#000"/>
<text x="323" y="728" font-size="9.8" letter-spacing="-0.33" fill="#000" text-anchor="start" textLength="51.0">29 Oct 2019</text>
<rect x="388" y="716" width="1" height="3" fill="#000"/>
<text x="387" y="728" font-size="9.8" letter-spacing="-0.33" fill="#000" text-anchor="start" textLength="53.9">16 Nov 2019</text>
<rect x="452" y="716" width="1" height="3" fill="#000"/>
<text x="451" y="728" font-size="9.8" letter-spacing="-0.33" fill="#000" text-anchor="start" textLength="46.7">5 Dec 2019</text>
<rect x="516" y="716" width="1" height="3" fill="#000"/>
<text x="515" y="728" font-size="9.8" letter-spacing="-0.33" fill="#000" text-anchor="start" textLength="52.2">24 Dec 2019</text>
<rect x="580" y="716" width="1" height="3" fill="#000"/>
<text x="579" y="728" font-size="9.8" letter-spacing="-0.33" fill="#000" text-anchor="start" textLength="49.2">11 Jan 2020</text>
<rect x="644" y="716" width="1" height="3" fill="#000"/>
<text x="643" y="728" font-size="9.8" letter-spacing="-0.33" fill="#000" text-anchor="start" textLength="50.3">30 Jan 2020</text>
<rect x="708" y="716" width="1" height="3" fill="#000"/>
<text x="707" y="728" font-size="9.8" letter-spacing="-0.33" fill="#000" text-anchor="start" textLength="51.7">18 Feb 2020</text>
<rect x="772" y="716" width="1" height="3" fill="#000"/>
<text x="771" y="728" font-size="9.8" letter-spacing="-0.33" fill="#000" text-anchor="start" textLength="46.7">7 Mar 2020</text>
<rect x="836" y="716" width="1" height="3" fill="#000"/>
<text x="835" y="728" font-size="9.8" letter-spacing="-0.33" fill="#000" text-anchor="start" textLength="52.2">26 Mar 2020</text>
<rect x="900" y="716" width="1" height="3" fill="#000"/>
<text x="899" y="728" font-size="9.8" letter-spacing="-0.33" fill="#000" text-anchor="start" textLength="50.8">14 Apr 2020</text>
<rect x="964" y="716" width="1" height="3" fill="#000"/>
<text x="963" y="728" font-size="9.8" letter-spacing="-0.33" fill="#000" text-anchor="start" textLength="50.3">2 May 2020</text>
<rect x="1028" y="716" width="1" height="3" fill="#000"/>
<text x="1027" y="728" font-size="9.8" letter-spacing="-0.33" fill="#000" text-anchor="start" textLength="54.7">21 May 2020</text>
<rect x="1092" y="716" width="1" height="3" fill="#000"/>
<text x="1091" y="728" font-size="9.8" letter-spacing="-0.33" fill="#000" text-anchor="start" textLength="44.2">9 Jun 2020</text>
<rect x="1156" y="716" width="1" height="3" fill="#000"/>
<text x="1155" y="728" font-size="9.8" letter-spacing="-0.33" fill="#000" text-anchor="start" textLength="49.7">27 Jun 2020</text>
<rect x="1220" y="716" width="1" height="3" fill="#000"/>
<text x="1219" y="728" font-size="9.8" letter-spacing="-0.33" fill="#000" text-anchor="start" textLength="46.2">16 Jul 2020</text>
<rect x="0" y="736" width="1638" height="1" fill="#e6e6e6"/>
<rect x="0" y="737" width="1638" height="1" fill="#fafafa"/>
<rect x="0" y="738" width="1638" height="1" fill="#000"/>
<rect x="109" y="739" width="1529" height="1" fill="#ffffff"/>
<rect x="6" y="738" width="102" height="18" fill="#fff"/>
<rect x="5" y="738" width="1" height="19" fill="#000"/>
<rect x="5" y="756" width="104" height="1" fill="#000"/>
<rect x="108" y="738" width="1" height="19" fill="#000"/>
<rect x="109" y="739" width="1" height="18" fill="#ffffff"/>
<rect x="0" y="739" width="1" height="19" fill="#696969"/>
<rect x="1" y="739" width="1" height="19" fill="#ffffff"/>
<rect x="0" y="758" width="1638" height="2" fill="#fafafa"/>
<rect x="0" y="760" width="1638" height="1" fill="#e6e6e6"/>
<rect x="0" y="761" width="1638" height="1" fill="#c0c0c0"/>
<rect x="0" y="762" width="1638" height="1" fill="#a0a0a0"/>
<text x="16.4" y="752.7" font-size="11.9" letter-spacing="0" fill="#000" text-anchor="start" textLength="80.7">EURUSD,Daily</text>
<text x="118.4" y="752.7" font-size="11.9" letter-spacing="0" fill="#696969" text-anchor="start" textLength="80.3">USDCHF,Daily</text>
<text x="219.1" y="752.7" font-size="11.9" letter-spacing="0" fill="#696969" text-anchor="start" textLength="83.0">AUDUSD,Daily</text>
<text x="323.1" y="752.7" font-size="11.9" letter-spacing="0" fill="#696969" text-anchor="start" textLength="82.3">USDCAD,Daily</text>
<text x="426.4" y="752.7" font-size="11.9" letter-spacing="0" fill="#696969" text-anchor="start" textLength="84.0">USDCNH,Daily</text>
<text x="531.4" y="752.7" font-size="11.9" letter-spacing="0" fill="#696969" text-anchor="start" textLength="78.3">EURUSD,M15</text>
<text x="631.4" y="752.7" font-size="11.9" letter-spacing="0" fill="#696969" text-anchor="start" textLength="79.0">GBPUSD,M30</text>
<text x="732.4" y="752.7" font-size="11.9" letter-spacing="0" fill="#696969" text-anchor="start" textLength="72.3">XAUUSD,M5</text>
<text x="827.4" y="752.7" font-size="11.9" letter-spacing="0" fill="#696969" text-anchor="start" textLength="50.3">HK50,H1</text>
<text x="899.1" y="752.7" font-size="11.9" letter-spacing="0" fill="#696969" text-anchor="start" textLength="58.0">UK100,H1</text>
<text x="979.1" y="752.7" font-size="11.9" letter-spacing="0" fill="#696969" text-anchor="start" textLength="58.0">UK100,H1</text>
<text x="1059.8" y="752.7" font-size="11.9" letter-spacing="0" fill="#696969" text-anchor="start" textLength="57.3">GER30,H1</text>
<text x="1138.4" y="752.7" font-size="11.9" letter-spacing="0" fill="#696969" text-anchor="start" textLength="55.3">FRA40,H1</text>
<text x="1214.8" y="752.7" font-size="11.9" letter-spacing="0" fill="#696969" text-anchor="start" textLength="63.3">USOil,Daily</text>
<text x="1298.4" y="752.7" font-size="11.9" letter-spacing="0" fill="#696969" text-anchor="start" textLength="63.7">USDJPY,H1</text>
<text x="1383.4" y="752.7" font-size="11.9" letter-spacing="0" fill="#696969" text-anchor="start" textLength="57.0">DJ30,M15</text>
<text x="1462.4" y="752.7" font-size="11.9" letter-spacing="0" fill="#696969" text-anchor="start" textLength="79.7">CHINA300,H4</text>
<rect x="209" y="741" width="1" height="14" fill="#696969"/>
<rect x="313" y="741" width="1" height="14" fill="#696969"/>
<rect x="417" y="741" width="1" height="14" fill="#696969"/>
<rect x="521" y="741" width="1" height="14" fill="#696969"/>
<rect x="621" y="741" width="1" height="14" fill="#696969"/>
<rect x="721" y="741" width="1" height="14" fill="#696969"/>
<rect x="816" y="741" width="1" height="14" fill="#696969"/>
<rect x="889" y="741" width="1" height="14" fill="#696969"/>
<rect x="969" y="741" width="1" height="14" fill="#696969"/>
<rect x="1049" y="741" width="1" height="14" fill="#696969"/>
<rect x="1129" y="741" width="1" height="14" fill="#696969"/>
<rect x="1205" y="741" width="1" height="14" fill="#696969"/>
<rect x="1289" y="741" width="1" height="14" fill="#696969"/>
<rect x="1373" y="741" width="1" height="14" fill="#696969"/>
<rect x="1453" y="741" width="1" height="14" fill="#696969"/>
<rect x="1554" y="741" width="1" height="14" fill="#696969"/>
<path d="M1616 743 L1616 751 L1612 747 Z M1631 743 L1631 751 L1635 747 Z" fill="#a0a0a0" shape-rendering="auto"/>
</svg></body></html>
